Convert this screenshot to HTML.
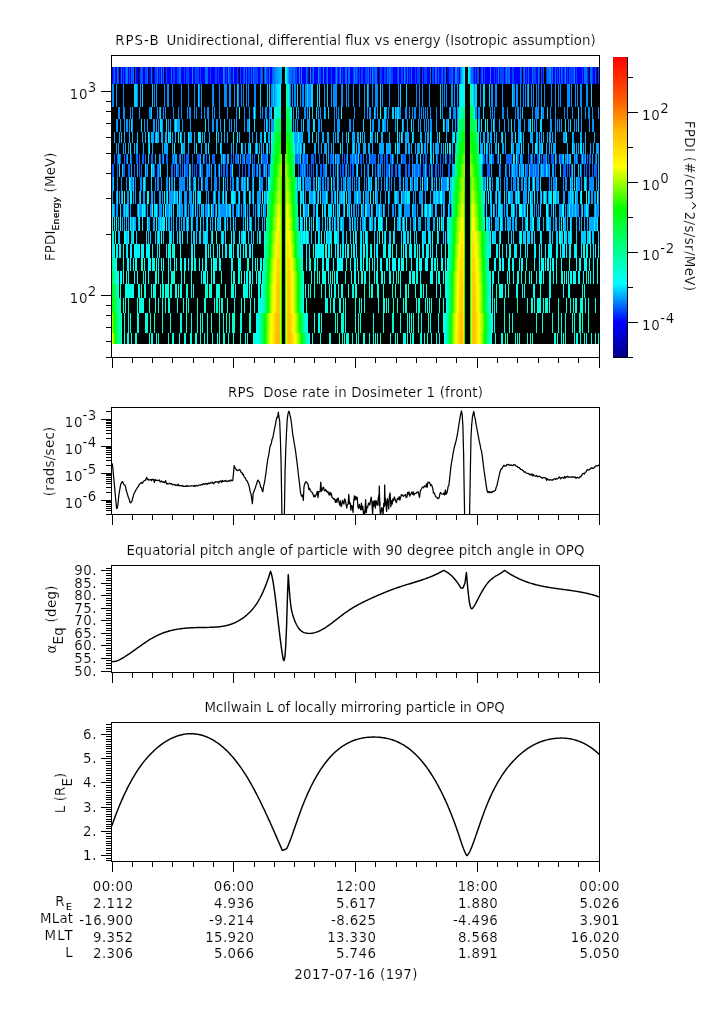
<!DOCTYPE html>
<html lang="en"><head><meta charset="utf-8"><title>RPS-B summary plot 2017-07-16</title>
<style>
html,body{margin:0;padding:0;background:#fff}
svg{display:block;font-family:"DejaVu Sans", "Liberation Sans", sans-serif;font-size:13.33px;fill:#000}
.c path{shape-rendering:crispEdges;fill:none}
.k{stroke:#000;stroke-width:1;shape-rendering:crispEdges;fill:none}
.l path{stroke:#000;stroke-width:1.45;fill:none;stroke-linejoin:round;stroke-linecap:round}
text{white-space:pre;stroke:#fff;stroke-width:0.15px}
</style></head><body>
<svg width="725" height="1019" viewBox="0 0 725 1019">
<rect width="725" height="1019" fill="#fff"/>
<g class="c">
<path stroke="#000" stroke-width="17" d="M112 75.5H599"/>
<path stroke="#0000fe" stroke-width="17" d="M112 75.5h1M115 75.5h2M120 75.5h1M122 75.5h1M124 75.5h1M128 75.5h1M130 75.5h1M136 75.5h2M139 75.5h1M143 75.5h2M149 75.5h2M152 75.5h1M154 75.5h1M158 75.5h1M160 75.5h1M162 75.5h1M165 75.5h1M167 75.5h4M172 75.5h1M175 75.5h2M181 75.5h3M185 75.5h1M189 75.5h3M193 75.5h2M199 75.5h1M201 75.5h4M208 75.5h2M211 75.5h4M217 75.5h1M219 75.5h4M225 75.5h1M227 75.5h1M231 75.5h2M234 75.5h3M238 75.5h1M241 75.5h2M245 75.5h1M247 75.5h1M250 75.5h1M252 75.5h1M258 75.5h2M268 75.5h1M270 75.5h2M297 75.5h2M300 75.5h1M302 75.5h4M308 75.5h1M311 75.5h1M314 75.5h4M321 75.5h2M324 75.5h2M328 75.5h3M332 75.5h3M338 75.5h1M341 75.5h1M343 75.5h2M347 75.5h1M350 75.5h3M358 75.5h1M360 75.5h1M363 75.5h2M369 75.5h1M371 75.5h1M377 75.5h1M379 75.5h1M382 75.5h2M386 75.5h1M393 75.5h4M399 75.5h2M403 75.5h1M406 75.5h1M408 75.5h1M410 75.5h1M412 75.5h3M416 75.5h1M420 75.5h1M423 75.5h1M427 75.5h3M434 75.5h1M437 75.5h1M439 75.5h2M443 75.5h1M447 75.5h2M453 75.5h2M459 75.5h1M474 75.5h1M476 75.5h1M480 75.5h1M483 75.5h1M485 75.5h5M491 75.5h3M495 75.5h1M497 75.5h1M499 75.5h1M504 75.5h1M510 75.5h2M514 75.5h6M525 75.5h1M527 75.5h1M529 75.5h3M536 75.5h2M542 75.5h1M553 75.5h2M556 75.5h1M558 75.5h1M560 75.5h1M563 75.5h1M566 75.5h1M568 75.5h1M575 75.5h1M577 75.5h5M583 75.5h1M588 75.5h1M593 75.5h2M596 75.5h1"/>
<path stroke="#0043ff" stroke-width="17" d="M113 75.5h1M118 75.5h1M123 75.5h1M125 75.5h1M129 75.5h1M132 75.5h1M135 75.5h1M140 75.5h1M142 75.5h1M145 75.5h2M155 75.5h2M159 75.5h1M166 75.5h1M173 75.5h2M177 75.5h2M184 75.5h1M186 75.5h3M195 75.5h4M200 75.5h1M210 75.5h1M215 75.5h2M218 75.5h1M226 75.5h1M229 75.5h2M237 75.5h1M240 75.5h1M243 75.5h1M248 75.5h2M254 75.5h4M260 75.5h1M262 75.5h1M264 75.5h1M266 75.5h2M292 75.5h1M295 75.5h2M307 75.5h1M312 75.5h1M319 75.5h2M326 75.5h1M331 75.5h1M335 75.5h1M337 75.5h1M339 75.5h1M342 75.5h1M353 75.5h1M355 75.5h1M357 75.5h1M359 75.5h1M361 75.5h2M365 75.5h3M373 75.5h2M380 75.5h2M384 75.5h2M388 75.5h1M391 75.5h2M397 75.5h1M401 75.5h2M405 75.5h1M409 75.5h1M415 75.5h1M417 75.5h3M422 75.5h1M424 75.5h3M432 75.5h2M441 75.5h1M444 75.5h1M449 75.5h3M457 75.5h2M473 75.5h1M475 75.5h1M477 75.5h2M481 75.5h1M484 75.5h1M494 75.5h1M496 75.5h1M500 75.5h4M505 75.5h1M507 75.5h1M512 75.5h2M521 75.5h1M523 75.5h1M526 75.5h1M533 75.5h3M539 75.5h1M541 75.5h1M543 75.5h1M546 75.5h1M551 75.5h1M557 75.5h1M562 75.5h1M564 75.5h1M567 75.5h1M569 75.5h5M576 75.5h1M582 75.5h1M587 75.5h1M592 75.5h1M595 75.5h1M598 75.5h1"/>
<path stroke="#006bff" stroke-width="17" d="M114 75.5h1M117 75.5h1M121 75.5h1M127 75.5h1M131 75.5h1M133 75.5h1M141 75.5h1M147 75.5h1M151 75.5h1M157 75.5h1M163 75.5h1M171 75.5h1M179 75.5h2M205 75.5h3M224 75.5h1M233 75.5h1M244 75.5h1M246 75.5h1M251 75.5h1M253 75.5h1M261 75.5h1M269 75.5h1M290 75.5h2M293 75.5h2M306 75.5h1M313 75.5h1M327 75.5h1M345 75.5h2M348 75.5h2M356 75.5h1M368 75.5h1M370 75.5h1M375 75.5h2M387 75.5h1M389 75.5h2M398 75.5h1M407 75.5h1M411 75.5h1M430 75.5h1M435 75.5h2M438 75.5h1M442 75.5h1M445 75.5h1M452 75.5h1M472 75.5h1M482 75.5h1M508 75.5h2M520 75.5h1M524 75.5h1M528 75.5h1M532 75.5h1M538 75.5h1M547 75.5h2M552 75.5h1M555 75.5h1M559 75.5h1M561 75.5h1M584 75.5h3M590 75.5h2"/>
<path stroke="#0088ff" stroke-width="17" d="M126 75.5h1M161 75.5h1M192 75.5h1M223 75.5h1M228 75.5h1M265 75.5h1M299 75.5h1M301 75.5h1M310 75.5h1M318 75.5h1M323 75.5h1M336 75.5h1M340 75.5h1M354 75.5h1M372 75.5h1M404 75.5h1M455 75.5h2M490 75.5h1M498 75.5h1M506 75.5h1M549 75.5h2M565 75.5h1M574 75.5h1"/>
<path stroke="#005cff" stroke-width="17" d="M272 75.5h1"/>
<path stroke="#006aff" stroke-width="17" d="M273 75.5h1"/>
<path stroke="#007aff" stroke-width="17" d="M274 75.5h1"/>
<path stroke="#0089ff" stroke-width="17" d="M275 75.5h1"/>
<path stroke="#0095ff" stroke-width="17" d="M276 75.5h1"/>
<path stroke="#009dff" stroke-width="17" d="M277 75.5h1"/>
<path stroke="#00a6ff" stroke-width="17" d="M278 75.5h1M461 75.5h1"/>
<path stroke="#00afff" stroke-width="17" d="M279 75.5h1"/>
<path stroke="#00b4ff" stroke-width="17" d="M280 75.5h1"/>
<path stroke="#00b5ff" stroke-width="17" d="M281 75.5h1"/>
<path stroke="#00f8ff" stroke-width="17" d="M285 75.5h1M464 75.5h1M468 75.5h1"/>
<path stroke="#00e7ff" stroke-width="17" d="M286 75.5h1"/>
<path stroke="#00caff" stroke-width="17" d="M287 75.5h1"/>
<path stroke="#009fff" stroke-width="17" d="M288 75.5h1"/>
<path stroke="#0067ff" stroke-width="17" d="M289 75.5h1"/>
<path stroke="#0071ff" stroke-width="17" d="M460 75.5h1"/>
<path stroke="#00ccff" stroke-width="17" d="M462 75.5h1"/>
<path stroke="#00e8ff" stroke-width="17" d="M463 75.5h1"/>
<path stroke="#00dbff" stroke-width="17" d="M469 75.5h1"/>
<path stroke="#00b1ff" stroke-width="17" d="M470 75.5h1"/>
<path stroke="#006fff" stroke-width="17" d="M471 75.5h1"/>
<path stroke="#000" stroke-width="23" d="M112 95.5H599"/>
<path stroke="#008cff" stroke-width="23" d="M112 95.5h2M116 95.5h1M123 95.5h1M137 95.5h1M140 95.5h1M154 95.5h1M156 95.5h1M164 95.5h1M167 95.5h2M172 95.5h1M181 95.5h1M188 95.5h1M194 95.5h1M199 95.5h1M201 95.5h1M212 95.5h2M219 95.5h1M224 95.5h3M229 95.5h2M234 95.5h1M238 95.5h1M241 95.5h1M243 95.5h1M246 95.5h1M248 95.5h1M254 95.5h2M271 95.5h2M274 95.5h1M290 95.5h1M292 95.5h1M294 95.5h2M300 95.5h1M302 95.5h2M305 95.5h2M308 95.5h3M324 95.5h1M331 95.5h1M333 95.5h4M341 95.5h2M346 95.5h1M348 95.5h1M353 95.5h1M359 95.5h1M364 95.5h1M368 95.5h1M372 95.5h1M375 95.5h3M382 95.5h1M389 95.5h1M398 95.5h1M416 95.5h1M419 95.5h1M422 95.5h1M429 95.5h1M442 95.5h1M444 95.5h1M446 95.5h1M451 95.5h2M454 95.5h1M457 95.5h1M474 95.5h1M480 95.5h1M491 95.5h2M495 95.5h2M502 95.5h1M513 95.5h2M516 95.5h2M520 95.5h1M523 95.5h1M525 95.5h1M527 95.5h1M531 95.5h1M533 95.5h1M536 95.5h1M538 95.5h1M541 95.5h1M544 95.5h1M551 95.5h1M555 95.5h1M558 95.5h1M560 95.5h1M567 95.5h3M571 95.5h1M575 95.5h1M577 95.5h1M580 95.5h2M586 95.5h2"/>
<path stroke="#00d1ff" stroke-width="23" d="M134 95.5h3M142 95.5h1M152 95.5h1M198 95.5h1M237 95.5h1M260 95.5h1M267 95.5h1M269 95.5h1M273 95.5h1M297 95.5h1M307 95.5h1M311 95.5h2M317 95.5h1M319 95.5h1M327 95.5h1M367 95.5h1M380 95.5h1M400 95.5h1M406 95.5h1M440 95.5h1M475 95.5h2M483 95.5h2M489 95.5h1M512 95.5h1M528 95.5h1M591 95.5h1"/>
<path stroke="#00bdff" stroke-width="23" d="M275 95.5h1"/>
<path stroke="#00d0ff" stroke-width="23" d="M276 95.5h1"/>
<path stroke="#00e0ff" stroke-width="23" d="M277 95.5h1"/>
<path stroke="#00ebff" stroke-width="23" d="M278 95.5h1"/>
<path stroke="#00f6ff" stroke-width="23" d="M279 95.5h1"/>
<path stroke="#00faff" stroke-width="23" d="M280 95.5h1"/>
<path stroke="#00ff92" stroke-width="23" d="M286 95.5h1"/>
<path stroke="#00ffb1" stroke-width="23" d="M287 95.5h1"/>
<path stroke="#00ffe1" stroke-width="23" d="M288 95.5h1"/>
<path stroke="#00ccff" stroke-width="23" d="M289 95.5h1"/>
<path stroke="#00d3ff" stroke-width="23" d="M459 95.5h1"/>
<path stroke="#00f5ff" stroke-width="23" d="M460 95.5h1"/>
<path stroke="#00fff5" stroke-width="23" d="M461 95.5h1"/>
<path stroke="#00ffeb" stroke-width="23" d="M462 95.5h1"/>
<path stroke="#00ffe2" stroke-width="23" d="M463 95.5h1"/>
<path stroke="#00ffde" stroke-width="23" d="M464 95.5h1"/>
<path stroke="#00ff91" stroke-width="23" d="M470 95.5h1"/>
<path stroke="#00ffad" stroke-width="23" d="M471 95.5h1"/>
<path stroke="#00ffd4" stroke-width="23" d="M472 95.5h1"/>
<path stroke="#00d9ff" stroke-width="23" d="M473 95.5h1"/>
<path stroke="#000" stroke-width="12" d="M112 113H599"/>
<path stroke="#008cff" stroke-width="12" d="M118 113h2M123 113h2M130 113h1M132 113h1M139 113h1M149 113h2M157 113h1M159 113h1M163 113h1M165 113h1M173 113h1M178 113h1M181 113h1M187 113h1M189 113h2M194 113h1M196 113h1M201 113h1M204 113h1M207 113h2M212 113h1M214 113h1M219 113h1M227 113h1M236 113h1M244 113h1M249 113h1M253 113h1M255 113h1M260 113h1M262 113h1M265 113h2M269 113h2M293 113h1M298 113h1M304 113h2M307 113h1M318 113h1M320 113h1M325 113h1M334 113h1M336 113h1M338 113h1M354 113h1M364 113h1M367 113h1M369 113h2M375 113h1M377 113h1M386 113h1M388 113h1M396 113h1M399 113h2M405 113h2M409 113h1M412 113h1M414 113h2M419 113h1M421 113h1M423 113h1M425 113h1M427 113h1M430 113h1M436 113h1M442 113h1M449 113h1M453 113h3M457 113h1M475 113h2M478 113h2M490 113h1M492 113h1M494 113h1M502 113h2M507 113h1M515 113h1M517 113h2M520 113h1M532 113h1M535 113h4M542 113h2M550 113h1M555 113h1M564 113h1M567 113h1M572 113h1M581 113h1M585 113h1M588 113h2M592 113h1M598 113h1"/>
<path stroke="#00d1ff" stroke-width="12" d="M151 113h1M160 113h1M271 113h1M296 113h1M309 113h1M312 113h1M316 113h1M324 113h1M328 113h1M374 113h1M384 113h2M392 113h2M395 113h1M397 113h2M440 113h1M450 113h1M458 113h1M483 113h1M522 113h1M541 113h1M547 113h1M578 113h1"/>
<path stroke="#00faff" stroke-width="12" d="M239 113h1M254 113h1M341 113h1M380 113h1"/>
<path stroke="#00ffe8" stroke-width="12" d="M274 113h1"/>
<path stroke="#00ffdf" stroke-width="12" d="M275 113h1"/>
<path stroke="#00ffd7" stroke-width="12" d="M276 113h1"/>
<path stroke="#00ffd0" stroke-width="12" d="M277 113h1"/>
<path stroke="#00ffcc" stroke-width="12" d="M278 113h1"/>
<path stroke="#00ffc7" stroke-width="12" d="M279 113h1"/>
<path stroke="#00ffc6" stroke-width="12" d="M280 113h1M474 113h1"/>
<path stroke="#00ff43" stroke-width="12" d="M286 113h1M470 113h1"/>
<path stroke="#00ff4f" stroke-width="12" d="M287 113h1"/>
<path stroke="#00ff68" stroke-width="12" d="M288 113h1"/>
<path stroke="#00ff86" stroke-width="12" d="M289 113h1"/>
<path stroke="#00ffb1" stroke-width="12" d="M290 113h1"/>
<path stroke="#00ffda" stroke-width="12" d="M291 113h1"/>
<path stroke="#00ffd9" stroke-width="12" d="M459 113h1"/>
<path stroke="#00ffc0" stroke-width="12" d="M460 113h1"/>
<path stroke="#00ffab" stroke-width="12" d="M461 113h1"/>
<path stroke="#00ff9d" stroke-width="12" d="M462 113h1"/>
<path stroke="#00ff8f" stroke-width="12" d="M463 113h1"/>
<path stroke="#00ff8a" stroke-width="12" d="M464 113h1"/>
<path stroke="#00ff52" stroke-width="12" d="M471 113h1"/>
<path stroke="#00ff6e" stroke-width="12" d="M472 113h1"/>
<path stroke="#00ff93" stroke-width="12" d="M473 113h1"/>
<path stroke="#000" stroke-width="13" d="M112 125.5H599"/>
<path stroke="#0098ff" stroke-width="13" d="M116 125.5h2M120 125.5h1M124 125.5h1M126 125.5h2M129 125.5h1M132 125.5h1M144 125.5h1M147 125.5h1M153 125.5h2M156 125.5h1M158 125.5h1M162 125.5h1M168 125.5h1M170 125.5h1M174 125.5h1M177 125.5h3M182 125.5h1M190 125.5h1M208 125.5h1M212 125.5h2M216 125.5h2M220 125.5h1M229 125.5h1M231 125.5h1M234 125.5h1M236 125.5h1M244 125.5h1M247 125.5h2M264 125.5h1M267 125.5h1M269 125.5h1M271 125.5h3M293 125.5h1M295 125.5h1M297 125.5h1M301 125.5h1M307 125.5h3M318 125.5h2M321 125.5h1M334 125.5h1M337 125.5h3M349 125.5h2M353 125.5h1M372 125.5h2M378 125.5h2M382 125.5h1M384 125.5h2M387 125.5h1M395 125.5h1M403 125.5h1M407 125.5h1M413 125.5h1M418 125.5h1M420 125.5h1M424 125.5h1M426 125.5h1M428 125.5h1M430 125.5h2M436 125.5h1M444 125.5h1M446 125.5h2M452 125.5h1M455 125.5h1M457 125.5h1M479 125.5h1M491 125.5h1M494 125.5h1M499 125.5h1M504 125.5h1M508 125.5h1M514 125.5h1M518 125.5h3M524 125.5h1M528 125.5h2M534 125.5h1M536 125.5h1M550 125.5h2M555 125.5h1M557 125.5h1M559 125.5h1M561 125.5h1M568 125.5h1M574 125.5h1M576 125.5h1M581 125.5h1M589 125.5h1M592 125.5h2"/>
<path stroke="#00ddff" stroke-width="13" d="M131 125.5h1M141 125.5h1M160 125.5h2M166 125.5h1M176 125.5h1M205 125.5h1M224 125.5h1M249 125.5h1M254 125.5h1M266 125.5h1M303 125.5h1M313 125.5h2M363 125.5h1M370 125.5h1M383 125.5h1M397 125.5h1M402 125.5h1M411 125.5h1M448 125.5h1M478 125.5h1M481 125.5h1M487 125.5h1M511 125.5h1M532 125.5h1M540 125.5h2M565 125.5h1M570 125.5h1M578 125.5h1"/>
<path stroke="#00fffc" stroke-width="13" d="M175 125.5h1M443 125.5h1M485 125.5h1M493 125.5h1"/>
<path stroke="#00ff92" stroke-width="13" d="M274 125.5h1"/>
<path stroke="#00ff80" stroke-width="13" d="M275 125.5h1"/>
<path stroke="#00ff70" stroke-width="13" d="M276 125.5h1"/>
<path stroke="#00ff63" stroke-width="13" d="M277 125.5h1"/>
<path stroke="#00ff5a" stroke-width="13" d="M278 125.5h1"/>
<path stroke="#00ff50" stroke-width="13" d="M279 125.5h1"/>
<path stroke="#00ff4e" stroke-width="13" d="M280 125.5h1M288 125.5h1M464 125.5h1"/>
<path stroke="#00ff3c" stroke-width="13" d="M286 125.5h1M470 125.5h1"/>
<path stroke="#00ff40" stroke-width="13" d="M287 125.5h1"/>
<path stroke="#00ff5b" stroke-width="13" d="M289 125.5h1M462 125.5h1"/>
<path stroke="#00ff6f" stroke-width="13" d="M290 125.5h1"/>
<path stroke="#00ff87" stroke-width="13" d="M291 125.5h1"/>
<path stroke="#00ff94" stroke-width="13" d="M458 125.5h1M476 125.5h1"/>
<path stroke="#00ff85" stroke-width="13" d="M459 125.5h1"/>
<path stroke="#00ff73" stroke-width="13" d="M460 125.5h1"/>
<path stroke="#00ff64" stroke-width="13" d="M461 125.5h1"/>
<path stroke="#00ff51" stroke-width="13" d="M463 125.5h1"/>
<path stroke="#00ff3f" stroke-width="13" d="M471 125.5h1"/>
<path stroke="#00ff4c" stroke-width="13" d="M472 125.5h1"/>
<path stroke="#00ff58" stroke-width="13" d="M473 125.5h1"/>
<path stroke="#00ff6a" stroke-width="13" d="M474 125.5h1"/>
<path stroke="#00ff81" stroke-width="13" d="M475 125.5h1"/>
<path stroke="#00ffed" stroke-width="13" d="M530 125.5h1"/>
<path stroke="#000" stroke-width="11" d="M112 137.5H599"/>
<path stroke="#00aaff" stroke-width="11" d="M114 137.5h1M119 137.5h1M121 137.5h1M124 137.5h1M129 137.5h1M132 137.5h1M137 137.5h1M142 137.5h1M145 137.5h1M149 137.5h1M151 137.5h3M155 137.5h1M157 137.5h2M161 137.5h2M165 137.5h2M169 137.5h1M172 137.5h1M175 137.5h1M181 137.5h1M184 137.5h1M189 137.5h3M194 137.5h1M202 137.5h1M204 137.5h1M209 137.5h1M218 137.5h1M221 137.5h1M224 137.5h1M227 137.5h1M239 137.5h1M249 137.5h1M252 137.5h1M256 137.5h1M260 137.5h2M268 137.5h2M294 137.5h4M299 137.5h4M308 137.5h2M316 137.5h1M318 137.5h1M322 137.5h2M327 137.5h2M333 137.5h1M335 137.5h1M337 137.5h2M342 137.5h1M346 137.5h1M352 137.5h3M357 137.5h2M362 137.5h1M364 137.5h1M371 137.5h2M375 137.5h1M381 137.5h2M389 137.5h1M399 137.5h1M402 137.5h1M405 137.5h4M413 137.5h1M420 137.5h2M425 137.5h1M427 137.5h2M431 137.5h1M437 137.5h1M446 137.5h1M452 137.5h1M456 137.5h1M480 137.5h1M483 137.5h2M487 137.5h2M490 137.5h2M494 137.5h1M496 137.5h1M501 137.5h1M505 137.5h1M511 137.5h2M518 137.5h2M521 137.5h1M523 137.5h1M530 137.5h3M536 137.5h2M539 137.5h1M541 137.5h1M543 137.5h1M547 137.5h1M549 137.5h2M552 137.5h1M555 137.5h1M563 137.5h3M572 137.5h2M580 137.5h2M585 137.5h1M594 137.5h1"/>
<path stroke="#00fff2" stroke-width="11" d="M148 137.5h1M271 137.5h1"/>
<path stroke="#00efff" stroke-width="11" d="M156 137.5h1M168 137.5h1M170 137.5h1M178 137.5h1M180 137.5h1M188 137.5h1M198 137.5h3M216 137.5h1M233 137.5h1M237 137.5h1M264 137.5h2M272 137.5h1M312 137.5h1M348 137.5h1M360 137.5h1M370 137.5h1M377 137.5h1M397 137.5h1M401 137.5h1M412 137.5h1M430 137.5h1M439 137.5h1M453 137.5h2M478 137.5h1M502 137.5h1M515 137.5h1M520 137.5h1M566 137.5h1"/>
<path stroke="#00ff88" stroke-width="11" d="M273 137.5h1"/>
<path stroke="#00ff6a" stroke-width="11" d="M274 137.5h1"/>
<path stroke="#00ff4f" stroke-width="11" d="M275 137.5h1"/>
<path stroke="#00ff3a" stroke-width="11" d="M276 137.5h1"/>
<path stroke="#00ff2b" stroke-width="11" d="M277 137.5h1"/>
<path stroke="#00ff1c" stroke-width="11" d="M278 137.5h1"/>
<path stroke="#00ff0e" stroke-width="11" d="M279 137.5h1M463 137.5h1"/>
<path stroke="#00ff0c" stroke-width="11" d="M280 137.5h1M464 137.5h1"/>
<path stroke="#00ff06" stroke-width="11" d="M286 137.5h1M470 137.5h1"/>
<path stroke="#00ff0a" stroke-width="11" d="M287 137.5h1"/>
<path stroke="#00ff1d" stroke-width="11" d="M288 137.5h1"/>
<path stroke="#00ff2f" stroke-width="11" d="M289 137.5h1"/>
<path stroke="#00ff46" stroke-width="11" d="M290 137.5h1"/>
<path stroke="#00ff66" stroke-width="11" d="M291 137.5h1"/>
<path stroke="#00ff8a" stroke-width="11" d="M292 137.5h1"/>
<path stroke="#00ffe3" stroke-width="11" d="M293 137.5h1M298 137.5h1"/>
<path stroke="#00ff95" stroke-width="11" d="M457 137.5h1"/>
<path stroke="#00ff81" stroke-width="11" d="M458 137.5h1"/>
<path stroke="#00ff61" stroke-width="11" d="M459 137.5h1"/>
<path stroke="#00ff45" stroke-width="11" d="M460 137.5h1"/>
<path stroke="#00ff31" stroke-width="11" d="M461 137.5h1"/>
<path stroke="#00ff20" stroke-width="11" d="M462 137.5h1"/>
<path stroke="#00ff08" stroke-width="11" d="M471 137.5h1"/>
<path stroke="#00ff17" stroke-width="11" d="M472 137.5h1"/>
<path stroke="#00ff28" stroke-width="11" d="M473 137.5h1"/>
<path stroke="#00ff38" stroke-width="11" d="M474 137.5h1"/>
<path stroke="#00ff50" stroke-width="11" d="M475 137.5h1"/>
<path stroke="#00ff6d" stroke-width="11" d="M476 137.5h1"/>
<path stroke="#00ff8d" stroke-width="11" d="M477 137.5h1"/>
<path stroke="#000" stroke-width="11" d="M112 148.5H599"/>
<path stroke="#00aaff" stroke-width="11" d="M116 148.5h1M118 148.5h1M123 148.5h1M125 148.5h1M128 148.5h1M134 148.5h1M136 148.5h2M143 148.5h1M148 148.5h1M152 148.5h1M162 148.5h1M164 148.5h4M172 148.5h1M182 148.5h3M188 148.5h1M194 148.5h1M201 148.5h1M205 148.5h2M216 148.5h1M221 148.5h1M231 148.5h1M233 148.5h1M236 148.5h1M242 148.5h1M245 148.5h1M248 148.5h2M255 148.5h1M257 148.5h1M259 148.5h1M261 148.5h1M263 148.5h1M266 148.5h1M269 148.5h1M295 148.5h2M298 148.5h2M301 148.5h1M303 148.5h1M314 148.5h2M318 148.5h1M321 148.5h1M324 148.5h3M328 148.5h1M331 148.5h1M333 148.5h1M342 148.5h1M347 148.5h1M352 148.5h1M354 148.5h1M356 148.5h1M358 148.5h2M363 148.5h3M368 148.5h2M372 148.5h1M379 148.5h5M386 148.5h5M398 148.5h2M405 148.5h2M408 148.5h2M411 148.5h1M415 148.5h1M417 148.5h3M422 148.5h1M424 148.5h2M427 148.5h1M431 148.5h1M433 148.5h1M435 148.5h4M441 148.5h1M443 148.5h1M452 148.5h1M455 148.5h1M480 148.5h3M487 148.5h1M489 148.5h1M491 148.5h1M495 148.5h2M502 148.5h2M505 148.5h1M512 148.5h2M516 148.5h4M523 148.5h1M528 148.5h1M532 148.5h1M537 148.5h1M539 148.5h3M546 148.5h1M549 148.5h1M551 148.5h1M553 148.5h3M567 148.5h1M573 148.5h2M576 148.5h1M578 148.5h1M583 148.5h1M585 148.5h1M590 148.5h1M593 148.5h1M596 148.5h3"/>
<path stroke="#00efff" stroke-width="11" d="M130 148.5h1M149 148.5h1M181 148.5h1M196 148.5h1M208 148.5h1M220 148.5h1M241 148.5h1M250 148.5h1M256 148.5h1M267 148.5h1M271 148.5h1M294 148.5h1M297 148.5h1M300 148.5h1M304 148.5h1M340 148.5h1M353 148.5h1M395 148.5h1M397 148.5h1M421 148.5h1M445 148.5h1M447 148.5h1M449 148.5h2M484 148.5h1M486 148.5h1M511 148.5h1M521 148.5h1M535 148.5h2M542 148.5h1M572 148.5h1M580 148.5h2"/>
<path stroke="#00fff2" stroke-width="11" d="M174 148.5h1M430 148.5h1M498 148.5h1"/>
<path stroke="#00ff95" stroke-width="11" d="M272 148.5h1"/>
<path stroke="#00ff81" stroke-width="11" d="M273 148.5h1"/>
<path stroke="#00ff5e" stroke-width="11" d="M274 148.5h1"/>
<path stroke="#00ff3e" stroke-width="11" d="M275 148.5h1"/>
<path stroke="#00ff25" stroke-width="11" d="M276 148.5h1"/>
<path stroke="#00ff13" stroke-width="11" d="M277 148.5h1"/>
<path stroke="#00ff01" stroke-width="11" d="M278 148.5h1"/>
<path stroke="#1bff00" stroke-width="11" d="M279 148.5h1M463 148.5h1"/>
<path stroke="#1fff00" stroke-width="11" d="M280 148.5h1M287 148.5h1M464 148.5h1M471 148.5h1"/>
<path stroke="#23ff00" stroke-width="11" d="M286 148.5h1"/>
<path stroke="#00ff02" stroke-width="11" d="M288 148.5h1"/>
<path stroke="#00ff16" stroke-width="11" d="M289 148.5h1"/>
<path stroke="#00ff2c" stroke-width="11" d="M290 148.5h1"/>
<path stroke="#00ff4a" stroke-width="11" d="M291 148.5h1"/>
<path stroke="#00ff6f" stroke-width="11" d="M292 148.5h1"/>
<path stroke="#00ff90" stroke-width="11" d="M293 148.5h1M478 148.5h1"/>
<path stroke="#00ff8f" stroke-width="11" d="M456 148.5h1"/>
<path stroke="#00ff73" stroke-width="11" d="M457 148.5h1"/>
<path stroke="#00ff53" stroke-width="11" d="M458 148.5h1"/>
<path stroke="#00ff36" stroke-width="11" d="M459 148.5h1"/>
<path stroke="#00ff20" stroke-width="11" d="M460 148.5h1"/>
<path stroke="#00ff10" stroke-width="11" d="M461 148.5h1"/>
<path stroke="#04ff00" stroke-width="11" d="M462 148.5h1"/>
<path stroke="#24ff00" stroke-width="11" d="M470 148.5h1"/>
<path stroke="#07ff00" stroke-width="11" d="M472 148.5h1"/>
<path stroke="#00ff0f" stroke-width="11" d="M473 148.5h1"/>
<path stroke="#00ff1f" stroke-width="11" d="M474 148.5h1"/>
<path stroke="#00ff37" stroke-width="11" d="M475 148.5h1"/>
<path stroke="#00ff54" stroke-width="11" d="M476 148.5h1"/>
<path stroke="#00ff75" stroke-width="11" d="M477 148.5h1"/>
<path stroke="#000" stroke-width="10" d="M112 159H599"/>
<path stroke="#0065ff" stroke-width="10" d="M114 159h1M117 159h1M120 159h1M124 159h1M126 159h1M131 159h1M136 159h2M139 159h1M142 159h2M145 159h1M151 159h2M160 159h1M162 159h1M166 159h2M172 159h1M174 159h1M179 159h1M182 159h1M184 159h1M186 159h3M192 159h1M197 159h3M204 159h1M206 159h1M212 159h3M222 159h1M225 159h1M231 159h1M233 159h1M235 159h3M242 159h2M246 159h4M252 159h1M254 159h1M262 159h5M270 159h1M295 159h3M299 159h1M302 159h1M304 159h3M311 159h3M315 159h1M319 159h1M323 159h1M330 159h3M336 159h1M339 159h1M342 159h1M344 159h1M346 159h1M350 159h2M353 159h2M356 159h2M360 159h2M363 159h1M366 159h1M370 159h6M380 159h3M384 159h1M386 159h2M390 159h2M393 159h1M402 159h4M409 159h1M412 159h1M423 159h1M425 159h2M437 159h1M440 159h1M443 159h1M446 159h1M449 159h2M452 159h1M483 159h2M487 159h1M492 159h2M497 159h1M506 159h6M517 159h2M522 159h1M528 159h1M530 159h1M532 159h1M534 159h1M537 159h2M541 159h1M543 159h3M548 159h1M551 159h3M556 159h1M560 159h2M566 159h1M568 159h1M575 159h1M577 159h1M581 159h1M583 159h2M587 159h1M589 159h2M595 159h1"/>
<path stroke="#00aaff" stroke-width="10" d="M118 159h2M127 159h1M130 159h1M155 159h1M159 159h1M163 159h1M173 159h1M175 159h2M180 159h1M200 159h1M203 159h1M209 159h1M224 159h1M227 159h2M238 159h1M240 159h1M244 159h1M250 159h1M267 159h1M298 159h1M303 159h1M307 159h1M326 159h1M328 159h1M333 159h1M337 159h2M347 159h1M352 159h1M369 159h1M378 159h1M397 159h1M401 159h1M416 159h2M436 159h1M445 159h1M486 159h1M489 159h2M498 159h1M520 159h2M531 159h1M546 159h1M559 159h1M562 159h1M565 159h1M569 159h1M574 159h1M576 159h1M585 159h1M592 159h1M596 159h1M598 159h1"/>
<path stroke="#00d3ff" stroke-width="10" d="M148 159h1M221 159h1M223 159h1M258 159h1M261 159h1M300 159h1M335 159h1M355 159h1M392 159h1M420 159h1M430 159h2M433 159h1M482 159h1M491 159h1M500 159h1M514 159h1M539 159h1M555 159h1M563 159h1M567 159h1M570 159h1M582 159h1"/>
<path stroke="#00ff90" stroke-width="10" d="M271 159h1"/>
<path stroke="#00ff77" stroke-width="10" d="M272 159h1"/>
<path stroke="#00ff57" stroke-width="10" d="M273 159h1M457 159h1"/>
<path stroke="#00ff39" stroke-width="10" d="M274 159h1M476 159h1"/>
<path stroke="#00ff20" stroke-width="10" d="M275 159h1"/>
<path stroke="#00ff0b" stroke-width="10" d="M276 159h1"/>
<path stroke="#08ff00" stroke-width="10" d="M277 159h1"/>
<path stroke="#25ff00" stroke-width="10" d="M278 159h1"/>
<path stroke="#44ff00" stroke-width="10" d="M279 159h1"/>
<path stroke="#50ff00" stroke-width="10" d="M280 159h1"/>
<path stroke="#54ff00" stroke-width="10" d="M281 159h1M464 159h1"/>
<path stroke="#4eff00" stroke-width="10" d="M285 159h1M470 159h1"/>
<path stroke="#4aff00" stroke-width="10" d="M286 159h1"/>
<path stroke="#3aff00" stroke-width="10" d="M287 159h1M462 159h1"/>
<path stroke="#1aff00" stroke-width="10" d="M288 159h1"/>
<path stroke="#00ff02" stroke-width="10" d="M289 159h1"/>
<path stroke="#00ff13" stroke-width="10" d="M290 159h1"/>
<path stroke="#00ff2b" stroke-width="10" d="M291 159h1"/>
<path stroke="#00ff48" stroke-width="10" d="M292 159h1"/>
<path stroke="#00ff67" stroke-width="10" d="M293 159h1"/>
<path stroke="#00ff89" stroke-width="10" d="M294 159h1"/>
<path stroke="#00efff" stroke-width="10" d="M358 159h1M480 159h1M513 159h1"/>
<path stroke="#00ff93" stroke-width="10" d="M455 159h1"/>
<path stroke="#00ff7c" stroke-width="10" d="M456 159h1"/>
<path stroke="#00ff35" stroke-width="10" d="M458 159h1"/>
<path stroke="#00ff1a" stroke-width="10" d="M459 159h1"/>
<path stroke="#00ff05" stroke-width="10" d="M460 159h1"/>
<path stroke="#17ff00" stroke-width="10" d="M461 159h1"/>
<path stroke="#4fff00" stroke-width="10" d="M463 159h1"/>
<path stroke="#49ff00" stroke-width="10" d="M471 159h1"/>
<path stroke="#33ff00" stroke-width="10" d="M472 159h1"/>
<path stroke="#11ff00" stroke-width="10" d="M473 159h1"/>
<path stroke="#00ff08" stroke-width="10" d="M474 159h1"/>
<path stroke="#00ff1e" stroke-width="10" d="M475 159h1"/>
<path stroke="#00ff5b" stroke-width="10" d="M477 159h1"/>
<path stroke="#00ff7f" stroke-width="10" d="M478 159h1"/>
<path stroke="#00ff94" stroke-width="10" d="M479 159h1"/>
<path stroke="#00fffc" stroke-width="10" d="M481 159h1M516 159h1"/>
<path stroke="#000" stroke-width="13" d="M112 170.5H599"/>
<path stroke="#0065ff" stroke-width="13" d="M112 170.5h2M117 170.5h1M123 170.5h2M128 170.5h2M134 170.5h1M139 170.5h1M141 170.5h1M146 170.5h1M154 170.5h1M157 170.5h1M159 170.5h1M171 170.5h2M174 170.5h1M177 170.5h2M180 170.5h1M182 170.5h1M185 170.5h3M192 170.5h1M194 170.5h1M196 170.5h1M199 170.5h1M201 170.5h2M206 170.5h1M208 170.5h1M214 170.5h1M218 170.5h1M221 170.5h1M223 170.5h2M226 170.5h2M230 170.5h2M239 170.5h1M242 170.5h1M245 170.5h1M248 170.5h2M253 170.5h2M256 170.5h1M260 170.5h1M263 170.5h1M265 170.5h1M268 170.5h2M298 170.5h1M300 170.5h2M303 170.5h1M305 170.5h1M307 170.5h1M309 170.5h1M311 170.5h1M313 170.5h1M317 170.5h1M320 170.5h2M323 170.5h2M330 170.5h1M335 170.5h1M338 170.5h1M340 170.5h1M342 170.5h2M345 170.5h1M348 170.5h1M350 170.5h1M352 170.5h2M361 170.5h1M367 170.5h1M375 170.5h1M377 170.5h1M379 170.5h1M382 170.5h1M384 170.5h1M386 170.5h3M391 170.5h2M395 170.5h2M398 170.5h1M400 170.5h1M405 170.5h2M408 170.5h2M413 170.5h1M415 170.5h3M419 170.5h2M423 170.5h2M426 170.5h1M429 170.5h1M432 170.5h1M435 170.5h2M438 170.5h1M440 170.5h1M442 170.5h1M448 170.5h2M482 170.5h1M487 170.5h3M500 170.5h1M506 170.5h1M511 170.5h1M515 170.5h1M517 170.5h1M520 170.5h1M526 170.5h2M530 170.5h3M534 170.5h1M536 170.5h2M540 170.5h1M544 170.5h2M548 170.5h1M555 170.5h1M563 170.5h3M567 170.5h1M569 170.5h1M571 170.5h1M581 170.5h1M584 170.5h1M586 170.5h1M589 170.5h1M592 170.5h1M594 170.5h3"/>
<path stroke="#00d3ff" stroke-width="13" d="M119 170.5h1M122 170.5h1M145 170.5h1M153 170.5h1M189 170.5h1M219 170.5h1M264 170.5h1M372 170.5h1M389 170.5h1M425 170.5h1M453 170.5h2M481 170.5h1M512 170.5h1M519 170.5h1M523 170.5h1M529 170.5h1M541 170.5h1M572 170.5h1M578 170.5h1M580 170.5h1M598 170.5h1"/>
<path stroke="#00aaff" stroke-width="13" d="M131 170.5h1M137 170.5h1M147 170.5h1M152 170.5h1M158 170.5h1M167 170.5h1M176 170.5h1M184 170.5h1M190 170.5h1M207 170.5h1M209 170.5h1M211 170.5h1M215 170.5h1M252 170.5h1M257 170.5h1M259 170.5h1M266 170.5h1M302 170.5h1M304 170.5h1M316 170.5h1M325 170.5h2M333 170.5h1M346 170.5h1M356 170.5h1M364 170.5h1M368 170.5h1M378 170.5h1M380 170.5h1M399 170.5h1M412 170.5h1M414 170.5h1M418 170.5h1M431 170.5h1M452 170.5h1M491 170.5h1M499 170.5h1M505 170.5h1M509 170.5h1M513 170.5h2M516 170.5h1M521 170.5h2M525 170.5h1M533 170.5h1M535 170.5h1M538 170.5h1M542 170.5h2M547 170.5h1M549 170.5h1M552 170.5h2M574 170.5h1"/>
<path stroke="#00fffc" stroke-width="13" d="M151 170.5h1"/>
<path stroke="#00efff" stroke-width="13" d="M160 170.5h1M200 170.5h1M232 170.5h1M337 170.5h1M357 170.5h1M546 170.5h1M560 170.5h1"/>
<path stroke="#00ff93" stroke-width="13" d="M270 170.5h1"/>
<path stroke="#00ff81" stroke-width="13" d="M271 170.5h1"/>
<path stroke="#00ff5d" stroke-width="13" d="M272 170.5h1"/>
<path stroke="#00ff3c" stroke-width="13" d="M273 170.5h1"/>
<path stroke="#00ff1d" stroke-width="13" d="M274 170.5h1"/>
<path stroke="#00ff04" stroke-width="13" d="M275 170.5h1"/>
<path stroke="#1cff00" stroke-width="13" d="M276 170.5h1"/>
<path stroke="#39ff00" stroke-width="13" d="M277 170.5h1"/>
<path stroke="#5aff00" stroke-width="13" d="M278 170.5h1"/>
<path stroke="#7bff00" stroke-width="13" d="M279 170.5h1"/>
<path stroke="#84ff00" stroke-width="13" d="M280 170.5h1"/>
<path stroke="#89ff00" stroke-width="13" d="M281 170.5h1"/>
<path stroke="#7eff00" stroke-width="13" d="M285 170.5h1M470 170.5h1"/>
<path stroke="#79ff00" stroke-width="13" d="M286 170.5h1"/>
<path stroke="#67ff00" stroke-width="13" d="M287 170.5h1"/>
<path stroke="#43ff00" stroke-width="13" d="M288 170.5h1"/>
<path stroke="#20ff00" stroke-width="13" d="M289 170.5h1"/>
<path stroke="#00ff00" stroke-width="13" d="M290 170.5h1"/>
<path stroke="#00ff1c" stroke-width="13" d="M291 170.5h1"/>
<path stroke="#00ff3d" stroke-width="13" d="M292 170.5h1"/>
<path stroke="#00ff61" stroke-width="13" d="M293 170.5h1"/>
<path stroke="#00ff87" stroke-width="13" d="M294 170.5h1M455 170.5h1"/>
<path stroke="#00ff60" stroke-width="13" d="M456 170.5h1"/>
<path stroke="#00ff3a" stroke-width="13" d="M457 170.5h1"/>
<path stroke="#00ff19" stroke-width="13" d="M458 170.5h1"/>
<path stroke="#06ff00" stroke-width="13" d="M459 170.5h1"/>
<path stroke="#28ff00" stroke-width="13" d="M460 170.5h1"/>
<path stroke="#4cff00" stroke-width="13" d="M461 170.5h1"/>
<path stroke="#71ff00" stroke-width="13" d="M462 170.5h1"/>
<path stroke="#83ff00" stroke-width="13" d="M463 170.5h1"/>
<path stroke="#88ff00" stroke-width="13" d="M464 170.5h1"/>
<path stroke="#7aff00" stroke-width="13" d="M471 170.5h1"/>
<path stroke="#6dff00" stroke-width="13" d="M472 170.5h1"/>
<path stroke="#4bff00" stroke-width="13" d="M473 170.5h1"/>
<path stroke="#29ff00" stroke-width="13" d="M474 170.5h1"/>
<path stroke="#0cff00" stroke-width="13" d="M475 170.5h1"/>
<path stroke="#00ff11" stroke-width="13" d="M476 170.5h1"/>
<path stroke="#00ff2c" stroke-width="13" d="M477 170.5h1"/>
<path stroke="#00ff4d" stroke-width="13" d="M478 170.5h1"/>
<path stroke="#00ff70" stroke-width="13" d="M479 170.5h1"/>
<path stroke="#00ff8e" stroke-width="13" d="M480 170.5h1"/>
<path stroke="#000" stroke-width="14" d="M112 184H599"/>
<path stroke="#008cff" stroke-width="14" d="M112 184h1M117 184h1M121 184h1M126 184h1M131 184h2M135 184h1M140 184h2M145 184h1M155 184h1M157 184h2M161 184h1M166 184h2M171 184h2M179 184h6M187 184h1M190 184h1M193 184h1M198 184h1M202 184h1M205 184h3M211 184h1M214 184h3M219 184h1M225 184h1M227 184h1M230 184h1M232 184h2M236 184h1M238 184h1M241 184h1M243 184h1M245 184h1M248 184h1M252 184h1M260 184h3M266 184h1M297 184h1M302 184h1M305 184h6M313 184h2M319 184h2M322 184h2M325 184h1M327 184h2M333 184h2M338 184h1M341 184h1M343 184h2M347 184h4M352 184h1M354 184h1M356 184h1M358 184h1M364 184h1M366 184h1M370 184h1M378 184h1M381 184h1M384 184h1M387 184h1M389 184h1M391 184h1M394 184h1M399 184h2M405 184h3M411 184h2M415 184h2M420 184h1M424 184h3M431 184h1M434 184h1M439 184h1M442 184h5M483 184h2M492 184h1M500 184h1M504 184h1M506 184h2M511 184h1M513 184h3M517 184h1M521 184h2M525 184h2M528 184h1M532 184h1M536 184h3M549 184h1M551 184h1M553 184h3M563 184h1M565 184h2M571 184h1M577 184h3M581 184h1M586 184h1M589 184h5M596 184h1"/>
<path stroke="#00d1ff" stroke-width="14" d="M113 184h1M130 184h1M133 184h1M143 184h1M151 184h1M174 184h1M194 184h2M201 184h1M237 184h1M242 184h1M244 184h1M253 184h1M259 184h1M299 184h1M303 184h1M337 184h1M345 184h1M359 184h1M368 184h2M371 184h1M375 184h2M386 184h1M403 184h1M410 184h1M414 184h1M417 184h1M432 184h1M436 184h1M441 184h1M448 184h1M450 184h2M485 184h1M489 184h2M496 184h3M518 184h1M524 184h1M529 184h1M534 184h1M540 184h1M556 184h1M570 184h1M572 184h1M574 184h1M576 184h1M584 184h1M598 184h1"/>
<path stroke="#00faff" stroke-width="14" d="M129 184h1M169 184h1M189 184h1M223 184h1M247 184h1M269 184h1M300 184h1M316 184h1M318 184h1M422 184h1M427 184h1M447 184h1M452 184h1M533 184h1M585 184h1"/>
<path stroke="#00ffe7" stroke-width="14" d="M144 184h1"/>
<path stroke="#00fff3" stroke-width="14" d="M268 184h1M298 184h1M331 184h1M487 184h1"/>
<path stroke="#00ff8a" stroke-width="14" d="M270 184h1"/>
<path stroke="#00ff67" stroke-width="14" d="M271 184h1"/>
<path stroke="#00ff44" stroke-width="14" d="M272 184h1"/>
<path stroke="#00ff22" stroke-width="14" d="M273 184h1"/>
<path stroke="#00ff05" stroke-width="14" d="M274 184h1M477 184h1"/>
<path stroke="#25ff00" stroke-width="14" d="M275 184h1"/>
<path stroke="#44ff00" stroke-width="14" d="M276 184h1"/>
<path stroke="#64ff00" stroke-width="14" d="M277 184h1"/>
<path stroke="#86ff00" stroke-width="14" d="M278 184h1"/>
<path stroke="#a6ff00" stroke-width="14" d="M279 184h1"/>
<path stroke="#9fff00" stroke-width="14" d="M280 184h1M463 184h1"/>
<path stroke="#23ff00" stroke-width="14" d="M281 184h1M464 184h1"/>
<path stroke="#19ff00" stroke-width="14" d="M285 184h1M458 184h1M470 184h1"/>
<path stroke="#95ff00" stroke-width="14" d="M286 184h1M471 184h1"/>
<path stroke="#98ff00" stroke-width="14" d="M287 184h1"/>
<path stroke="#78ff00" stroke-width="14" d="M288 184h1"/>
<path stroke="#55ff00" stroke-width="14" d="M289 184h1"/>
<path stroke="#35ff00" stroke-width="14" d="M290 184h1"/>
<path stroke="#12ff00" stroke-width="14" d="M291 184h1"/>
<path stroke="#00ff10" stroke-width="14" d="M292 184h1"/>
<path stroke="#00ff30" stroke-width="14" d="M293 184h1"/>
<path stroke="#00ff53" stroke-width="14" d="M294 184h1"/>
<path stroke="#00ff78" stroke-width="14" d="M295 184h1"/>
<path stroke="#00ff90" stroke-width="14" d="M296 184h1M453 184h1"/>
<path stroke="#00ff77" stroke-width="14" d="M454 184h1"/>
<path stroke="#00ff51" stroke-width="14" d="M455 184h1"/>
<path stroke="#00ff2e" stroke-width="14" d="M456 184h1"/>
<path stroke="#00ff0d" stroke-width="14" d="M457 184h1"/>
<path stroke="#3dff00" stroke-width="14" d="M459 184h1"/>
<path stroke="#5dff00" stroke-width="14" d="M460 184h1M474 184h1"/>
<path stroke="#81ff00" stroke-width="14" d="M461 184h1"/>
<path stroke="#a2ff00" stroke-width="14" d="M462 184h1"/>
<path stroke="#9cff00" stroke-width="14" d="M472 184h1"/>
<path stroke="#7fff00" stroke-width="14" d="M473 184h1"/>
<path stroke="#3fff00" stroke-width="14" d="M475 184h1"/>
<path stroke="#22ff00" stroke-width="14" d="M476 184h1"/>
<path stroke="#00ff20" stroke-width="14" d="M478 184h1"/>
<path stroke="#00ff41" stroke-width="14" d="M479 184h1"/>
<path stroke="#00ff62" stroke-width="14" d="M480 184h1"/>
<path stroke="#00ff86" stroke-width="14" d="M481 184h1"/>
<path stroke="#00ff94" stroke-width="14" d="M482 184h1"/>
<path stroke="#000" stroke-width="13" d="M112 197.5H599"/>
<path stroke="#009eff" stroke-width="13" d="M112 197.5h1M116 197.5h1M119 197.5h1M121 197.5h1M127 197.5h2M133 197.5h1M135 197.5h1M139 197.5h1M143 197.5h2M151 197.5h2M154 197.5h1M159 197.5h2M162 197.5h1M166 197.5h1M169 197.5h5M175 197.5h2M180 197.5h2M184 197.5h3M189 197.5h3M197 197.5h1M206 197.5h1M208 197.5h1M213 197.5h1M215 197.5h1M218 197.5h2M222 197.5h1M225 197.5h1M235 197.5h1M238 197.5h1M243 197.5h1M245 197.5h1M250 197.5h1M252 197.5h1M257 197.5h4M265 197.5h2M297 197.5h1M302 197.5h1M305 197.5h1M310 197.5h3M315 197.5h1M317 197.5h1M322 197.5h4M327 197.5h1M331 197.5h2M334 197.5h1M339 197.5h2M342 197.5h1M348 197.5h3M354 197.5h3M358 197.5h3M365 197.5h4M376 197.5h2M380 197.5h1M385 197.5h1M389 197.5h1M394 197.5h1M397 197.5h2M402 197.5h3M406 197.5h1M413 197.5h1M415 197.5h1M419 197.5h4M425 197.5h1M430 197.5h1M433 197.5h1M435 197.5h1M438 197.5h2M442 197.5h3M450 197.5h1M486 197.5h1M491 197.5h1M495 197.5h1M498 197.5h1M500 197.5h1M506 197.5h1M510 197.5h3M515 197.5h1M517 197.5h1M519 197.5h1M523 197.5h4M531 197.5h2M537 197.5h1M540 197.5h1M543 197.5h1M546 197.5h1M548 197.5h1M556 197.5h2M563 197.5h2M568 197.5h2M571 197.5h1M573 197.5h1M576 197.5h2M589 197.5h1M591 197.5h2M594 197.5h2M598 197.5h1"/>
<path stroke="#00e4ff" stroke-width="13" d="M117 197.5h1M122 197.5h1M131 197.5h1M140 197.5h1M177 197.5h1M179 197.5h1M193 197.5h1M195 197.5h1M198 197.5h3M214 197.5h1M226 197.5h1M231 197.5h1M233 197.5h2M239 197.5h1M253 197.5h1M264 197.5h1M300 197.5h2M309 197.5h1M313 197.5h2M318 197.5h1M320 197.5h1M335 197.5h1M337 197.5h1M341 197.5h1M343 197.5h2M346 197.5h1M363 197.5h1M373 197.5h1M375 197.5h1M388 197.5h1M395 197.5h2M401 197.5h1M405 197.5h1M408 197.5h2M434 197.5h1M436 197.5h2M449 197.5h1M451 197.5h1M483 197.5h1M490 197.5h1M496 197.5h1M499 197.5h1M504 197.5h1M508 197.5h2M528 197.5h1M541 197.5h1M545 197.5h1M549 197.5h3M554 197.5h1M558 197.5h1M570 197.5h1M575 197.5h1M580 197.5h1M588 197.5h1"/>
<path stroke="#00fff8" stroke-width="13" d="M124 197.5h1M147 197.5h2M164 197.5h1M174 197.5h1M223 197.5h1M232 197.5h1M249 197.5h1M262 197.5h1M303 197.5h1M326 197.5h1M357 197.5h1M370 197.5h1M440 197.5h2M488 197.5h1M518 197.5h1M530 197.5h1M534 197.5h1M553 197.5h1M555 197.5h1M572 197.5h1M581 197.5h1M597 197.5h1"/>
<path stroke="#00ffe9" stroke-width="13" d="M130 197.5h1M167 197.5h1M244 197.5h1M267 197.5h1M516 197.5h1M544 197.5h1M586 197.5h1"/>
<path stroke="#00ff8f" stroke-width="13" d="M268 197.5h1"/>
<path stroke="#00ff7b" stroke-width="13" d="M269 197.5h1"/>
<path stroke="#00ff59" stroke-width="13" d="M270 197.5h1"/>
<path stroke="#00ff38" stroke-width="13" d="M271 197.5h1"/>
<path stroke="#00ff18" stroke-width="13" d="M272 197.5h1"/>
<path stroke="#04ff00" stroke-width="13" d="M273 197.5h1"/>
<path stroke="#2fff00" stroke-width="13" d="M274 197.5h1"/>
<path stroke="#4fff00" stroke-width="13" d="M275 197.5h1"/>
<path stroke="#6bff00" stroke-width="13" d="M276 197.5h1"/>
<path stroke="#8bff00" stroke-width="13" d="M277 197.5h1"/>
<path stroke="#acff00" stroke-width="13" d="M278 197.5h1"/>
<path stroke="#bdff00" stroke-width="13" d="M279 197.5h1"/>
<path stroke="#aaff00" stroke-width="13" d="M280 197.5h1M463 197.5h1"/>
<path stroke="#17ff00" stroke-width="13" d="M281 197.5h1M464 197.5h1"/>
<path stroke="#1dff00" stroke-width="13" d="M285 197.5h1M470 197.5h1"/>
<path stroke="#afff00" stroke-width="13" d="M286 197.5h1"/>
<path stroke="#beff00" stroke-width="13" d="M287 197.5h1"/>
<path stroke="#9dff00" stroke-width="13" d="M288 197.5h1"/>
<path stroke="#76ff00" stroke-width="13" d="M289 197.5h1"/>
<path stroke="#54ff00" stroke-width="13" d="M290 197.5h1"/>
<path stroke="#2dff00" stroke-width="13" d="M291 197.5h1"/>
<path stroke="#00ff03" stroke-width="13" d="M292 197.5h1"/>
<path stroke="#00ff26" stroke-width="13" d="M293 197.5h1M479 197.5h1"/>
<path stroke="#00ff4c" stroke-width="13" d="M294 197.5h1"/>
<path stroke="#00ff75" stroke-width="13" d="M295 197.5h1"/>
<path stroke="#00ff90" stroke-width="13" d="M296 197.5h1"/>
<path stroke="#00ffd4" stroke-width="13" d="M407 197.5h1"/>
<path stroke="#00ff94" stroke-width="13" d="M452 197.5h1"/>
<path stroke="#00ff84" stroke-width="13" d="M453 197.5h1"/>
<path stroke="#00ff5e" stroke-width="13" d="M454 197.5h1"/>
<path stroke="#00ff39" stroke-width="13" d="M455 197.5h1"/>
<path stroke="#00ff16" stroke-width="13" d="M456 197.5h1"/>
<path stroke="#0cff00" stroke-width="13" d="M457 197.5h1"/>
<path stroke="#3aff00" stroke-width="13" d="M458 197.5h1"/>
<path stroke="#5aff00" stroke-width="13" d="M459 197.5h1"/>
<path stroke="#7bff00" stroke-width="13" d="M460 197.5h1"/>
<path stroke="#9fff00" stroke-width="13" d="M461 197.5h1"/>
<path stroke="#bcff00" stroke-width="13" d="M462 197.5h1"/>
<path stroke="#b0ff00" stroke-width="13" d="M471 197.5h1"/>
<path stroke="#c3ff00" stroke-width="13" d="M472 197.5h1"/>
<path stroke="#abff00" stroke-width="13" d="M473 197.5h1"/>
<path stroke="#89ff00" stroke-width="13" d="M474 197.5h1"/>
<path stroke="#67ff00" stroke-width="13" d="M475 197.5h1"/>
<path stroke="#49ff00" stroke-width="13" d="M476 197.5h1"/>
<path stroke="#22ff00" stroke-width="13" d="M477 197.5h1"/>
<path stroke="#00ff06" stroke-width="13" d="M478 197.5h1"/>
<path stroke="#00ff48" stroke-width="13" d="M480 197.5h1"/>
<path stroke="#00ff6d" stroke-width="13" d="M481 197.5h1"/>
<path stroke="#00ff8b" stroke-width="13" d="M482 197.5h1"/>
<path stroke="#00ffde" stroke-width="13" d="M484 197.5h1"/>
<path stroke="#000" stroke-width="13" d="M112 210.5H599"/>
<path stroke="#00d8ff" stroke-width="13" d="M112 210.5h2M120 210.5h1M124 210.5h1M126 210.5h2M143 210.5h1M154 210.5h2M163 210.5h1M169 210.5h1M171 210.5h1M173 210.5h1M177 210.5h1M179 210.5h1M185 210.5h1M192 210.5h1M195 210.5h1M201 210.5h1M203 210.5h1M216 210.5h1M219 210.5h1M226 210.5h1M229 210.5h2M238 210.5h1M258 210.5h2M263 210.5h1M304 210.5h1M316 210.5h1M324 210.5h2M328 210.5h4M337 210.5h1M347 210.5h1M349 210.5h1M351 210.5h1M366 210.5h1M371 210.5h1M376 210.5h1M383 210.5h1M399 210.5h2M412 210.5h1M422 210.5h1M435 210.5h1M443 210.5h1M448 210.5h1M486 210.5h1M491 210.5h1M493 210.5h1M498 210.5h4M507 210.5h1M511 210.5h2M530 210.5h3M540 210.5h1M572 210.5h1M575 210.5h1M582 210.5h1M587 210.5h1M595 210.5h1"/>
<path stroke="#0093ff" stroke-width="13" d="M114 210.5h1M116 210.5h2M123 210.5h1M125 210.5h1M128 210.5h1M130 210.5h1M137 210.5h1M139 210.5h3M145 210.5h1M147 210.5h1M150 210.5h2M157 210.5h1M159 210.5h3M166 210.5h3M170 210.5h1M178 210.5h1M180 210.5h3M184 210.5h1M186 210.5h1M188 210.5h1M190 210.5h2M193 210.5h1M197 210.5h1M199 210.5h1M202 210.5h1M205 210.5h3M209 210.5h1M212 210.5h2M215 210.5h1M218 210.5h1M220 210.5h6M227 210.5h2M232 210.5h2M236 210.5h2M239 210.5h1M241 210.5h1M243 210.5h2M247 210.5h1M249 210.5h1M253 210.5h1M255 210.5h1M257 210.5h1M261 210.5h1M264 210.5h2M305 210.5h3M313 210.5h2M335 210.5h1M338 210.5h1M343 210.5h1M348 210.5h1M353 210.5h2M356 210.5h1M358 210.5h1M362 210.5h2M367 210.5h3M372 210.5h1M377 210.5h2M380 210.5h2M384 210.5h1M388 210.5h1M392 210.5h2M395 210.5h1M398 210.5h1M401 210.5h1M404 210.5h6M413 210.5h3M417 210.5h1M421 210.5h1M424 210.5h1M427 210.5h2M431 210.5h2M436 210.5h1M441 210.5h1M444 210.5h1M449 210.5h1M451 210.5h1M484 210.5h1M490 210.5h1M494 210.5h1M496 210.5h1M502 210.5h1M504 210.5h1M506 210.5h1M514 210.5h1M516 210.5h1M522 210.5h2M525 210.5h1M534 210.5h1M536 210.5h1M538 210.5h1M548 210.5h1M551 210.5h1M555 210.5h1M559 210.5h3M565 210.5h1M567 210.5h2M570 210.5h2M573 210.5h2M576 210.5h3M581 210.5h1M584 210.5h2M588 210.5h1M594 210.5h1M596 210.5h3"/>
<path stroke="#00fffe" stroke-width="13" d="M138 210.5h1M152 210.5h1M156 210.5h1M165 210.5h1M208 210.5h1M211 210.5h1M245 210.5h1M300 210.5h1M303 210.5h1M308 210.5h1M317 210.5h1M322 210.5h1M339 210.5h1M365 210.5h1M379 210.5h1M425 210.5h1M429 210.5h2M519 210.5h3M524 210.5h1M527 210.5h1M546 210.5h1M553 210.5h1M562 210.5h2M569 210.5h1M586 210.5h1"/>
<path stroke="#00ffef" stroke-width="13" d="M142 210.5h1M333 210.5h1M344 210.5h1M361 210.5h1M426 210.5h1M513 210.5h1"/>
<path stroke="#00ffda" stroke-width="13" d="M144 210.5h1"/>
<path stroke="#00ff97" stroke-width="13" d="M267 210.5h1"/>
<path stroke="#00ff7d" stroke-width="13" d="M268 210.5h1"/>
<path stroke="#00ff59" stroke-width="13" d="M269 210.5h1"/>
<path stroke="#00ff37" stroke-width="13" d="M270 210.5h1"/>
<path stroke="#00ff15" stroke-width="13" d="M271 210.5h1"/>
<path stroke="#0dff00" stroke-width="13" d="M272 210.5h1"/>
<path stroke="#3aff00" stroke-width="13" d="M273 210.5h1"/>
<path stroke="#60ff00" stroke-width="13" d="M274 210.5h1"/>
<path stroke="#7eff00" stroke-width="13" d="M275 210.5h1"/>
<path stroke="#9eff00" stroke-width="13" d="M276 210.5h1"/>
<path stroke="#c0ff00" stroke-width="13" d="M277 210.5h1"/>
<path stroke="#e2ff00" stroke-width="13" d="M278 210.5h1"/>
<path stroke="#eaff00" stroke-width="13" d="M279 210.5h1"/>
<path stroke="#ccff00" stroke-width="13" d="M280 210.5h1"/>
<path stroke="#21ff00" stroke-width="13" d="M281 210.5h1M464 210.5h1"/>
<path stroke="#2bff00" stroke-width="13" d="M285 210.5h1"/>
<path stroke="#d5ff00" stroke-width="13" d="M286 210.5h1M471 210.5h1"/>
<path stroke="#f2ff00" stroke-width="13" d="M287 210.5h1"/>
<path stroke="#d2ff00" stroke-width="13" d="M288 210.5h1"/>
<path stroke="#a8ff00" stroke-width="13" d="M289 210.5h1"/>
<path stroke="#81ff00" stroke-width="13" d="M290 210.5h1"/>
<path stroke="#5cff00" stroke-width="13" d="M291 210.5h1"/>
<path stroke="#25ff00" stroke-width="13" d="M292 210.5h1"/>
<path stroke="#00ff0d" stroke-width="13" d="M293 210.5h1"/>
<path stroke="#00ff36" stroke-width="13" d="M294 210.5h1"/>
<path stroke="#00ff61" stroke-width="13" d="M295 210.5h1"/>
<path stroke="#00ff8e" stroke-width="13" d="M296 210.5h1"/>
<path stroke="#00ffa0" stroke-width="13" d="M297 210.5h1"/>
<path stroke="#00ff96" stroke-width="13" d="M452 210.5h1"/>
<path stroke="#00ff73" stroke-width="13" d="M453 210.5h1"/>
<path stroke="#00ff4a" stroke-width="13" d="M454 210.5h1"/>
<path stroke="#00ff24" stroke-width="13" d="M455 210.5h1"/>
<path stroke="#01ff00" stroke-width="13" d="M456 210.5h1"/>
<path stroke="#35ff00" stroke-width="13" d="M457 210.5h1"/>
<path stroke="#61ff00" stroke-width="13" d="M458 210.5h1"/>
<path stroke="#83ff00" stroke-width="13" d="M459 210.5h1"/>
<path stroke="#a9ff00" stroke-width="13" d="M460 210.5h1"/>
<path stroke="#d0ff00" stroke-width="13" d="M461 210.5h1"/>
<path stroke="#e8ff00" stroke-width="13" d="M462 210.5h1"/>
<path stroke="#cbff00" stroke-width="13" d="M463 210.5h1"/>
<path stroke="#2cff00" stroke-width="13" d="M470 210.5h1"/>
<path stroke="#f3ff00" stroke-width="13" d="M472 210.5h1"/>
<path stroke="#e1ff00" stroke-width="13" d="M473 210.5h1"/>
<path stroke="#bbff00" stroke-width="13" d="M474 210.5h1"/>
<path stroke="#95ff00" stroke-width="13" d="M475 210.5h1"/>
<path stroke="#74ff00" stroke-width="13" d="M476 210.5h1"/>
<path stroke="#4fff00" stroke-width="13" d="M477 210.5h1"/>
<path stroke="#1dff00" stroke-width="13" d="M478 210.5h1"/>
<path stroke="#00ff0f" stroke-width="13" d="M479 210.5h1"/>
<path stroke="#00ff34" stroke-width="13" d="M480 210.5h1"/>
<path stroke="#00ff5a" stroke-width="13" d="M481 210.5h1"/>
<path stroke="#00ff82" stroke-width="13" d="M482 210.5h1"/>
<path stroke="#00ff9a" stroke-width="13" d="M483 210.5h1"/>
<path stroke="#00ffe4" stroke-width="13" d="M547 210.5h1"/>
<path stroke="#000" stroke-width="14" d="M112 224H599"/>
<path stroke="#00fff2" stroke-width="14" d="M112 224h1M120 224h1M147 224h1M215 224h1M304 224h1M306 224h1M378 224h1M381 224h1M403 224h1M441 224h1M489 224h1M527 224h1M533 224h1"/>
<path stroke="#00efff" stroke-width="14" d="M114 224h1M116 224h1M130 224h1M139 224h1M142 224h1M156 224h1M160 224h1M162 224h3M166 224h1M187 224h1M191 224h1M200 224h1M207 224h1M220 224h1M225 224h1M233 224h1M245 224h1M247 224h1M250 224h1M300 224h2M309 224h1M313 224h1M316 224h2M325 224h1M329 224h1M334 224h1M338 224h1M341 224h1M352 224h1M364 224h1M370 224h1M375 224h1M379 224h2M386 224h1M394 224h1M399 224h1M406 224h1M415 224h1M439 224h1M443 224h1M447 224h2M486 224h2M500 224h2M526 224h1M532 224h1M539 224h1M547 224h2M561 224h1M563 224h1M570 224h1M594 224h1M597 224h1"/>
<path stroke="#00aaff" stroke-width="14" d="M118 224h1M122 224h1M124 224h1M126 224h1M128 224h1M131 224h2M134 224h2M138 224h1M148 224h2M153 224h2M158 224h2M161 224h1M168 224h2M171 224h1M173 224h1M176 224h1M179 224h1M181 224h1M183 224h2M186 224h1M188 224h1M192 224h1M196 224h2M203 224h1M206 224h1M210 224h1M212 224h1M217 224h3M224 224h1M227 224h1M230 224h1M235 224h1M243 224h1M249 224h1M251 224h1M255 224h1M258 224h1M262 224h1M264 224h1M298 224h1M302 224h1M311 224h1M318 224h2M322 224h1M327 224h1M330 224h1M332 224h1M335 224h1M337 224h1M340 224h1M342 224h2M349 224h2M354 224h2M357 224h1M360 224h1M362 224h2M365 224h1M369 224h1M371 224h2M374 224h1M382 224h1M397 224h2M400 224h1M402 224h1M404 224h1M410 224h1M413 224h2M418 224h3M425 224h1M427 224h3M433 224h2M442 224h1M488 224h1M491 224h1M495 224h4M502 224h1M505 224h1M507 224h4M512 224h2M515 224h2M522 224h1M525 224h1M530 224h2M537 224h2M543 224h1M546 224h1M549 224h2M553 224h1M555 224h2M559 224h1M564 224h2M567 224h1M571 224h1M576 224h1M579 224h1M581 224h1M584 224h1M587 224h1M589 224h5M595 224h2"/>
<path stroke="#00ffe3" stroke-width="14" d="M133 224h1M437 224h1"/>
<path stroke="#00ffa7" stroke-width="14" d="M266 224h1"/>
<path stroke="#00ff94" stroke-width="14" d="M267 224h1"/>
<path stroke="#00ff6e" stroke-width="14" d="M268 224h1M482 224h1"/>
<path stroke="#00ff48" stroke-width="14" d="M269 224h1"/>
<path stroke="#00ff25" stroke-width="14" d="M270 224h1"/>
<path stroke="#00ff02" stroke-width="14" d="M271 224h1"/>
<path stroke="#2cff00" stroke-width="14" d="M272 224h1"/>
<path stroke="#5cff00" stroke-width="14" d="M273 224h1"/>
<path stroke="#7eff00" stroke-width="14" d="M274 224h1"/>
<path stroke="#9dff00" stroke-width="14" d="M275 224h1"/>
<path stroke="#c0ff00" stroke-width="14" d="M276 224h1"/>
<path stroke="#e4ff00" stroke-width="14" d="M277 224h1"/>
<path stroke="#fffc00" stroke-width="14" d="M278 224h1"/>
<path stroke="#fffb00" stroke-width="14" d="M279 224h1M462 224h1"/>
<path stroke="#e0ff00" stroke-width="14" d="M280 224h1M463 224h1"/>
<path stroke="#1fff00" stroke-width="14" d="M281 224h1M464 224h1"/>
<path stroke="#25ff00" stroke-width="14" d="M285 224h1M470 224h1"/>
<path stroke="#e5ff00" stroke-width="14" d="M286 224h1"/>
<path stroke="#fffa00" stroke-width="14" d="M287 224h1M472 224h1"/>
<path stroke="#f5ff00" stroke-width="14" d="M288 224h1"/>
<path stroke="#c9ff00" stroke-width="14" d="M289 224h1"/>
<path stroke="#9fff00" stroke-width="14" d="M290 224h1"/>
<path stroke="#78ff00" stroke-width="14" d="M291 224h1"/>
<path stroke="#47ff00" stroke-width="14" d="M292 224h1"/>
<path stroke="#0dff00" stroke-width="14" d="M293 224h1"/>
<path stroke="#00ff21" stroke-width="14" d="M294 224h1"/>
<path stroke="#00ff4c" stroke-width="14" d="M295 224h1"/>
<path stroke="#00ff7a" stroke-width="14" d="M296 224h1"/>
<path stroke="#00ffa0" stroke-width="14" d="M297 224h1M450 224h1"/>
<path stroke="#00ffad" stroke-width="14" d="M449 224h1"/>
<path stroke="#00ff7e" stroke-width="14" d="M451 224h1"/>
<path stroke="#00ff57" stroke-width="14" d="M452 224h1"/>
<path stroke="#00ff32" stroke-width="14" d="M453 224h1"/>
<path stroke="#00ff0e" stroke-width="14" d="M454 224h1"/>
<path stroke="#1eff00" stroke-width="14" d="M455 224h1"/>
<path stroke="#4fff00" stroke-width="14" d="M456 224h1"/>
<path stroke="#76ff00" stroke-width="14" d="M457 224h1"/>
<path stroke="#97ff00" stroke-width="14" d="M458 224h1"/>
<path stroke="#baff00" stroke-width="14" d="M459 224h1"/>
<path stroke="#dfff00" stroke-width="14" d="M460 224h1"/>
<path stroke="#fffd00" stroke-width="14" d="M461 224h1M473 224h1"/>
<path stroke="#e6ff00" stroke-width="14" d="M471 224h1"/>
<path stroke="#ddff00" stroke-width="14" d="M474 224h1"/>
<path stroke="#b5ff00" stroke-width="14" d="M475 224h1"/>
<path stroke="#92ff00" stroke-width="14" d="M476 224h1"/>
<path stroke="#6fff00" stroke-width="14" d="M477 224h1"/>
<path stroke="#3fff00" stroke-width="14" d="M478 224h1"/>
<path stroke="#0bff00" stroke-width="14" d="M479 224h1"/>
<path stroke="#00ff1e" stroke-width="14" d="M480 224h1"/>
<path stroke="#00ff45" stroke-width="14" d="M481 224h1"/>
<path stroke="#00ff97" stroke-width="14" d="M483 224h1"/>
<path stroke="#00ffa9" stroke-width="14" d="M484 224h1"/>
<path stroke="#000" stroke-width="13" d="M112 237.5H599"/>
<path stroke="#00ffc5" stroke-width="13" d="M112 237.5h1"/>
<path stroke="#00fff5" stroke-width="13" d="M113 237.5h1M115 237.5h1M124 237.5h2M128 237.5h1M158 237.5h1M161 237.5h1M182 237.5h1M205 237.5h1M212 237.5h1M222 237.5h1M239 237.5h1M243 237.5h2M303 237.5h2M307 237.5h1M318 237.5h1M321 237.5h1M326 237.5h1M334 237.5h3M353 237.5h1M355 237.5h1M365 237.5h2M379 237.5h1M382 237.5h1M385 237.5h1M393 237.5h1M404 237.5h1M410 237.5h1M422 237.5h1M429 237.5h1M432 237.5h1M437 237.5h1M448 237.5h1M490 237.5h1M492 237.5h1M500 237.5h1M520 237.5h2M540 237.5h1M559 237.5h1M564 237.5h1M570 237.5h1M589 237.5h1"/>
<path stroke="#00ccff" stroke-width="13" d="M118 237.5h2M126 237.5h2M131 237.5h2M136 237.5h1M146 237.5h1M148 237.5h1M150 237.5h1M155 237.5h1M157 237.5h1M159 237.5h1M163 237.5h1M169 237.5h1M171 237.5h1M173 237.5h1M177 237.5h1M179 237.5h2M187 237.5h1M191 237.5h1M193 237.5h2M196 237.5h1M199 237.5h2M203 237.5h2M206 237.5h2M211 237.5h1M221 237.5h1M223 237.5h1M225 237.5h1M233 237.5h2M241 237.5h2M245 237.5h1M248 237.5h1M251 237.5h1M253 237.5h1M257 237.5h1M260 237.5h1M300 237.5h1M302 237.5h1M305 237.5h1M308 237.5h1M311 237.5h1M315 237.5h1M319 237.5h1M324 237.5h1M327 237.5h3M331 237.5h1M337 237.5h2M342 237.5h2M346 237.5h1M350 237.5h1M356 237.5h1M360 237.5h1M363 237.5h1M367 237.5h1M374 237.5h1M377 237.5h1M384 237.5h1M389 237.5h2M394 237.5h1M401 237.5h1M403 237.5h1M405 237.5h1M407 237.5h2M414 237.5h1M416 237.5h1M423 237.5h3M428 237.5h1M430 237.5h1M438 237.5h1M443 237.5h1M445 237.5h1M447 237.5h1M489 237.5h1M493 237.5h3M499 237.5h1M508 237.5h1M511 237.5h1M513 237.5h1M519 237.5h1M523 237.5h3M527 237.5h3M531 237.5h2M534 237.5h1M541 237.5h1M549 237.5h2M552 237.5h1M556 237.5h2M561 237.5h2M565 237.5h2M568 237.5h2M571 237.5h1M576 237.5h1M581 237.5h5M587 237.5h2M590 237.5h1M592 237.5h2M598 237.5h1"/>
<path stroke="#00ffe0" stroke-width="13" d="M133 237.5h1M170 237.5h1M216 237.5h1M231 237.5h1M259 237.5h1M264 237.5h1M330 237.5h1M361 237.5h1M560 237.5h1"/>
<path stroke="#00ffb5" stroke-width="13" d="M265 237.5h1"/>
<path stroke="#00ffa7" stroke-width="13" d="M266 237.5h1"/>
<path stroke="#00ff80" stroke-width="13" d="M267 237.5h1"/>
<path stroke="#00ff57" stroke-width="13" d="M268 237.5h1"/>
<path stroke="#00ff31" stroke-width="13" d="M269 237.5h1"/>
<path stroke="#00ff0c" stroke-width="13" d="M270 237.5h1"/>
<path stroke="#25ff00" stroke-width="13" d="M271 237.5h1"/>
<path stroke="#58ff00" stroke-width="13" d="M272 237.5h1"/>
<path stroke="#86ff00" stroke-width="13" d="M273 237.5h1M479 237.5h1"/>
<path stroke="#a8ff00" stroke-width="13" d="M274 237.5h1"/>
<path stroke="#c9ff00" stroke-width="13" d="M275 237.5h1"/>
<path stroke="#f0ff00" stroke-width="13" d="M276 237.5h1"/>
<path stroke="#fff700" stroke-width="13" d="M277 237.5h1"/>
<path stroke="#ffeb00" stroke-width="13" d="M278 237.5h1M287 237.5h1"/>
<path stroke="#ffed00" stroke-width="13" d="M279 237.5h1M462 237.5h1"/>
<path stroke="#fffe00" stroke-width="13" d="M280 237.5h1M463 237.5h1"/>
<path stroke="#2aff00" stroke-width="13" d="M281 237.5h1"/>
<path stroke="#2fff00" stroke-width="13" d="M285 237.5h1"/>
<path stroke="#fffc00" stroke-width="13" d="M286 237.5h1M460 237.5h1M471 237.5h1M475 237.5h1"/>
<path stroke="#ffef00" stroke-width="13" d="M288 237.5h1"/>
<path stroke="#fffd00" stroke-width="13" d="M289 237.5h1"/>
<path stroke="#d8ff00" stroke-width="13" d="M290 237.5h1"/>
<path stroke="#b1ff00" stroke-width="13" d="M291 237.5h1"/>
<path stroke="#8aff00" stroke-width="13" d="M292 237.5h1"/>
<path stroke="#54ff00" stroke-width="13" d="M293 237.5h1"/>
<path stroke="#1aff00" stroke-width="13" d="M294 237.5h1"/>
<path stroke="#00ff1a" stroke-width="13" d="M295 237.5h1"/>
<path stroke="#00ff44" stroke-width="13" d="M296 237.5h1"/>
<path stroke="#00ff72" stroke-width="13" d="M297 237.5h1"/>
<path stroke="#00ffa1" stroke-width="13" d="M298 237.5h1"/>
<path stroke="#00ffb4" stroke-width="13" d="M299 237.5h1"/>
<path stroke="#00ffd1" stroke-width="13" d="M301 237.5h1M306 237.5h1"/>
<path stroke="#00ffb9" stroke-width="13" d="M449 237.5h1M488 237.5h1"/>
<path stroke="#00ffaa" stroke-width="13" d="M450 237.5h1"/>
<path stroke="#00ff85" stroke-width="13" d="M451 237.5h1"/>
<path stroke="#00ff59" stroke-width="13" d="M452 237.5h1"/>
<path stroke="#00ff30" stroke-width="13" d="M453 237.5h1"/>
<path stroke="#00ff07" stroke-width="13" d="M454 237.5h1"/>
<path stroke="#30ff00" stroke-width="13" d="M455 237.5h1M470 237.5h1"/>
<path stroke="#66ff00" stroke-width="13" d="M456 237.5h1"/>
<path stroke="#93ff00" stroke-width="13" d="M457 237.5h1"/>
<path stroke="#b7ff00" stroke-width="13" d="M458 237.5h1"/>
<path stroke="#deff00" stroke-width="13" d="M459 237.5h1"/>
<path stroke="#ffee00" stroke-width="13" d="M461 237.5h1"/>
<path stroke="#29ff00" stroke-width="13" d="M464 237.5h1"/>
<path stroke="#ffea00" stroke-width="13" d="M472 237.5h1"/>
<path stroke="#ffe700" stroke-width="13" d="M473 237.5h1"/>
<path stroke="#fff000" stroke-width="13" d="M474 237.5h1"/>
<path stroke="#e6ff00" stroke-width="13" d="M476 237.5h1"/>
<path stroke="#c4ff00" stroke-width="13" d="M477 237.5h1"/>
<path stroke="#a5ff00" stroke-width="13" d="M478 237.5h1"/>
<path stroke="#5aff00" stroke-width="13" d="M480 237.5h1"/>
<path stroke="#2cff00" stroke-width="13" d="M481 237.5h1"/>
<path stroke="#00ff04" stroke-width="13" d="M482 237.5h1"/>
<path stroke="#00ff27" stroke-width="13" d="M483 237.5h1"/>
<path stroke="#00ff49" stroke-width="13" d="M484 237.5h1"/>
<path stroke="#00ff6e" stroke-width="13" d="M485 237.5h1"/>
<path stroke="#00ff93" stroke-width="13" d="M486 237.5h1"/>
<path stroke="#00ffac" stroke-width="13" d="M487 237.5h1"/>
<path stroke="#000" stroke-width="14" d="M112 251H599"/>
<path stroke="#00ffe3" stroke-width="14" d="M112 251h1M114 251h1M134 251h1M143 251h1M168 251h1M170 251h1M173 251h2M208 251h1M213 251h1M229 251h1M231 251h1M243 251h1M318 251h1M323 251h1M325 251h1M348 251h1M364 251h1M371 251h1M384 251h2M390 251h1M392 251h1M403 251h1M411 251h1M414 251h1M417 251h1M426 251h1M445 251h1M497 251h1M509 251h1M535 251h1M550 251h1M575 251h1M584 251h1M586 251h1"/>
<path stroke="#00efff" stroke-width="14" d="M113 251h1M117 251h1M119 251h2M123 251h1M126 251h2M130 251h2M135 251h5M141 251h2M146 251h2M149 251h1M152 251h1M157 251h1M159 251h1M166 251h1M169 251h1M180 251h1M191 251h2M194 251h1M205 251h2M210 251h1M217 251h1M219 251h1M222 251h1M225 251h2M230 251h1M233 251h1M237 251h2M240 251h1M245 251h2M249 251h2M252 251h1M301 251h2M306 251h1M309 251h1M315 251h3M319 251h4M328 251h2M331 251h1M335 251h1M337 251h2M340 251h1M342 251h2M345 251h1M347 251h1M351 251h1M353 251h2M356 251h1M360 251h2M363 251h1M367 251h1M370 251h1M374 251h1M376 251h2M383 251h1M388 251h2M396 251h1M401 251h1M405 251h2M409 251h2M415 251h1M419 251h1M422 251h2M427 251h2M430 251h1M432 251h1M436 251h1M441 251h1M489 251h2M496 251h1M499 251h1M502 251h1M506 251h1M510 251h1M514 251h3M520 251h1M525 251h1M527 251h1M534 251h1M539 251h1M541 251h1M545 251h1M548 251h2M551 251h1M556 251h2M560 251h1M562 251h3M566 251h1M569 251h2M574 251h1M576 251h1M581 251h1M583 251h1M587 251h1M590 251h1M593 251h1M595 251h1M598 251h1"/>
<path stroke="#00ffce" stroke-width="14" d="M116 251h1M148 251h1M172 251h1M313 251h1M326 251h1M366 251h1M448 251h1"/>
<path stroke="#00ffc5" stroke-width="14" d="M264 251h1M300 251h1M488 251h1"/>
<path stroke="#00ffb7" stroke-width="14" d="M265 251h1M487 251h1"/>
<path stroke="#00ff97" stroke-width="14" d="M266 251h1"/>
<path stroke="#00ff6d" stroke-width="14" d="M267 251h1M451 251h1"/>
<path stroke="#00ff44" stroke-width="14" d="M268 251h1"/>
<path stroke="#00ff1d" stroke-width="14" d="M269 251h1"/>
<path stroke="#11ff00" stroke-width="14" d="M270 251h1"/>
<path stroke="#46ff00" stroke-width="14" d="M271 251h1"/>
<path stroke="#7bff00" stroke-width="14" d="M272 251h1"/>
<path stroke="#a5ff00" stroke-width="14" d="M273 251h1"/>
<path stroke="#c8ff00" stroke-width="14" d="M274 251h1"/>
<path stroke="#ecff00" stroke-width="14" d="M275 251h1"/>
<path stroke="#fff800" stroke-width="14" d="M276 251h1M286 251h1M463 251h1"/>
<path stroke="#ffeb00" stroke-width="14" d="M277 251h1"/>
<path stroke="#ffde00" stroke-width="14" d="M278 251h1"/>
<path stroke="#ffe200" stroke-width="14" d="M279 251h1M462 251h1M472 251h1"/>
<path stroke="#fff700" stroke-width="14" d="M280 251h1M471 251h1"/>
<path stroke="#27ff00" stroke-width="14" d="M281 251h1M285 251h1M464 251h1M470 251h1"/>
<path stroke="#ffe300" stroke-width="14" d="M287 251h1"/>
<path stroke="#ffe400" stroke-width="14" d="M288 251h1"/>
<path stroke="#fff200" stroke-width="14" d="M289 251h1"/>
<path stroke="#f8ff00" stroke-width="14" d="M290 251h1"/>
<path stroke="#cdff00" stroke-width="14" d="M291 251h1"/>
<path stroke="#a6ff00" stroke-width="14" d="M292 251h1"/>
<path stroke="#76ff00" stroke-width="14" d="M293 251h1"/>
<path stroke="#3bff00" stroke-width="14" d="M294 251h1"/>
<path stroke="#00ff04" stroke-width="14" d="M295 251h1"/>
<path stroke="#00ff30" stroke-width="14" d="M296 251h1"/>
<path stroke="#00ff5d" stroke-width="14" d="M297 251h1"/>
<path stroke="#00ff8c" stroke-width="14" d="M298 251h1"/>
<path stroke="#00ffb5" stroke-width="14" d="M299 251h1"/>
<path stroke="#00ffb9" stroke-width="14" d="M449 251h1"/>
<path stroke="#00ff9a" stroke-width="14" d="M450 251h1"/>
<path stroke="#00ff41" stroke-width="14" d="M452 251h1"/>
<path stroke="#00ff17" stroke-width="14" d="M453 251h1"/>
<path stroke="#1eff00" stroke-width="14" d="M454 251h1"/>
<path stroke="#56ff00" stroke-width="14" d="M455 251h1"/>
<path stroke="#8fff00" stroke-width="14" d="M456 251h1"/>
<path stroke="#b5ff00" stroke-width="14" d="M457 251h1M478 251h1"/>
<path stroke="#daff00" stroke-width="14" d="M458 251h1"/>
<path stroke="#fffd00" stroke-width="14" d="M459 251h1"/>
<path stroke="#ffef00" stroke-width="14" d="M460 251h1"/>
<path stroke="#ffe100" stroke-width="14" d="M461 251h1"/>
<path stroke="#ffdd00" stroke-width="14" d="M473 251h1"/>
<path stroke="#ffe800" stroke-width="14" d="M474 251h1"/>
<path stroke="#fff400" stroke-width="14" d="M475 251h1"/>
<path stroke="#faff00" stroke-width="14" d="M476 251h1"/>
<path stroke="#d6ff00" stroke-width="14" d="M477 251h1"/>
<path stroke="#94ff00" stroke-width="14" d="M479 251h1"/>
<path stroke="#64ff00" stroke-width="14" d="M480 251h1"/>
<path stroke="#33ff00" stroke-width="14" d="M481 251h1"/>
<path stroke="#00ff03" stroke-width="14" d="M482 251h1"/>
<path stroke="#00ff27" stroke-width="14" d="M483 251h1"/>
<path stroke="#00ff4c" stroke-width="14" d="M484 251h1"/>
<path stroke="#00ff74" stroke-width="14" d="M485 251h1"/>
<path stroke="#00ff9c" stroke-width="14" d="M486 251h1"/>
<path stroke="#000" stroke-width="13" d="M112 264.5H599"/>
<path stroke="#00ff92" stroke-width="13" d="M112 264.5h1"/>
<path stroke="#00ffb7" stroke-width="13" d="M113 264.5h1"/>
<path stroke="#00ffc6" stroke-width="13" d="M114 264.5h1M154 264.5h1M232 264.5h1M346 264.5h1M437 264.5h1"/>
<path stroke="#00ffff" stroke-width="13" d="M115 264.5h2M127 264.5h2M130 264.5h1M133 264.5h1M135 264.5h1M144 264.5h1M148 264.5h3M152 264.5h1M156 264.5h1M158 264.5h1M163 264.5h1M168 264.5h1M170 264.5h1M174 264.5h1M176 264.5h1M180 264.5h1M184 264.5h2M188 264.5h1M191 264.5h2M199 264.5h1M202 264.5h1M205 264.5h2M211 264.5h1M213 264.5h2M219 264.5h2M231 264.5h1M238 264.5h1M240 264.5h1M252 264.5h1M255 264.5h1M260 264.5h2M306 264.5h1M314 264.5h1M323 264.5h1M326 264.5h3M333 264.5h1M337 264.5h6M350 264.5h1M354 264.5h2M357 264.5h1M361 264.5h1M363 264.5h1M366 264.5h1M372 264.5h1M374 264.5h1M377 264.5h1M380 264.5h2M387 264.5h1M389 264.5h1M392 264.5h4M398 264.5h2M401 264.5h1M403 264.5h1M411 264.5h1M416 264.5h2M420 264.5h2M425 264.5h3M431 264.5h2M434 264.5h2M441 264.5h2M445 264.5h1M447 264.5h1M494 264.5h2M499 264.5h2M502 264.5h2M508 264.5h1M512 264.5h2M519 264.5h1M521 264.5h2M534 264.5h1M539 264.5h1M541 264.5h3M545 264.5h1M547 264.5h2M550 264.5h1M552 264.5h2M561 264.5h1M576 264.5h1M579 264.5h2M584 264.5h3M589 264.5h1M593 264.5h1M597 264.5h1"/>
<path stroke="#00ffdb" stroke-width="13" d="M123 264.5h1M136 264.5h1M141 264.5h2M153 264.5h1M161 264.5h1M181 264.5h1M194 264.5h2M215 264.5h2M239 264.5h1M247 264.5h2M257 264.5h1M309 264.5h2M315 264.5h1M317 264.5h1M322 264.5h1M360 264.5h1M367 264.5h1M369 264.5h1M386 264.5h1M402 264.5h1M406 264.5h1M419 264.5h1M509 264.5h1M526 264.5h1M556 264.5h1M569 264.5h1"/>
<path stroke="#00ffca" stroke-width="13" d="M263 264.5h1"/>
<path stroke="#00ffbc" stroke-width="13" d="M264 264.5h1"/>
<path stroke="#00ff93" stroke-width="13" d="M265 264.5h1"/>
<path stroke="#00ff69" stroke-width="13" d="M266 264.5h1"/>
<path stroke="#00ff41" stroke-width="13" d="M267 264.5h1M298 264.5h1"/>
<path stroke="#00ff1b" stroke-width="13" d="M268 264.5h1"/>
<path stroke="#14ff00" stroke-width="13" d="M269 264.5h1"/>
<path stroke="#48ff00" stroke-width="13" d="M270 264.5h1"/>
<path stroke="#7cff00" stroke-width="13" d="M271 264.5h1"/>
<path stroke="#a9ff00" stroke-width="13" d="M272 264.5h1M456 264.5h1"/>
<path stroke="#cbff00" stroke-width="13" d="M273 264.5h1"/>
<path stroke="#edff00" stroke-width="13" d="M274 264.5h1"/>
<path stroke="#fff800" stroke-width="13" d="M275 264.5h1"/>
<path stroke="#ffeb00" stroke-width="13" d="M276 264.5h1"/>
<path stroke="#ffde00" stroke-width="13" d="M277 264.5h1"/>
<path stroke="#ffd400" stroke-width="13" d="M278 264.5h1M473 264.5h1"/>
<path stroke="#ffda00" stroke-width="13" d="M279 264.5h1M287 264.5h1M472 264.5h1"/>
<path stroke="#fff300" stroke-width="13" d="M280 264.5h1M286 264.5h1M459 264.5h1M463 264.5h1M471 264.5h1"/>
<path stroke="#1dff00" stroke-width="13" d="M281 264.5h1M285 264.5h1M464 264.5h1M470 264.5h1"/>
<path stroke="#ffd500" stroke-width="13" d="M288 264.5h1"/>
<path stroke="#ffe200" stroke-width="13" d="M289 264.5h1"/>
<path stroke="#fff000" stroke-width="13" d="M290 264.5h1"/>
<path stroke="#fffe00" stroke-width="13" d="M291 264.5h1"/>
<path stroke="#dbff00" stroke-width="13" d="M292 264.5h1"/>
<path stroke="#b6ff00" stroke-width="13" d="M293 264.5h1"/>
<path stroke="#8cff00" stroke-width="13" d="M294 264.5h1"/>
<path stroke="#54ff00" stroke-width="13" d="M295 264.5h1"/>
<path stroke="#1cff00" stroke-width="13" d="M296 264.5h1"/>
<path stroke="#00ff18" stroke-width="13" d="M297 264.5h1"/>
<path stroke="#00ff6c" stroke-width="13" d="M299 264.5h1"/>
<path stroke="#00ff98" stroke-width="13" d="M300 264.5h1"/>
<path stroke="#00ffbf" stroke-width="13" d="M301 264.5h1"/>
<path stroke="#00ffce" stroke-width="13" d="M302 264.5h1"/>
<path stroke="#00ffc9" stroke-width="13" d="M448 264.5h1"/>
<path stroke="#00ffb5" stroke-width="13" d="M449 264.5h1M487 264.5h1"/>
<path stroke="#00ff86" stroke-width="13" d="M450 264.5h1"/>
<path stroke="#00ff58" stroke-width="13" d="M451 264.5h1"/>
<path stroke="#00ff2d" stroke-width="13" d="M452 264.5h1"/>
<path stroke="#00ff02" stroke-width="13" d="M453 264.5h1"/>
<path stroke="#3cff00" stroke-width="13" d="M454 264.5h1"/>
<path stroke="#76ff00" stroke-width="13" d="M455 264.5h1"/>
<path stroke="#cfff00" stroke-width="13" d="M457 264.5h1"/>
<path stroke="#f6ff00" stroke-width="13" d="M458 264.5h1"/>
<path stroke="#ffe500" stroke-width="13" d="M460 264.5h1"/>
<path stroke="#ffd600" stroke-width="13" d="M461 264.5h1"/>
<path stroke="#ffdb00" stroke-width="13" d="M462 264.5h1"/>
<path stroke="#ffdd00" stroke-width="13" d="M474 264.5h1"/>
<path stroke="#ffea00" stroke-width="13" d="M475 264.5h1"/>
<path stroke="#fff700" stroke-width="13" d="M476 264.5h1"/>
<path stroke="#f0ff00" stroke-width="13" d="M477 264.5h1"/>
<path stroke="#ceff00" stroke-width="13" d="M478 264.5h1"/>
<path stroke="#acff00" stroke-width="13" d="M479 264.5h1"/>
<path stroke="#82ff00" stroke-width="13" d="M480 264.5h1"/>
<path stroke="#4eff00" stroke-width="13" d="M481 264.5h1"/>
<path stroke="#1bff00" stroke-width="13" d="M482 264.5h1"/>
<path stroke="#00ff16" stroke-width="13" d="M483 264.5h1"/>
<path stroke="#00ff3b" stroke-width="13" d="M484 264.5h1"/>
<path stroke="#00ff62" stroke-width="13" d="M485 264.5h1"/>
<path stroke="#00ff8c" stroke-width="13" d="M486 264.5h1"/>
<path stroke="#00ffc7" stroke-width="13" d="M488 264.5h1"/>
<path stroke="#000" stroke-width="13" d="M112 277.5H599"/>
<path stroke="#00ff54" stroke-width="13" d="M112 277.5h1M266 277.5h1"/>
<path stroke="#00ff79" stroke-width="13" d="M113 277.5h1"/>
<path stroke="#00ff9c" stroke-width="13" d="M114 277.5h1"/>
<path stroke="#00ffd1" stroke-width="13" d="M115 277.5h1M117 277.5h1M126 277.5h1M172 277.5h1M211 277.5h1M221 277.5h1M234 277.5h1M259 277.5h1M317 277.5h1M319 277.5h1M322 277.5h1M325 277.5h1M332 277.5h1M355 277.5h1M361 277.5h1M369 277.5h1M374 277.5h1M396 277.5h1M398 277.5h1M412 277.5h1M416 277.5h1M438 277.5h1M445 277.5h1M521 277.5h1M525 277.5h1M561 277.5h1"/>
<path stroke="#00fff5" stroke-width="13" d="M116 277.5h1M118 277.5h1M120 277.5h2M123 277.5h1M128 277.5h1M134 277.5h1M137 277.5h1M145 277.5h1M148 277.5h1M155 277.5h1M158 277.5h1M162 277.5h1M168 277.5h1M171 277.5h1M173 277.5h1M181 277.5h1M184 277.5h1M191 277.5h1M201 277.5h1M203 277.5h3M207 277.5h1M213 277.5h2M231 277.5h1M233 277.5h1M238 277.5h1M241 277.5h1M244 277.5h1M246 277.5h2M249 277.5h2M252 277.5h1M256 277.5h1M258 277.5h1M260 277.5h1M311 277.5h1M314 277.5h1M323 277.5h2M328 277.5h1M330 277.5h1M334 277.5h1M336 277.5h2M345 277.5h1M351 277.5h1M354 277.5h1M358 277.5h1M362 277.5h1M364 277.5h2M376 277.5h2M381 277.5h2M384 277.5h1M389 277.5h2M393 277.5h1M400 277.5h1M409 277.5h2M413 277.5h2M417 277.5h1M420 277.5h1M430 277.5h3M436 277.5h1M439 277.5h1M443 277.5h1M492 277.5h2M498 277.5h1M507 277.5h1M509 277.5h1M513 277.5h1M517 277.5h2M529 277.5h1M531 277.5h1M536 277.5h1M539 277.5h3M543 277.5h1M549 277.5h2M553 277.5h1M556 277.5h1M562 277.5h1M564 277.5h1M566 277.5h1M568 277.5h1M570 277.5h2M573 277.5h3M578 277.5h2M583 277.5h1M588 277.5h1M590 277.5h1M593 277.5h1M597 277.5h1"/>
<path stroke="#00ffbc" stroke-width="13" d="M143 277.5h1M156 277.5h1M174 277.5h1M239 277.5h1M490 277.5h1M586 277.5h1"/>
<path stroke="#00ffd9" stroke-width="13" d="M262 277.5h1"/>
<path stroke="#00ffca" stroke-width="13" d="M263 277.5h1"/>
<path stroke="#00ffa8" stroke-width="13" d="M264 277.5h1"/>
<path stroke="#00ff7e" stroke-width="13" d="M265 277.5h1"/>
<path stroke="#00ff2e" stroke-width="13" d="M267 277.5h1"/>
<path stroke="#00ff07" stroke-width="13" d="M268 277.5h1"/>
<path stroke="#30ff00" stroke-width="13" d="M269 277.5h1"/>
<path stroke="#64ff00" stroke-width="13" d="M270 277.5h1"/>
<path stroke="#99ff00" stroke-width="13" d="M271 277.5h1"/>
<path stroke="#bfff00" stroke-width="13" d="M272 277.5h1"/>
<path stroke="#e2ff00" stroke-width="13" d="M273 277.5h1"/>
<path stroke="#fffd00" stroke-width="13" d="M274 277.5h1"/>
<path stroke="#fff000" stroke-width="13" d="M275 277.5h1"/>
<path stroke="#ffe300" stroke-width="13" d="M276 277.5h1"/>
<path stroke="#ffd500" stroke-width="13" d="M277 277.5h1M462 277.5h1M474 277.5h1"/>
<path stroke="#ffce00" stroke-width="13" d="M278 277.5h1M288 277.5h1M461 277.5h1M473 277.5h1"/>
<path stroke="#ffd400" stroke-width="13" d="M279 277.5h1M287 277.5h1M472 277.5h1"/>
<path stroke="#fff100" stroke-width="13" d="M280 277.5h1M286 277.5h1M463 277.5h1M471 277.5h1"/>
<path stroke="#0cff00" stroke-width="13" d="M281 277.5h1M285 277.5h1M464 277.5h1M470 277.5h1"/>
<path stroke="#ffd700" stroke-width="13" d="M289 277.5h1"/>
<path stroke="#ffe500" stroke-width="13" d="M290 277.5h1"/>
<path stroke="#fff200" stroke-width="13" d="M291 277.5h1"/>
<path stroke="#fcff00" stroke-width="13" d="M292 277.5h1"/>
<path stroke="#d9ff00" stroke-width="13" d="M293 277.5h1"/>
<path stroke="#b5ff00" stroke-width="13" d="M294 277.5h1"/>
<path stroke="#88ff00" stroke-width="13" d="M295 277.5h1"/>
<path stroke="#52ff00" stroke-width="13" d="M296 277.5h1"/>
<path stroke="#1cff00" stroke-width="13" d="M297 277.5h1"/>
<path stroke="#00ff17" stroke-width="13" d="M298 277.5h1"/>
<path stroke="#00ff3f" stroke-width="13" d="M299 277.5h1"/>
<path stroke="#00ff68" stroke-width="13" d="M300 277.5h1"/>
<path stroke="#00ff94" stroke-width="13" d="M301 277.5h1"/>
<path stroke="#00ffbf" stroke-width="13" d="M302 277.5h1"/>
<path stroke="#00ffd3" stroke-width="13" d="M303 277.5h1"/>
<path stroke="#00ffdd" stroke-width="13" d="M446 277.5h1"/>
<path stroke="#00ffce" stroke-width="13" d="M447 277.5h1"/>
<path stroke="#00ffaf" stroke-width="13" d="M448 277.5h1"/>
<path stroke="#00ff82" stroke-width="13" d="M449 277.5h1"/>
<path stroke="#00ff55" stroke-width="13" d="M450 277.5h1"/>
<path stroke="#00ff2c" stroke-width="13" d="M451 277.5h1"/>
<path stroke="#00ff02" stroke-width="13" d="M452 277.5h1M483 277.5h1"/>
<path stroke="#3aff00" stroke-width="13" d="M453 277.5h1"/>
<path stroke="#72ff00" stroke-width="13" d="M454 277.5h1"/>
<path stroke="#a8ff00" stroke-width="13" d="M455 277.5h1"/>
<path stroke="#cdff00" stroke-width="13" d="M456 277.5h1"/>
<path stroke="#f2ff00" stroke-width="13" d="M457 277.5h1"/>
<path stroke="#fff600" stroke-width="13" d="M458 277.5h1"/>
<path stroke="#ffe800" stroke-width="13" d="M459 277.5h1"/>
<path stroke="#ffda00" stroke-width="13" d="M460 277.5h1"/>
<path stroke="#ffe200" stroke-width="13" d="M475 277.5h1"/>
<path stroke="#ffef00" stroke-width="13" d="M476 277.5h1"/>
<path stroke="#fffc00" stroke-width="13" d="M477 277.5h1"/>
<path stroke="#e5ff00" stroke-width="13" d="M478 277.5h1"/>
<path stroke="#c2ff00" stroke-width="13" d="M479 277.5h1"/>
<path stroke="#9eff00" stroke-width="13" d="M480 277.5h1"/>
<path stroke="#6bff00" stroke-width="13" d="M481 277.5h1"/>
<path stroke="#37ff00" stroke-width="13" d="M482 277.5h1"/>
<path stroke="#00ff28" stroke-width="13" d="M484 277.5h1"/>
<path stroke="#00ff4e" stroke-width="13" d="M485 277.5h1"/>
<path stroke="#00ff77" stroke-width="13" d="M486 277.5h1"/>
<path stroke="#00ffa1" stroke-width="13" d="M487 277.5h1"/>
<path stroke="#00ffc8" stroke-width="13" d="M488 277.5h1"/>
<path stroke="#00ffd6" stroke-width="13" d="M489 277.5h1"/>
<path stroke="#000" stroke-width="14" d="M112 291H599"/>
<path stroke="#00ff17" stroke-width="14" d="M112 291h1"/>
<path stroke="#00ff3b" stroke-width="14" d="M113 291h1"/>
<path stroke="#00ff5d" stroke-width="14" d="M114 291h1"/>
<path stroke="#00ff7d" stroke-width="14" d="M115 291h1"/>
<path stroke="#00ff9b" stroke-width="14" d="M116 291h1"/>
<path stroke="#00ffb0" stroke-width="14" d="M117 291h1M141 291h1"/>
<path stroke="#00ffe9" stroke-width="14" d="M118 291h1M126 291h4M131 291h3M138 291h2M144 291h2M151 291h1M153 291h1M155 291h1M160 291h1M163 291h1M165 291h2M168 291h1M170 291h1M175 291h2M178 291h1M180 291h2M187 291h1M191 291h1M193 291h1M206 291h1M210 291h1M217 291h2M225 291h1M231 291h3M235 291h1M243 291h3M247 291h1M249 291h1M251 291h1M258 291h2M261 291h1M305 291h1M308 291h1M314 291h1M325 291h1M329 291h1M331 291h1M334 291h2M338 291h1M341 291h2M348 291h1M353 291h1M355 291h2M369 291h1M377 291h2M383 291h1M392 291h1M400 291h1M405 291h1M408 291h1M415 291h1M421 291h1M423 291h1M426 291h1M436 291h1M440 291h1M446 291h1M492 291h1M499 291h4M505 291h1M516 291h2M522 291h1M524 291h1M533 291h2M540 291h1M549 291h2M563 291h1M568 291h2M582 291h1M584 291h1"/>
<path stroke="#00ffc5" stroke-width="14" d="M120 291h1M125 291h1M130 291h1M154 291h1M162 291h1M167 291h1M171 291h1M186 291h1M207 291h1M209 291h1M211 291h1M216 291h1M219 291h1M246 291h1M310 291h1M321 291h1M352 291h1M364 291h1M371 291h2M395 291h1M406 291h1M420 291h1M445 291h1M496 291h1M508 291h1"/>
<path stroke="#00ffa1" stroke-width="14" d="M205 291h1"/>
<path stroke="#00ffdb" stroke-width="14" d="M262 291h1"/>
<path stroke="#00ffc2" stroke-width="14" d="M263 291h1"/>
<path stroke="#00ff97" stroke-width="14" d="M264 291h1"/>
<path stroke="#00ff6c" stroke-width="14" d="M265 291h1"/>
<path stroke="#00ff44" stroke-width="14" d="M266 291h1M299 291h1"/>
<path stroke="#00ff1c" stroke-width="14" d="M267 291h1"/>
<path stroke="#13ff00" stroke-width="14" d="M268 291h1"/>
<path stroke="#49ff00" stroke-width="14" d="M269 291h1"/>
<path stroke="#7eff00" stroke-width="14" d="M270 291h1"/>
<path stroke="#b1ff00" stroke-width="14" d="M271 291h1"/>
<path stroke="#d4ff00" stroke-width="14" d="M272 291h1"/>
<path stroke="#f7ff00" stroke-width="14" d="M273 291h1"/>
<path stroke="#fff500" stroke-width="14" d="M274 291h1"/>
<path stroke="#ffe800" stroke-width="14" d="M275 291h1"/>
<path stroke="#ffda00" stroke-width="14" d="M276 291h1"/>
<path stroke="#ffcd00" stroke-width="14" d="M277 291h1"/>
<path stroke="#ffc700" stroke-width="14" d="M278 291h1M461 291h1"/>
<path stroke="#ffce00" stroke-width="14" d="M279 291h1"/>
<path stroke="#ffef00" stroke-width="14" d="M280 291h1M291 291h1M463 291h1"/>
<path stroke="#00ff03" stroke-width="14" d="M281 291h1M452 291h1M464 291h1"/>
<path stroke="#00ff06" stroke-width="14" d="M285 291h1M470 291h1"/>
<path stroke="#fff100" stroke-width="14" d="M286 291h1M458 291h1M471 291h1"/>
<path stroke="#ffd100" stroke-width="14" d="M287 291h1"/>
<path stroke="#ffc900" stroke-width="14" d="M288 291h1M473 291h1"/>
<path stroke="#ffd300" stroke-width="14" d="M289 291h1"/>
<path stroke="#ffe100" stroke-width="14" d="M290 291h1"/>
<path stroke="#fffe00" stroke-width="14" d="M292 291h1"/>
<path stroke="#deff00" stroke-width="14" d="M293 291h1"/>
<path stroke="#b9ff00" stroke-width="14" d="M294 291h1"/>
<path stroke="#8aff00" stroke-width="14" d="M295 291h1"/>
<path stroke="#51ff00" stroke-width="14" d="M296 291h1"/>
<path stroke="#19ff00" stroke-width="14" d="M297 291h1"/>
<path stroke="#00ff1b" stroke-width="14" d="M298 291h1"/>
<path stroke="#00ff6f" stroke-width="14" d="M300 291h1"/>
<path stroke="#00ff9c" stroke-width="14" d="M301 291h1"/>
<path stroke="#00ffca" stroke-width="14" d="M302 291h1"/>
<path stroke="#00ffde" stroke-width="14" d="M303 291h1"/>
<path stroke="#00ffd9" stroke-width="14" d="M447 291h1"/>
<path stroke="#00ffb8" stroke-width="14" d="M448 291h1"/>
<path stroke="#00ff89" stroke-width="14" d="M449 291h1"/>
<path stroke="#00ff5a" stroke-width="14" d="M450 291h1"/>
<path stroke="#00ff2e" stroke-width="14" d="M451 291h1"/>
<path stroke="#3cff00" stroke-width="14" d="M453 291h1"/>
<path stroke="#77ff00" stroke-width="14" d="M454 291h1"/>
<path stroke="#b0ff00" stroke-width="14" d="M455 291h1M480 291h1"/>
<path stroke="#d7ff00" stroke-width="14" d="M456 291h1"/>
<path stroke="#feff00" stroke-width="14" d="M457 291h1"/>
<path stroke="#ffe200" stroke-width="14" d="M459 291h1"/>
<path stroke="#ffd400" stroke-width="14" d="M460 291h1"/>
<path stroke="#ffcf00" stroke-width="14" d="M462 291h1M474 291h1"/>
<path stroke="#ffd000" stroke-width="14" d="M472 291h1"/>
<path stroke="#ffdc00" stroke-width="14" d="M475 291h1"/>
<path stroke="#ffe900" stroke-width="14" d="M476 291h1"/>
<path stroke="#fff600" stroke-width="14" d="M477 291h1"/>
<path stroke="#f5ff00" stroke-width="14" d="M478 291h1"/>
<path stroke="#d3ff00" stroke-width="14" d="M479 291h1"/>
<path stroke="#80ff00" stroke-width="14" d="M481 291h1"/>
<path stroke="#4cff00" stroke-width="14" d="M482 291h1"/>
<path stroke="#18ff00" stroke-width="14" d="M483 291h1"/>
<path stroke="#00ff18" stroke-width="14" d="M484 291h1"/>
<path stroke="#00ff3f" stroke-width="14" d="M485 291h1"/>
<path stroke="#00ff66" stroke-width="14" d="M486 291h1"/>
<path stroke="#00ff90" stroke-width="14" d="M487 291h1"/>
<path stroke="#00ffba" stroke-width="14" d="M488 291h1"/>
<path stroke="#00ffd8" stroke-width="14" d="M489 291h1"/>
<path stroke="#00ffe6" stroke-width="14" d="M490 291h1"/>
<path stroke="#000" stroke-width="15" d="M112 305.5H599"/>
<path stroke="#16ff00" stroke-width="15" d="M112 305.5h1"/>
<path stroke="#00ff17" stroke-width="15" d="M113 305.5h1"/>
<path stroke="#00ff3a" stroke-width="15" d="M114 305.5h1"/>
<path stroke="#00ff5b" stroke-width="15" d="M115 305.5h1"/>
<path stroke="#00ff7a" stroke-width="15" d="M116 305.5h1"/>
<path stroke="#00ff98" stroke-width="15" d="M117 305.5h1"/>
<path stroke="#00ffaa" stroke-width="15" d="M118 305.5h3M221 305.5h1"/>
<path stroke="#00ffe3" stroke-width="15" d="M123 305.5h1M125 305.5h1M137 305.5h1M139 305.5h2M142 305.5h2M149 305.5h1M155 305.5h1M158 305.5h1M162 305.5h1M168 305.5h2M177 305.5h1M183 305.5h1M186 305.5h1M188 305.5h1M197 305.5h1M204 305.5h2M214 305.5h1M217 305.5h1M219 305.5h1M222 305.5h1M227 305.5h1M234 305.5h1M241 305.5h1M244 305.5h1M250 305.5h1M254 305.5h1M258 305.5h3M325 305.5h3M330 305.5h1M333 305.5h2M339 305.5h2M343 305.5h1M345 305.5h1M359 305.5h1M361 305.5h1M364 305.5h1M378 305.5h1M383 305.5h2M386 305.5h1M388 305.5h1M397 305.5h1M403 305.5h1M405 305.5h1M416 305.5h1M418 305.5h1M425 305.5h1M427 305.5h1M429 305.5h1M431 305.5h1M439 305.5h1M443 305.5h1M489 305.5h1M492 305.5h1M494 305.5h1M496 305.5h1M504 305.5h1M527 305.5h1M531 305.5h2M534 305.5h1M537 305.5h4M543 305.5h1M546 305.5h2M549 305.5h1M566 305.5h1M573 305.5h1M575 305.5h2M580 305.5h3M585 305.5h1M588 305.5h1M595 305.5h1"/>
<path stroke="#00ffbf" stroke-width="15" d="M128 305.5h1M141 305.5h1M165 305.5h1M216 305.5h1M306 305.5h1M355 305.5h1M393 305.5h1M406 305.5h1M419 305.5h1M517 305.5h1M545 305.5h1M558 305.5h1M570 305.5h1"/>
<path stroke="#00fff5" stroke-width="15" d="M261 305.5h1"/>
<path stroke="#00ffe6" stroke-width="15" d="M262 305.5h1"/>
<path stroke="#00ffcc" stroke-width="15" d="M263 305.5h1"/>
<path stroke="#00ffa0" stroke-width="15" d="M264 305.5h1"/>
<path stroke="#00ff74" stroke-width="15" d="M265 305.5h1"/>
<path stroke="#00ff4a" stroke-width="15" d="M266 305.5h1M299 305.5h1"/>
<path stroke="#00ff21" stroke-width="15" d="M267 305.5h1"/>
<path stroke="#0eff00" stroke-width="15" d="M268 305.5h1"/>
<path stroke="#46ff00" stroke-width="15" d="M269 305.5h1"/>
<path stroke="#7dff00" stroke-width="15" d="M270 305.5h1"/>
<path stroke="#b1ff00" stroke-width="15" d="M271 305.5h1"/>
<path stroke="#d6ff00" stroke-width="15" d="M272 305.5h1M479 305.5h1"/>
<path stroke="#faff00" stroke-width="15" d="M273 305.5h1M478 305.5h1"/>
<path stroke="#fff400" stroke-width="15" d="M274 305.5h1M477 305.5h1"/>
<path stroke="#ffe600" stroke-width="15" d="M275 305.5h1M476 305.5h1"/>
<path stroke="#ffd800" stroke-width="15" d="M276 305.5h1M475 305.5h1"/>
<path stroke="#ffca00" stroke-width="15" d="M277 305.5h1"/>
<path stroke="#ffc400" stroke-width="15" d="M278 305.5h1M461 305.5h1"/>
<path stroke="#ffcc00" stroke-width="15" d="M279 305.5h1"/>
<path stroke="#fff100" stroke-width="15" d="M280 305.5h1M463 305.5h1"/>
<path stroke="#00ff12" stroke-width="15" d="M281 305.5h1"/>
<path stroke="#00ff15" stroke-width="15" d="M285 305.5h1M470 305.5h1"/>
<path stroke="#fff200" stroke-width="15" d="M286 305.5h1M471 305.5h1"/>
<path stroke="#ffce00" stroke-width="15" d="M287 305.5h1"/>
<path stroke="#ffc500" stroke-width="15" d="M288 305.5h1M473 305.5h1"/>
<path stroke="#ffd000" stroke-width="15" d="M289 305.5h1M460 305.5h1"/>
<path stroke="#ffde00" stroke-width="15" d="M290 305.5h1"/>
<path stroke="#ffed00" stroke-width="15" d="M291 305.5h1"/>
<path stroke="#fffc00" stroke-width="15" d="M292 305.5h1"/>
<path stroke="#e2ff00" stroke-width="15" d="M293 305.5h1"/>
<path stroke="#bbff00" stroke-width="15" d="M294 305.5h1"/>
<path stroke="#8aff00" stroke-width="15" d="M295 305.5h1"/>
<path stroke="#50ff00" stroke-width="15" d="M296 305.5h1"/>
<path stroke="#15ff00" stroke-width="15" d="M297 305.5h1"/>
<path stroke="#00ff1e" stroke-width="15" d="M298 305.5h1"/>
<path stroke="#00ff76" stroke-width="15" d="M300 305.5h1"/>
<path stroke="#00ffa5" stroke-width="15" d="M301 305.5h1"/>
<path stroke="#00ffd5" stroke-width="15" d="M302 305.5h1"/>
<path stroke="#00ffea" stroke-width="15" d="M303 305.5h1"/>
<path stroke="#00fff0" stroke-width="15" d="M446 305.5h1"/>
<path stroke="#00ffe0" stroke-width="15" d="M447 305.5h1"/>
<path stroke="#00ffb6" stroke-width="15" d="M448 305.5h1"/>
<path stroke="#00ff85" stroke-width="15" d="M449 305.5h1"/>
<path stroke="#00ff56" stroke-width="15" d="M450 305.5h1"/>
<path stroke="#00ff2a" stroke-width="15" d="M451 305.5h1"/>
<path stroke="#05ff00" stroke-width="15" d="M452 305.5h1"/>
<path stroke="#44ff00" stroke-width="15" d="M453 305.5h1"/>
<path stroke="#80ff00" stroke-width="15" d="M454 305.5h1"/>
<path stroke="#b7ff00" stroke-width="15" d="M455 305.5h1"/>
<path stroke="#deff00" stroke-width="15" d="M456 305.5h1"/>
<path stroke="#fffd00" stroke-width="15" d="M457 305.5h1"/>
<path stroke="#ffee00" stroke-width="15" d="M458 305.5h1"/>
<path stroke="#ffdf00" stroke-width="15" d="M459 305.5h1"/>
<path stroke="#ffcd00" stroke-width="15" d="M462 305.5h1M472 305.5h1"/>
<path stroke="#00ff13" stroke-width="15" d="M464 305.5h1"/>
<path stroke="#ffcb00" stroke-width="15" d="M474 305.5h1"/>
<path stroke="#b2ff00" stroke-width="15" d="M480 305.5h1"/>
<path stroke="#81ff00" stroke-width="15" d="M481 305.5h1"/>
<path stroke="#4aff00" stroke-width="15" d="M482 305.5h1"/>
<path stroke="#14ff00" stroke-width="15" d="M483 305.5h1"/>
<path stroke="#00ff1c" stroke-width="15" d="M484 305.5h1"/>
<path stroke="#00ff44" stroke-width="15" d="M485 305.5h1"/>
<path stroke="#00ff6d" stroke-width="15" d="M486 305.5h1"/>
<path stroke="#00ff99" stroke-width="15" d="M487 305.5h1"/>
<path stroke="#00ffc5" stroke-width="15" d="M488 305.5h1"/>
<path stroke="#00fff2" stroke-width="15" d="M490 305.5h1"/>
<path stroke="#000" stroke-width="20" d="M112 323H599"/>
<path stroke="#7bff00" stroke-width="20" d="M112 323h1"/>
<path stroke="#32ff00" stroke-width="20" d="M113 323h1"/>
<path stroke="#00ff0b" stroke-width="20" d="M114 323h1"/>
<path stroke="#00ff31" stroke-width="20" d="M115 323h1"/>
<path stroke="#00ff56" stroke-width="20" d="M116 323h1"/>
<path stroke="#00ff78" stroke-width="20" d="M117 323h1"/>
<path stroke="#00ff89" stroke-width="20" d="M118 323h1"/>
<path stroke="#00ffb9" stroke-width="20" d="M119 323h1M150 323h1M219 323h1M229 323h1M234 323h1M249 323h1M337 323h1M358 323h1M536 323h1M580 323h1M588 323h1"/>
<path stroke="#00ffa4" stroke-width="20" d="M120 323h1"/>
<path stroke="#00ffdd" stroke-width="20" d="M121 323h1M124 323h1M128 323h1M130 323h1M137 323h2M145 323h3M154 323h1M162 323h1M170 323h1M180 323h2M186 323h1M191 323h1M197 323h1M200 323h1M202 323h1M207 323h1M211 323h1M223 323h1M226 323h1M232 323h2M240 323h2M250 323h1M256 323h1M307 323h1M314 323h1M318 323h2M321 323h1M335 323h1M341 323h3M345 323h1M355 323h1M360 323h1M373 323h1M383 323h1M392 323h2M400 323h1M407 323h1M409 323h1M411 323h1M413 323h1M418 323h1M421 323h1M428 323h1M430 323h1M438 323h1M443 323h1M494 323h1M504 323h1M509 323h1M512 323h1M542 323h1M552 323h1M558 323h1M561 323h1M565 323h1M572 323h1M574 323h1M579 323h1M582 323h1"/>
<path stroke="#00fffb" stroke-width="20" d="M257 323h1"/>
<path stroke="#00ffee" stroke-width="20" d="M258 323h1M445 323h1M491 323h1"/>
<path stroke="#00ffd4" stroke-width="20" d="M259 323h1"/>
<path stroke="#00ffae" stroke-width="20" d="M260 323h1"/>
<path stroke="#00ff88" stroke-width="20" d="M261 323h1"/>
<path stroke="#00ff62" stroke-width="20" d="M262 323h1"/>
<path stroke="#00ff3f" stroke-width="20" d="M263 323h1"/>
<path stroke="#00ff1c" stroke-width="20" d="M264 323h1"/>
<path stroke="#0cff00" stroke-width="20" d="M265 323h1"/>
<path stroke="#3dff00" stroke-width="20" d="M266 323h1"/>
<path stroke="#6cff00" stroke-width="20" d="M267 323h1"/>
<path stroke="#9bff00" stroke-width="20" d="M268 323h1"/>
<path stroke="#c3ff00" stroke-width="20" d="M269 323h1"/>
<path stroke="#e2ff00" stroke-width="20" d="M270 323h1"/>
<path stroke="#fffe00" stroke-width="20" d="M271 323h1"/>
<path stroke="#fff300" stroke-width="20" d="M272 323h1"/>
<path stroke="#ffe800" stroke-width="20" d="M273 323h1"/>
<path stroke="#ffdc00" stroke-width="20" d="M274 323h1M476 323h1"/>
<path stroke="#ffd000" stroke-width="20" d="M275 323h1"/>
<path stroke="#ffc400" stroke-width="20" d="M276 323h1M289 323h1"/>
<path stroke="#ffbd00" stroke-width="20" d="M277 323h1M461 323h1"/>
<path stroke="#ffbc00" stroke-width="20" d="M278 323h1"/>
<path stroke="#ffc500" stroke-width="20" d="M279 323h1M462 323h1"/>
<path stroke="#ffe900" stroke-width="20" d="M280 323h1M477 323h1"/>
<path stroke="#00ff06" stroke-width="20" d="M281 323h1"/>
<path stroke="#00ff10" stroke-width="20" d="M285 323h1M470 323h1"/>
<path stroke="#ffef00" stroke-width="20" d="M286 323h1M471 323h1"/>
<path stroke="#ffcb00" stroke-width="20" d="M287 323h1"/>
<path stroke="#ffc200" stroke-width="20" d="M288 323h1M473 323h1"/>
<path stroke="#ffd100" stroke-width="20" d="M290 323h1"/>
<path stroke="#ffde00" stroke-width="20" d="M291 323h1"/>
<path stroke="#ffec00" stroke-width="20" d="M292 323h1"/>
<path stroke="#fff900" stroke-width="20" d="M293 323h1"/>
<path stroke="#eeff00" stroke-width="20" d="M294 323h1"/>
<path stroke="#ccff00" stroke-width="20" d="M295 323h1"/>
<path stroke="#a9ff00" stroke-width="20" d="M296 323h1"/>
<path stroke="#76ff00" stroke-width="20" d="M297 323h1"/>
<path stroke="#41ff00" stroke-width="20" d="M298 323h1"/>
<path stroke="#0dff00" stroke-width="20" d="M299 323h1"/>
<path stroke="#00ff1f" stroke-width="20" d="M300 323h1"/>
<path stroke="#00ff46" stroke-width="20" d="M301 323h1"/>
<path stroke="#00ff6c" stroke-width="20" d="M302 323h1"/>
<path stroke="#00ff96" stroke-width="20" d="M303 323h1"/>
<path stroke="#00ffc1" stroke-width="20" d="M304 323h1"/>
<path stroke="#00ffe9" stroke-width="20" d="M305 323h1"/>
<path stroke="#00fff7" stroke-width="20" d="M306 323h1"/>
<path stroke="#00fffe" stroke-width="20" d="M444 323h1"/>
<path stroke="#00ffce" stroke-width="20" d="M446 323h1"/>
<path stroke="#00ffa0" stroke-width="20" d="M447 323h1"/>
<path stroke="#00ff72" stroke-width="20" d="M448 323h1"/>
<path stroke="#00ff47" stroke-width="20" d="M449 323h1"/>
<path stroke="#00ff1d" stroke-width="20" d="M450 323h1"/>
<path stroke="#17ff00" stroke-width="20" d="M451 323h1"/>
<path stroke="#50ff00" stroke-width="20" d="M452 323h1"/>
<path stroke="#89ff00" stroke-width="20" d="M453 323h1"/>
<path stroke="#bdff00" stroke-width="20" d="M454 323h1"/>
<path stroke="#e3ff00" stroke-width="20" d="M455 323h1"/>
<path stroke="#fffc00" stroke-width="20" d="M456 323h1"/>
<path stroke="#ffee00" stroke-width="20" d="M457 323h1"/>
<path stroke="#ffe000" stroke-width="20" d="M458 323h1"/>
<path stroke="#ffd200" stroke-width="20" d="M459 323h1"/>
<path stroke="#ffc300" stroke-width="20" d="M460 323h1M474 323h1"/>
<path stroke="#ffea00" stroke-width="20" d="M463 323h1"/>
<path stroke="#00ff07" stroke-width="20" d="M464 323h1"/>
<path stroke="#ffca00" stroke-width="20" d="M472 323h1"/>
<path stroke="#ffcf00" stroke-width="20" d="M475 323h1"/>
<path stroke="#fff500" stroke-width="20" d="M478 323h1"/>
<path stroke="#f9ff00" stroke-width="20" d="M479 323h1"/>
<path stroke="#d7ff00" stroke-width="20" d="M480 323h1"/>
<path stroke="#b5ff00" stroke-width="20" d="M481 323h1"/>
<path stroke="#8aff00" stroke-width="20" d="M482 323h1"/>
<path stroke="#57ff00" stroke-width="20" d="M483 323h1"/>
<path stroke="#24ff00" stroke-width="20" d="M484 323h1"/>
<path stroke="#00ff0d" stroke-width="20" d="M485 323h1"/>
<path stroke="#00ff32" stroke-width="20" d="M486 323h1"/>
<path stroke="#00ff58" stroke-width="20" d="M487 323h1"/>
<path stroke="#00ff7f" stroke-width="20" d="M488 323h1"/>
<path stroke="#00ffa7" stroke-width="20" d="M489 323h1"/>
<path stroke="#00ffd0" stroke-width="20" d="M490 323h1"/>
<path stroke="#00fffc" stroke-width="20" d="M492 323h1"/>
<path stroke="#000" stroke-width="11" d="M112 338.5H599"/>
<path stroke="#deff00" stroke-width="11" d="M112 338.5h1"/>
<path stroke="#8bff00" stroke-width="11" d="M113 338.5h1"/>
<path stroke="#3aff00" stroke-width="11" d="M114 338.5h1"/>
<path stroke="#00ff0b" stroke-width="11" d="M115 338.5h1"/>
<path stroke="#00ff35" stroke-width="11" d="M116 338.5h1"/>
<path stroke="#00ff5d" stroke-width="11" d="M117 338.5h1"/>
<path stroke="#00ff83" stroke-width="11" d="M118 338.5h1"/>
<path stroke="#00ff9b" stroke-width="11" d="M119 338.5h2"/>
<path stroke="#00ffe3" stroke-width="11" d="M121 338.5h1M124 338.5h1M127 338.5h2M131 338.5h1M135 338.5h2M149 338.5h1M151 338.5h2M156 338.5h1M168 338.5h1M172 338.5h2M179 338.5h1M184 338.5h2M190 338.5h2M195 338.5h2M200 338.5h1M204 338.5h1M207 338.5h1M212 338.5h1M217 338.5h1M219 338.5h1M223 338.5h2M228 338.5h1M233 338.5h1M240 338.5h1M245 338.5h1M247 338.5h1M254 338.5h3M312 338.5h1M320 338.5h1M329 338.5h2M342 338.5h1M346 338.5h2M352 338.5h1M358 338.5h1M363 338.5h2M369 338.5h1M373 338.5h1M375 338.5h1M377 338.5h1M390 338.5h1M397 338.5h1M403 338.5h3M407 338.5h1M410 338.5h1M413 338.5h1M421 338.5h1M424 338.5h1M431 338.5h1M436 338.5h1M439 338.5h1M495 338.5h1M501 338.5h2M515 338.5h1M519 338.5h1M554 338.5h2M557 338.5h1M561 338.5h1M563 338.5h1M565 338.5h1M574 338.5h1M576 338.5h2M580 338.5h1M584 338.5h1M586 338.5h1M591 338.5h1M595 338.5h1M598 338.5h1"/>
<path stroke="#00ffbf" stroke-width="11" d="M158 338.5h1M253 338.5h1M339 338.5h1M344 338.5h1M348 338.5h1M356 338.5h1M380 338.5h1M395 338.5h1M412 338.5h1M420 338.5h1M427 338.5h1M505 338.5h1M517 338.5h1M527 338.5h1M530 338.5h1M532 338.5h1"/>
<path stroke="#00fffb" stroke-width="11" d="M257 338.5h1M309 338.5h1"/>
<path stroke="#00ffed" stroke-width="11" d="M258 338.5h1"/>
<path stroke="#00ffd3" stroke-width="11" d="M259 338.5h1"/>
<path stroke="#00ffac" stroke-width="11" d="M260 338.5h1"/>
<path stroke="#00ff86" stroke-width="11" d="M261 338.5h1"/>
<path stroke="#00ff60" stroke-width="11" d="M262 338.5h1"/>
<path stroke="#00ff3c" stroke-width="11" d="M263 338.5h1"/>
<path stroke="#00ff18" stroke-width="11" d="M264 338.5h1"/>
<path stroke="#14ff00" stroke-width="11" d="M265 338.5h1"/>
<path stroke="#46ff00" stroke-width="11" d="M266 338.5h1"/>
<path stroke="#76ff00" stroke-width="11" d="M267 338.5h1"/>
<path stroke="#a6ff00" stroke-width="11" d="M268 338.5h1"/>
<path stroke="#cfff00" stroke-width="11" d="M269 338.5h1"/>
<path stroke="#eeff00" stroke-width="11" d="M270 338.5h1"/>
<path stroke="#fffa00" stroke-width="11" d="M271 338.5h1"/>
<path stroke="#ffef00" stroke-width="11" d="M272 338.5h1"/>
<path stroke="#ffe300" stroke-width="11" d="M273 338.5h1"/>
<path stroke="#ffd700" stroke-width="11" d="M274 338.5h1"/>
<path stroke="#ffcb00" stroke-width="11" d="M275 338.5h1"/>
<path stroke="#ffbf00" stroke-width="11" d="M276 338.5h1M279 338.5h1M288 338.5h1"/>
<path stroke="#ffb700" stroke-width="11" d="M277 338.5h1M461 338.5h1"/>
<path stroke="#ffb500" stroke-width="11" d="M278 338.5h1"/>
<path stroke="#ffe400" stroke-width="11" d="M280 338.5h1M463 338.5h1"/>
<path stroke="#06ff00" stroke-width="11" d="M281 338.5h1"/>
<path stroke="#00ff0c" stroke-width="11" d="M285 338.5h1M470 338.5h1"/>
<path stroke="#ffed00" stroke-width="11" d="M286 338.5h1M471 338.5h1"/>
<path stroke="#ffc800" stroke-width="11" d="M287 338.5h1"/>
<path stroke="#ffc100" stroke-width="11" d="M289 338.5h1"/>
<path stroke="#ffc700" stroke-width="11" d="M290 338.5h1"/>
<path stroke="#ffd300" stroke-width="11" d="M291 338.5h1"/>
<path stroke="#ffdf00" stroke-width="11" d="M292 338.5h1"/>
<path stroke="#ffeb00" stroke-width="11" d="M293 338.5h1"/>
<path stroke="#fff600" stroke-width="11" d="M294 338.5h1"/>
<path stroke="#f9ff00" stroke-width="11" d="M295 338.5h1"/>
<path stroke="#daff00" stroke-width="11" d="M296 338.5h1"/>
<path stroke="#bbff00" stroke-width="11" d="M297 338.5h1"/>
<path stroke="#95ff00" stroke-width="11" d="M298 338.5h1"/>
<path stroke="#66ff00" stroke-width="11" d="M299 338.5h1"/>
<path stroke="#37ff00" stroke-width="11" d="M300 338.5h1"/>
<path stroke="#07ff00" stroke-width="11" d="M301 338.5h1"/>
<path stroke="#00ff1f" stroke-width="11" d="M302 338.5h1"/>
<path stroke="#00ff42" stroke-width="11" d="M303 338.5h1"/>
<path stroke="#00ff64" stroke-width="11" d="M304 338.5h1"/>
<path stroke="#00ff89" stroke-width="11" d="M305 338.5h1"/>
<path stroke="#00ffaf" stroke-width="11" d="M306 338.5h1"/>
<path stroke="#00ffd4" stroke-width="11" d="M307 338.5h1"/>
<path stroke="#00ffee" stroke-width="11" d="M308 338.5h1M445 338.5h1"/>
<path stroke="#00fffe" stroke-width="11" d="M444 338.5h1"/>
<path stroke="#00ffcd" stroke-width="11" d="M446 338.5h1"/>
<path stroke="#00ff9e" stroke-width="11" d="M447 338.5h1"/>
<path stroke="#00ff6f" stroke-width="11" d="M448 338.5h1"/>
<path stroke="#00ff44" stroke-width="11" d="M449 338.5h1M486 338.5h1"/>
<path stroke="#00ff19" stroke-width="11" d="M450 338.5h1"/>
<path stroke="#1fff00" stroke-width="11" d="M451 338.5h1"/>
<path stroke="#59ff00" stroke-width="11" d="M452 338.5h1"/>
<path stroke="#94ff00" stroke-width="11" d="M453 338.5h1"/>
<path stroke="#c9ff00" stroke-width="11" d="M454 338.5h1"/>
<path stroke="#efff00" stroke-width="11" d="M455 338.5h1"/>
<path stroke="#fff700" stroke-width="11" d="M456 338.5h1M478 338.5h1"/>
<path stroke="#ffea00" stroke-width="11" d="M457 338.5h1M477 338.5h1"/>
<path stroke="#ffdb00" stroke-width="11" d="M458 338.5h1"/>
<path stroke="#ffcc00" stroke-width="11" d="M459 338.5h1"/>
<path stroke="#ffbe00" stroke-width="11" d="M460 338.5h1"/>
<path stroke="#ffc000" stroke-width="11" d="M462 338.5h1M473 338.5h1"/>
<path stroke="#05ff00" stroke-width="11" d="M464 338.5h1"/>
<path stroke="#ffc900" stroke-width="11" d="M472 338.5h1"/>
<path stroke="#ffc200" stroke-width="11" d="M474 338.5h1"/>
<path stroke="#ffcf00" stroke-width="11" d="M475 338.5h1"/>
<path stroke="#ffdd00" stroke-width="11" d="M476 338.5h1"/>
<path stroke="#f3ff00" stroke-width="11" d="M479 338.5h1"/>
<path stroke="#d0ff00" stroke-width="11" d="M480 338.5h1"/>
<path stroke="#adff00" stroke-width="11" d="M481 338.5h1"/>
<path stroke="#7aff00" stroke-width="11" d="M482 338.5h1"/>
<path stroke="#45ff00" stroke-width="11" d="M483 338.5h1"/>
<path stroke="#10ff00" stroke-width="11" d="M484 338.5h1"/>
<path stroke="#00ff1d" stroke-width="11" d="M485 338.5h1"/>
<path stroke="#00ff6b" stroke-width="11" d="M487 338.5h1"/>
<path stroke="#00ff96" stroke-width="11" d="M488 338.5h1"/>
<path stroke="#00ffc0" stroke-width="11" d="M489 338.5h1"/>
<path stroke="#00ffe8" stroke-width="11" d="M490 338.5h1"/>
<path stroke="#00fff7" stroke-width="11" d="M491 338.5h1"/>
<path stroke="#00ffaa" stroke-width="11" d="M507 338.5h1"/>
</g>
<g class="c" stroke-width="1">
<path stroke="#ff0100" d="M613 57.5H627"/>
<path stroke="#ff0300" d="M613 58.5H627"/>
<path stroke="#ff0500" d="M613 59.5H627"/>
<path stroke="#ff0700" d="M613 60.5H627"/>
<path stroke="#ff0900" d="M613 61.5H627"/>
<path stroke="#ff0c00" d="M613 62.5H627"/>
<path stroke="#ff0e00" d="M613 63.5H627"/>
<path stroke="#ff1000" d="M613 64.5H627"/>
<path stroke="#ff1200" d="M613 65.5H627"/>
<path stroke="#ff1400" d="M613 66.5H627"/>
<path stroke="#ff1600" d="M613 67.5H627"/>
<path stroke="#ff1800" d="M613 68.5H627"/>
<path stroke="#ff1a00" d="M613 69.5H627"/>
<path stroke="#ff1c00" d="M613 70.5H627"/>
<path stroke="#ff1e00" d="M613 71.5H627"/>
<path stroke="#ff2100" d="M613 72.5H627"/>
<path stroke="#ff2300" d="M613 73.5H627"/>
<path stroke="#ff2500" d="M613 74.5H627"/>
<path stroke="#ff2700" d="M613 75.5H627"/>
<path stroke="#ff2900" d="M613 76.5H627"/>
<path stroke="#ff2b00" d="M613 77.5H627"/>
<path stroke="#ff2d00" d="M613 78.5H627"/>
<path stroke="#ff2f00" d="M613 79.5H627"/>
<path stroke="#ff3100" d="M613 80.5H627"/>
<path stroke="#ff3300" d="M613 81.5H627"/>
<path stroke="#ff3500" d="M613 82.5H627"/>
<path stroke="#ff3800" d="M613 83.5H627"/>
<path stroke="#ff3a00" d="M613 84.5H627"/>
<path stroke="#ff3c00" d="M613 85.5H627"/>
<path stroke="#ff3e00" d="M613 86.5H627"/>
<path stroke="#ff4000" d="M613 87.5H627"/>
<path stroke="#ff4200" d="M613 88.5H627"/>
<path stroke="#ff4400" d="M613 89.5H627"/>
<path stroke="#ff4600" d="M613 90.5H627"/>
<path stroke="#ff4800" d="M613 91.5H627"/>
<path stroke="#ff4a00" d="M613 92.5H627"/>
<path stroke="#ff4d00" d="M613 93.5H627"/>
<path stroke="#ff4f00" d="M613 94.5H627"/>
<path stroke="#ff5100" d="M613 95.5H627"/>
<path stroke="#ff5300" d="M613 96.5H627"/>
<path stroke="#ff5500" d="M613 97.5H627"/>
<path stroke="#ff5800" d="M613 98.5H627"/>
<path stroke="#ff5b00" d="M613 99.5H627"/>
<path stroke="#ff5e00" d="M613 100.5H627"/>
<path stroke="#ff6100" d="M613 101.5H627"/>
<path stroke="#ff6400" d="M613 102.5H627"/>
<path stroke="#ff6700" d="M613 103.5H627"/>
<path stroke="#ff6a00" d="M613 104.5H627"/>
<path stroke="#ff6d00" d="M613 105.5H627"/>
<path stroke="#ff7000" d="M613 106.5H627"/>
<path stroke="#ff7300" d="M613 107.5H627"/>
<path stroke="#ff7600" d="M613 108.5H627"/>
<path stroke="#ff7900" d="M613 109.5H627"/>
<path stroke="#ff7c00" d="M613 110.5H627"/>
<path stroke="#ff7f00" d="M613 111.5H627"/>
<path stroke="#ff8200" d="M613 112.5H627"/>
<path stroke="#ff8500" d="M613 113.5H627"/>
<path stroke="#ff8800" d="M613 114.5H627"/>
<path stroke="#ff8b00" d="M613 115.5H627"/>
<path stroke="#ff8d00" d="M613 116.5H627"/>
<path stroke="#ff9000" d="M613 117.5H627"/>
<path stroke="#ff9300" d="M613 118.5H627"/>
<path stroke="#ff9600" d="M613 119.5H627"/>
<path stroke="#ff9900" d="M613 120.5H627"/>
<path stroke="#ff9c00" d="M613 121.5H627"/>
<path stroke="#ff9f00" d="M613 122.5H627"/>
<path stroke="#ffa200" d="M613 123.5H627"/>
<path stroke="#ffa500" d="M613 124.5H627"/>
<path stroke="#ffa800" d="M613 125.5H627"/>
<path stroke="#ffab00" d="M613 126.5H627"/>
<path stroke="#ffae00" d="M613 127.5H627"/>
<path stroke="#ffb100" d="M613 128.5H627"/>
<path stroke="#ffb400" d="M613 129.5H627"/>
<path stroke="#ffb700" d="M613 130.5H627"/>
<path stroke="#ffba00" d="M613 131.5H627"/>
<path stroke="#ffbc00" d="M613 132.5H627"/>
<path stroke="#ffbe00" d="M613 133.5H627"/>
<path stroke="#ffc000" d="M613 134.5H627"/>
<path stroke="#ffc100" d="M613 135.5H627"/>
<path stroke="#ffc300" d="M613 136.5H627"/>
<path stroke="#ffc500" d="M613 137.5H627"/>
<path stroke="#ffc700" d="M613 138.5H627"/>
<path stroke="#ffc900" d="M613 139.5H627"/>
<path stroke="#ffcb00" d="M613 140.5H627"/>
<path stroke="#ffcd00" d="M613 141.5H627"/>
<path stroke="#ffcf00" d="M613 142.5H627"/>
<path stroke="#ffd100" d="M613 143.5H627"/>
<path stroke="#ffd300" d="M613 144.5H627"/>
<path stroke="#ffd500" d="M613 145.5H627"/>
<path stroke="#ffd700" d="M613 146.5H627"/>
<path stroke="#ffd900" d="M613 147.5H627"/>
<path stroke="#ffdb00" d="M613 148.5H627"/>
<path stroke="#ffdd00" d="M613 149.5H627"/>
<path stroke="#ffdf00" d="M613 150.5H627"/>
<path stroke="#ffe100" d="M613 151.5H627"/>
<path stroke="#ffe300" d="M613 152.5H627"/>
<path stroke="#ffe500" d="M613 153.5H627"/>
<path stroke="#ffe700" d="M613 154.5H627"/>
<path stroke="#ffe900" d="M613 155.5H627"/>
<path stroke="#ffeb00" d="M613 156.5H627"/>
<path stroke="#ffed00" d="M613 157.5H627"/>
<path stroke="#ffef00" d="M613 158.5H627"/>
<path stroke="#fff100" d="M613 159.5H627"/>
<path stroke="#fff300" d="M613 160.5H627"/>
<path stroke="#fff500" d="M613 161.5H627"/>
<path stroke="#fff700" d="M613 162.5H627"/>
<path stroke="#fff900" d="M613 163.5H627"/>
<path stroke="#fffb00" d="M613 164.5H627"/>
<path stroke="#fffd00" d="M613 165.5H627"/>
<path stroke="#ffff00" d="M613 166.5H627"/>
<path stroke="#f9ff00" d="M613 167.5H627"/>
<path stroke="#f3ff00" d="M613 168.5H627"/>
<path stroke="#edff00" d="M613 169.5H627"/>
<path stroke="#e7ff00" d="M613 170.5H627"/>
<path stroke="#e1ff00" d="M613 171.5H627"/>
<path stroke="#dbff00" d="M613 172.5H627"/>
<path stroke="#d5ff00" d="M613 173.5H627"/>
<path stroke="#cfff00" d="M613 174.5H627"/>
<path stroke="#c9ff00" d="M613 175.5H627"/>
<path stroke="#c3ff00" d="M613 176.5H627"/>
<path stroke="#bdff00" d="M613 177.5H627"/>
<path stroke="#b7ff00" d="M613 178.5H627"/>
<path stroke="#b1ff00" d="M613 179.5H627"/>
<path stroke="#abff00" d="M613 180.5H627"/>
<path stroke="#a5ff00" d="M613 181.5H627"/>
<path stroke="#9fff00" d="M613 182.5H627"/>
<path stroke="#99ff00" d="M613 183.5H627"/>
<path stroke="#93ff00" d="M613 184.5H627"/>
<path stroke="#8dff00" d="M613 185.5H627"/>
<path stroke="#87ff00" d="M613 186.5H627"/>
<path stroke="#81ff00" d="M613 187.5H627"/>
<path stroke="#7bff00" d="M613 188.5H627"/>
<path stroke="#75ff00" d="M613 189.5H627"/>
<path stroke="#6fff00" d="M613 190.5H627"/>
<path stroke="#69ff00" d="M613 191.5H627"/>
<path stroke="#63ff00" d="M613 192.5H627"/>
<path stroke="#5dff00" d="M613 193.5H627"/>
<path stroke="#57ff00" d="M613 194.5H627"/>
<path stroke="#51ff00" d="M613 195.5H627"/>
<path stroke="#4bff00" d="M613 196.5H627"/>
<path stroke="#45ff00" d="M613 197.5H627"/>
<path stroke="#3fff00" d="M613 198.5H627"/>
<path stroke="#39ff00" d="M613 199.5H627"/>
<path stroke="#33ff00" d="M613 200.5H627"/>
<path stroke="#2dff00" d="M613 201.5H627"/>
<path stroke="#27ff00" d="M613 202.5H627"/>
<path stroke="#21ff00" d="M613 203.5H627"/>
<path stroke="#1bff00" d="M613 204.5H627"/>
<path stroke="#15ff00" d="M613 205.5H627"/>
<path stroke="#0fff00" d="M613 206.5H627"/>
<path stroke="#09ff00" d="M613 207.5H627"/>
<path stroke="#03ff00" d="M613 208.5H627"/>
<path stroke="#00ff02" d="M613 209.5H627"/>
<path stroke="#00ff05" d="M613 210.5H627"/>
<path stroke="#00ff09" d="M613 211.5H627"/>
<path stroke="#00ff0c" d="M613 212.5H627"/>
<path stroke="#00ff10" d="M613 213.5H627"/>
<path stroke="#00ff13" d="M613 214.5H627"/>
<path stroke="#00ff16" d="M613 215.5H627"/>
<path stroke="#00ff1a" d="M613 216.5H627"/>
<path stroke="#00ff1d" d="M613 217.5H627"/>
<path stroke="#00ff21" d="M613 218.5H627"/>
<path stroke="#00ff24" d="M613 219.5H627"/>
<path stroke="#00ff28" d="M613 220.5H627"/>
<path stroke="#00ff2b" d="M613 221.5H627"/>
<path stroke="#00ff2e" d="M613 222.5H627"/>
<path stroke="#00ff32" d="M613 223.5H627"/>
<path stroke="#00ff35" d="M613 224.5H627"/>
<path stroke="#00ff39" d="M613 225.5H627"/>
<path stroke="#00ff3c" d="M613 226.5H627"/>
<path stroke="#00ff40" d="M613 227.5H627"/>
<path stroke="#00ff43" d="M613 228.5H627"/>
<path stroke="#00ff47" d="M613 229.5H627"/>
<path stroke="#00ff4a" d="M613 230.5H627"/>
<path stroke="#00ff4d" d="M613 231.5H627"/>
<path stroke="#00ff51" d="M613 232.5H627"/>
<path stroke="#00ff54" d="M613 233.5H627"/>
<path stroke="#00ff58" d="M613 234.5H627"/>
<path stroke="#00ff5b" d="M613 235.5H627"/>
<path stroke="#00ff5f" d="M613 236.5H627"/>
<path stroke="#00ff62" d="M613 237.5H627"/>
<path stroke="#00ff65" d="M613 238.5H627"/>
<path stroke="#00ff69" d="M613 239.5H627"/>
<path stroke="#00ff6c" d="M613 240.5H627"/>
<path stroke="#00ff70" d="M613 241.5H627"/>
<path stroke="#00ff73" d="M613 242.5H627"/>
<path stroke="#00ff77" d="M613 243.5H627"/>
<path stroke="#00ff7a" d="M613 244.5H627"/>
<path stroke="#00ff7e" d="M613 245.5H627"/>
<path stroke="#00ff81" d="M613 246.5H627"/>
<path stroke="#00ff84" d="M613 247.5H627"/>
<path stroke="#00ff88" d="M613 248.5H627"/>
<path stroke="#00ff8b" d="M613 249.5H627"/>
<path stroke="#00ff8f" d="M613 250.5H627"/>
<path stroke="#00ff92" d="M613 251.5H627"/>
<path stroke="#00ff96" d="M613 252.5H627"/>
<path stroke="#00ff99" d="M613 253.5H627"/>
<path stroke="#00ff9c" d="M613 254.5H627"/>
<path stroke="#00ffa0" d="M613 255.5H627"/>
<path stroke="#00ffa3" d="M613 256.5H627"/>
<path stroke="#00ffa7" d="M613 257.5H627"/>
<path stroke="#00ffaa" d="M613 258.5H627"/>
<path stroke="#00ffae" d="M613 259.5H627"/>
<path stroke="#00ffb1" d="M613 260.5H627"/>
<path stroke="#00ffb4" d="M613 261.5H627"/>
<path stroke="#00ffb8" d="M613 262.5H627"/>
<path stroke="#00ffbb" d="M613 263.5H627"/>
<path stroke="#00ffbf" d="M613 264.5H627"/>
<path stroke="#00ffc2" d="M613 265.5H627"/>
<path stroke="#00ffc6" d="M613 266.5H627"/>
<path stroke="#00ffc9" d="M613 267.5H627"/>
<path stroke="#00ffcd" d="M613 268.5H627"/>
<path stroke="#00ffd0" d="M613 269.5H627"/>
<path stroke="#00ffd3" d="M613 270.5H627"/>
<path stroke="#00ffd7" d="M613 271.5H627"/>
<path stroke="#00ffda" d="M613 272.5H627"/>
<path stroke="#00ffde" d="M613 273.5H627"/>
<path stroke="#00ffe1" d="M613 274.5H627"/>
<path stroke="#00ffe5" d="M613 275.5H627"/>
<path stroke="#00ffe8" d="M613 276.5H627"/>
<path stroke="#00ffeb" d="M613 277.5H627"/>
<path stroke="#00ffef" d="M613 278.5H627"/>
<path stroke="#00fff2" d="M613 279.5H627"/>
<path stroke="#00fff6" d="M613 280.5H627"/>
<path stroke="#00fff9" d="M613 281.5H627"/>
<path stroke="#00fffd" d="M613 282.5H627"/>
<path stroke="#00fdff" d="M613 283.5H627"/>
<path stroke="#00f6ff" d="M613 284.5H627"/>
<path stroke="#00f0ff" d="M613 285.5H627"/>
<path stroke="#00e9ff" d="M613 286.5H627"/>
<path stroke="#00e3ff" d="M613 287.5H627"/>
<path stroke="#00dcff" d="M613 288.5H627"/>
<path stroke="#00d6ff" d="M613 289.5H627"/>
<path stroke="#00cfff" d="M613 290.5H627"/>
<path stroke="#00c8ff" d="M613 291.5H627"/>
<path stroke="#00c2ff" d="M613 292.5H627"/>
<path stroke="#00bbff" d="M613 293.5H627"/>
<path stroke="#00b5ff" d="M613 294.5H627"/>
<path stroke="#00aeff" d="M613 295.5H627"/>
<path stroke="#00a8ff" d="M613 296.5H627"/>
<path stroke="#00a1ff" d="M613 297.5H627"/>
<path stroke="#009bff" d="M613 298.5H627"/>
<path stroke="#0094ff" d="M613 299.5H627"/>
<path stroke="#008dff" d="M613 300.5H627"/>
<path stroke="#0087ff" d="M613 301.5H627"/>
<path stroke="#0080ff" d="M613 302.5H627"/>
<path stroke="#007aff" d="M613 303.5H627"/>
<path stroke="#0073ff" d="M613 304.5H627"/>
<path stroke="#006dff" d="M613 305.5H627"/>
<path stroke="#0066ff" d="M613 306.5H627"/>
<path stroke="#005fff" d="M613 307.5H627"/>
<path stroke="#0059ff" d="M613 308.5H627"/>
<path stroke="#0052ff" d="M613 309.5H627"/>
<path stroke="#004cff" d="M613 310.5H627"/>
<path stroke="#0045ff" d="M613 311.5H627"/>
<path stroke="#003fff" d="M613 312.5H627"/>
<path stroke="#0038ff" d="M613 313.5H627"/>
<path stroke="#0032ff" d="M613 314.5H627"/>
<path stroke="#002bff" d="M613 315.5H627"/>
<path stroke="#0024ff" d="M613 316.5H627"/>
<path stroke="#001eff" d="M613 317.5H627"/>
<path stroke="#0017ff" d="M613 318.5H627"/>
<path stroke="#0011ff" d="M613 319.5H627"/>
<path stroke="#000aff" d="M613 320.5H627"/>
<path stroke="#0004ff" d="M613 321.5H627"/>
<path stroke="#0000fe" d="M613 322.5H627"/>
<path stroke="#0000fa" d="M613 323.5H627"/>
<path stroke="#0000f7" d="M613 324.5H627"/>
<path stroke="#0000f4" d="M613 325.5H627"/>
<path stroke="#0000f0" d="M613 326.5H627"/>
<path stroke="#0000ed" d="M613 327.5H627"/>
<path stroke="#0000e9" d="M613 328.5H627"/>
<path stroke="#0000e6" d="M613 329.5H627"/>
<path stroke="#0000e3" d="M613 330.5H627"/>
<path stroke="#0000df" d="M613 331.5H627"/>
<path stroke="#0000dc" d="M613 332.5H627"/>
<path stroke="#0000d9" d="M613 333.5H627"/>
<path stroke="#0000d5" d="M613 334.5H627"/>
<path stroke="#0000d2" d="M613 335.5H627"/>
<path stroke="#0000cf" d="M613 336.5H627"/>
<path stroke="#0000cb" d="M613 337.5H627"/>
<path stroke="#0000c8" d="M613 338.5H627"/>
<path stroke="#0000c5" d="M613 339.5H627"/>
<path stroke="#0000c1" d="M613 340.5H627"/>
<path stroke="#0000be" d="M613 341.5H627"/>
<path stroke="#0000bb" d="M613 342.5H627"/>
<path stroke="#0000b7" d="M613 343.5H627"/>
<path stroke="#0000b4" d="M613 344.5H627"/>
<path stroke="#0000b1" d="M613 345.5H627"/>
<path stroke="#0000ad" d="M613 346.5H627"/>
<path stroke="#0000aa" d="M613 347.5H627"/>
<path stroke="#0000a7" d="M613 348.5H627"/>
<path stroke="#0000a3" d="M613 349.5H627"/>
<path stroke="#0000a0" d="M613 350.5H627"/>
<path stroke="#00009d" d="M613 351.5H627"/>
<path stroke="#000099" d="M613 352.5H627"/>
<path stroke="#000096" d="M613 353.5H627"/>
<path stroke="#000093" d="M613 354.5H627"/>
<path stroke="#00008f" d="M613 355.5H627"/>
<path stroke="#00008c" d="M613 356.5H627"/>
</g>
<defs><clipPath id="p2"><rect x="112" y="408" width="487" height="106.5"/></clipPath></defs>
<g class="l">
<path clip-path="url(#p2)" style="stroke-width:1.25" d="M112.4 463.98L113.1 470.97L113.8 478.48L114.5 486.15L115.2 493.97L115.9 501.02L116.6 508.33L117.3 508.06L118 504.04L118.7 496.45L119.4 491.65L120.1 487.52L120.8 483.99L121.5 482.88L122.2 481.53L122.9 481.95L123.6 484.15L124.3 484.75L125 485.27L125.7 487.66L126.4 491.01L127.1 493.1L127.8 495.36L128.5 497.73L129.2 499.28L129.9 502.06L130.6 502.82L131.3 502.04L132 500.96L132.7 498.25L133.4 495.69L134.1 493.31L134.8 492.46L135.5 490.64L136.2 489.56L136.9 488.54L137.6 486.87L138.3 486.85L139 484.82L139.7 484.32L140.4 483.19L141.1 483.01L141.8 482.33L142.5 483.35L143.2 481.53L143.9 481.02L144.6 480.44L145.3 480.43L146 478.89L146.7 477.32L147.4 479.66L148.1 479.22L148.8 480.05L149.5 479.97L150.2 479.94L150.9 479.42L151.6 480.59L152.3 479.24L153 479.58L153.7 479.65L154.4 482.48L155.1 479.3L155.8 480.3L156.5 480.28L157.2 480.1L157.9 480.71L158.6 480.5L159.3 479.95L160 481.64L160.7 481.91L161.4 480.98L162.1 481.79L162.8 482.2L163.5 481.67L164.2 482.47L164.9 482.54L165.6 480.6L166.3 483.39L167 484.1L167.7 483.47L168.4 483.98L169.1 483.74L169.8 483.15L170.5 483.94L171.2 483.66L171.9 483.93L172.6 484.82L173.3 484.74L174 484.55L174.7 484.43L175.4 485.42L176.1 485.1L176.8 485.15L177.5 485.63L178.2 484.19L178.9 485.54L179.6 485.57L180.3 485.38L181 485.9L181.7 485.83L182.4 485.46L183.1 486.38L183.8 486.2L184.5 486.34L185.2 486.47L185.9 485.93L186.6 486.43L187.3 485.5L188 486.19L188.7 486.27L189.4 485.99L190.1 486.14L190.8 485.77L191.5 485.85L192.2 485.99L192.9 485.85L193.6 486.32L194.3 485.42L195 486.24L195.7 485.85L196.4 485.33L197.1 486.01L197.8 485.64L198.5 485.57L199.2 484.99L199.9 484.79L200.6 485.21L201.3 484.96L202 484.37L202.7 484.52L203.4 483.68L204.1 484.38L204.8 484.25L205.5 483.35L206.2 484.02L206.9 483.6L207.6 484.22L208.3 482.95L209 483.47L209.7 483.69L210.4 482.76L211.1 483.01L211.8 482.29L212.5 482.1L213.2 483.64L213.9 483.6L214.6 482.29L215.3 481.74L216 482.16L216.7 481.9L217.4 481.56L218.1 481.79L218.8 483.09L219.5 481.22L220.2 481.37L220.9 480.9L221.6 482.43L222.3 480.42L223 481.3L223.7 481.48L224.4 480.82L225.1 481.16L225.8 480.33L226.5 481.32L227.2 481.31L227.9 481.51L228.6 480.49L229.3 480.85L230 481.18L230.7 479.8L231.4 480.36L232.1 480.89L232.8 480.26L233.5 472.94L234.2 465.54L234.9 467.8L235.6 468.55L236.3 470.1L237 469.84L237.7 470.59L238.4 470.2L239.1 469.84L239.8 469.44L240.5 471.11L241.2 472.51L241.9 472.33L242.6 474.57L243.3 474.17L244 476.51L244.7 477.73L245.4 477.84L246.1 480.11L246.8 480.4L247.5 481.83L248.2 483.54L248.9 485.54L249.6 488.16L250.3 492.11L251 493.88L251.7 498.77L252.4 503.64L253.1 493.61L253.8 491.74L254.5 489.78L255.2 488.26L255.9 485.88L256.6 484.06L257.3 481.51L258 480.1L258.7 481.39L259.4 481.9L260.1 484.67L260.8 487.17L261.5 487.8L262.2 490.63L262.9 491.76L263.6 486.23L264.3 483.28L265 479.46L265.7 474.59L266.4 469.46L267.1 464.19L267.8 458.94L268.5 456.23L269.2 451.93L269.9 447.23L270.6 445.04L271.3 443.58L272 439.53L272.7 438.1L273.4 434.98L274.1 430.99L274.8 427.62L275.5 424.01L276.2 420.21L276.9 417.14L277.6 417.52L278.3 412.21L279 417.15L279.7 421.46L280.4 439.01L281.1 463.31L281.8 506.4L281.9 514.2"/>
<path clip-path="url(#p2)" style="stroke-width:1.25" d="M284.4 514L285.1 471.02L285.8 448.16L286.5 432.62L287.2 419.62L287.9 414.59L288.6 411.34L289.3 411.75L290 415.19L290.7 418.13L291.4 422.52L292.1 428.45L292.8 435.01L293.5 438.35L294.2 443.2L294.9 446.96L295.6 451.31L296.3 456.8L297 462.15L297.7 468.17L298.4 474.46L299.1 480.16L299.8 486.08L300.5 492.33L301.2 495.29L301.9 496.43L302.6 494.91L303.3 500.38L304 486.57L304.7 484.03L305.4 482.28L306.1 481.67L306.8 482.75L307.5 483.37L308.2 484.91L308.9 489.6L309.6 488.2L310.3 490.3L311 491.48L311.7 491.96L312.4 492.85L313.1 494.52L313.8 496.9L314.5 495.23L315.2 496.7L315.9 495.19L316.6 493.5L317.3 491.34L318 497.53L318.7 491.62L319.4 491.57L320.1 491.76L320.8 482.04L321.5 491.2L322.2 490.02L322.9 487.85L323.6 487.27L324.3 490.65L325 490.97L325.7 489.47L326.4 490.71L327.1 492.15L327.8 491.33L328.5 493.49L329.2 495.07L329.9 492.02L330.6 494.91L331.3 493.24L332 497.32L332.7 497.5L333.4 499.11L334.1 498.73L334.8 499.36L335.5 502.49L336.2 499.36L336.9 502.37L337.6 498.44L338.3 498.23L339 502.21L339.7 505.11L340.4 500.99L341.1 506.52L341.8 504.89L342.5 500.46L343.2 502.26L343.9 504.13L344.6 498.95L345.3 500.14L346 503.91L346.7 508.03L347.4 504.51L348.1 504.2L348.8 494.47L349.5 503.67L350.2 502.93L350.9 510.18L351.6 505.45L352.3 506.29L353 512.47L353.7 501.5L354.4 495.94L355.1 499.78L355.8 496.39L356.5 499.33L357.2 497.31L357.9 507.08L358.6 508.43L359.3 504.49L360 507.25L360.7 509.96L361.4 503.13L362.1 509.64L362.8 506.19L363.5 514L364.2 511.25L364.9 514L365.6 499.61L366.3 512.32L367 506.89L367.7 507.46L368.4 503.57L369.1 503.03L369.8 505.1L370.5 500.73L371.2 497.21L371.9 502.42L372.6 514L373.3 501.25L374 506.1L374.7 500.54L375.4 508.06L376.1 500.52L376.8 503.77L377.5 505.26L378.2 498.7L378.9 495.18L379.6 501.86L380.3 513.66L381 513.06L381.7 507.59L382.4 509.06L383.1 514L383.8 503.38L384.5 506.26L385.2 498.84L385.9 501.98L386.6 511.47L387.3 498.61L388 501.2L388.7 508.92L389.4 496L390.1 493.01L390.8 506.65L391.5 500.73L392.2 504.1L392.9 498.95L393.6 500.67L394.3 496.98L395 499L395.7 501.11L396.4 502.72L397.1 499.26L397.8 498.27L398.5 499.33L399.2 496.61L399.9 500.09L400.6 497.52L401.3 494.55L402 495.36L402.7 495.09L403.4 496.34L404.1 495.82L404.8 495.3L405.5 494.49L406.2 497.6L406.9 497.11L407.6 492.49L408.3 494.17L409 491.88L409.7 496.06L410.4 494.76L411.1 493.64L411.8 491.91L412.5 494.33L413.2 491.94L413.9 495.23L414.6 493.32L415.3 493.44L416 493.52L416.7 492.25L417.4 492.25L418.1 491.74L418.8 494.18L419.5 497.44L420.2 491.76L420.9 489.78L421.6 488.75L422.3 487.22L423 487.1L423.7 487.75L424.4 485.94L425.1 486.02L425.8 486.73L426.5 483.76L427.2 487.27L427.9 482.13L428.6 482.57L429.3 482.36L430 483.52L430.7 485.73L431.4 484.76L432.1 486.16L432.8 488.68L433.5 493.05L434.2 492.93L434.9 494.49L435.6 496.65L436.3 497.03L437 497.46L437.7 498.56L438.4 498.33L439.1 497.97L439.8 494.33L440.5 492.48L441.2 493.4L441.9 494.01L442.6 494.23L443.3 494.27L444 492.84L444.7 495L445.4 489.97L446.1 494.29L446.8 493.18L447.5 490.52L448.2 486.13L448.9 485.43L449.6 478.65L450.3 472.31L451 466.05L451.7 461.64L452.4 458.08L453.1 453.2L453.8 449.75L454.5 446.53L455.2 444.01L455.9 441.52L456.6 438.29L457.3 434.99L458 430.53L458.7 425.99L459.4 421.49L460.1 417.41L460.8 413.3L461.5 410.87L462.2 415.22L462.9 426.28L463.6 453.4L464.3 496.89L464.6 514"/>
<path clip-path="url(#p2)" style="stroke-width:1.25" d="M469.6 514L470.3 473.34L471 436.74L471.7 425.01L472.4 417.49L473.1 413.89L473.8 411.3L474.5 416.18L475.2 418.39L475.9 423.35L476.6 427L477.3 430.86L478 434.62L478.7 438.18L479.4 441.98L480.1 444.7L480.8 448.91L481.5 451.06L482.2 455.44L482.9 461.13L483.6 467L484.3 472.19L485 476.87L485.7 481.6L486.4 486.66L487.1 490.78L487.8 492.54L488.5 491.63L489.2 492.66L489.9 491.47L490.6 492.73L491.3 492.75L492 491.61L492.7 492.2L493.4 491.23L494.1 491.26L494.8 490.64L495.5 490.23L496.2 487.18L496.9 485.76L497.6 482.67L498.3 479.49L499 476.46L499.7 473.05L500.4 470.8L501.1 468.96L501.8 469.16L502.5 467.24L503.2 466.56L503.9 465.18L504.6 466.06L505.3 466.06L506 465.83L506.7 464.57L507.4 464.85L508.1 464.36L508.8 464.76L509.5 465.39L510.2 465.07L510.9 464.81L511.6 465.25L512.3 465.74L513 465.35L513.7 464.52L514.4 464.91L515.1 464.9L515.8 465.94L516.5 466.22L517.2 466.27L517.9 467.4L518.6 467.67L519.3 467.57L520 468.51L520.7 469.38L521.4 469.75L522.1 469.62L522.8 470.54L523.5 471.03L524.2 472.32L524.9 471.57L525.6 472.35L526.3 473L527 473.5L527.7 473.29L528.4 473.59L529.1 473.91L529.8 474.78L530.5 474.24L531.2 475.06L531.9 473.9L532.6 475.85L533.3 474.52L534 475.59L534.7 475.96L535.4 476.01L536.1 476.39L536.8 475.36L537.5 476.73L538.2 476.57L538.9 476.46L539.6 476.16L540.3 477.01L541 477.31L541.7 477.86L542.4 478.32L543.1 477.49L543.8 477.73L544.5 477.95L545.2 477.69L545.9 478.29L546.6 480.33L547.3 478.7L548 479.78L548.7 479.77L549.4 480.09L550.1 479.54L550.8 480.01L551.5 480.17L552.2 479.85L552.9 480.16L553.6 479.03L554.3 478.86L555 478.9L555.7 479.46L556.4 478.67L557.1 478.91L557.8 478.57L558.5 478.08L559.2 476.88L559.9 477.5L560.6 478.96L561.3 477.92L562 477.71L562.7 477.43L563.4 478.17L564.1 478.25L564.8 476.32L565.5 477.87L566.2 477.47L566.9 476.57L567.6 476.24L568.3 477.28L569 476.92L569.7 477.2L570.4 477.27L571.1 476.96L571.8 476.71L572.5 477.31L573.2 476.99L573.9 477.03L574.6 476.84L575.3 477.11L576 478.4L576.7 477.71L577.4 477.34L578.1 477.65L578.8 477.89L579.5 477.6L580.2 476.42L580.9 476.77L581.6 475.67L582.3 474.13L583 473.47L583.7 473.46L584.4 474.03L585.1 472.37L585.8 472.19L586.5 470.96L587.2 469.45L587.9 470.16L588.6 469.94L589.3 469.87L590 469.18L590.7 468.53L591.4 467.76L592.1 468.31L592.8 468.16L593.5 468.27L594.2 467.6L594.9 467.12L595.6 466.08L596.3 465.79L597 465.74L597.7 465.89L598.4 465.36L599.1 465.63L599.4 464.4"/>
<path clip-path="url(#p2)" style="stroke-width:1.25" d="M379 505L379.3 486L379.8 505"/>
<path clip-path="url(#p2)" style="stroke-width:1.25" d="M384.4 505L384.7 485L385.2 505"/>
<path d="M112.4 661.6L113.2 661.59L114 661.52L114.8 661.39L115.6 661.22L116.4 661L117.2 660.74L118 660.44L118.8 660.11L119.6 659.74L120.4 659.34L121.2 658.92L122 658.47L122.8 658L123.6 657.51L124.4 657.01L125.2 656.5L126 655.98L126.8 655.45L127.6 654.92L128.4 654.38L129.2 653.83L130 653.28L130.8 652.73L131.6 652.17L132.4 651.6L133.2 651.04L134 650.47L134.8 649.9L135.6 649.32L136.4 648.75L137.2 648.18L138 647.61L138.8 647.04L139.6 646.47L140.4 645.9L141.2 645.33L142 644.77L142.8 644.22L143.6 643.66L144.4 643.11L145.2 642.57L146 642.04L146.8 641.51L147.6 640.98L148.4 640.47L149.2 639.97L150 639.47L150.8 638.98L151.6 638.5L152.4 638.04L153.2 637.58L154 637.14L154.8 636.71L155.6 636.29L156.4 635.89L157.2 635.5L158 635.12L158.8 634.75L159.6 634.4L160.4 634.06L161.2 633.72L162 633.41L162.8 633.1L163.6 632.8L164.4 632.52L165.2 632.24L166 631.98L166.8 631.72L167.6 631.48L168.4 631.24L169.2 631.02L170 630.8L170.8 630.6L171.6 630.4L172.4 630.21L173.2 630.03L174 629.86L174.8 629.7L175.6 629.54L176.4 629.39L177.2 629.25L178 629.12L178.8 628.99L179.6 628.88L180.4 628.76L181.2 628.66L182 628.56L182.8 628.46L183.6 628.38L184.4 628.29L185.2 628.22L186 628.15L186.8 628.08L187.6 628.02L188.4 627.96L189.2 627.91L190 627.86L190.8 627.81L191.6 627.77L192.4 627.73L193.2 627.7L194 627.67L194.8 627.64L195.6 627.61L196.4 627.59L197.2 627.57L198 627.55L198.8 627.53L199.6 627.52L200.4 627.5L201.2 627.49L202 627.48L202.8 627.46L203.6 627.45L204.4 627.44L205.2 627.43L206 627.42L206.8 627.41L207.6 627.39L208.4 627.38L209.2 627.36L210 627.34L210.8 627.32L211.6 627.29L212.4 627.26L213.2 627.23L214 627.19L214.8 627.14L215.6 627.09L216.4 627.03L217.2 626.97L218 626.89L218.8 626.81L219.6 626.72L220.4 626.62L221.2 626.51L222 626.39L222.8 626.26L223.6 626.12L224.4 625.97L225.2 625.81L226 625.63L226.8 625.44L227.6 625.24L228.4 625.02L229.2 624.79L230 624.54L230.8 624.28L231.6 624L232.4 623.71L233.2 623.39L234 623.06L234.8 622.72L235.6 622.35L236.4 621.96L237.2 621.56L238 621.14L238.8 620.69L239.6 620.23L240.4 619.74L241.2 619.23L242 618.7L242.8 618.14L243.6 617.56L244.4 616.96L245.2 616.33L246 615.68L246.8 615.01L247.6 614.3L248.4 613.57L249.2 612.81L250 612.01L250.8 611.17L251.6 610.29L252.4 609.38L253.2 608.41L254 607.4L254.8 606.34L255.6 605.22L256.4 604.05L257.2 602.82L258 601.53L258.8 600.17L259.6 598.75L260.4 597.25L261.2 595.69L262 594.05L262.8 592.33L263.6 590.53L264.4 588.65L265.2 586.69L266 584.63L266.8 582.49L267.6 580.25L268.4 577.91L269.2 575.48L270 572.94L270.5 571.3L271.3 573.54L272.1 576.78L272.9 580.92L273.7 585.82L274.5 591.36L275.3 597.42L276.1 603.88L276.9 610.61L277.7 617.49L278.5 624.41L279.3 631.22L280.1 637.82L280.9 644.08L281.7 649.88L282.5 655.09L283.3 659.59L283.4 660.1L284.2 660.49L285 655.93L285.8 644.79L286.6 625.44L287.4 598.34L288.2 576.17L288.3 574.6L289.1 587.28L289.9 597.26L290.7 604.67L291.5 609.83L292.3 613.4L293.1 616.1L293.9 618.47L294.7 620.61L295.5 622.53L296.3 624.24L297.1 625.75L297.9 627.08L298.7 628.24L299.5 629.24L300.3 630.1L301.1 630.82L301.9 631.42L302.7 631.91L303.5 632.31L304.3 632.62L305.1 632.87L305.9 633.06L306.7 633.2L307.5 633.31L308.3 633.37L309.1 633.4L309.9 633.4L310.7 633.35L311.5 633.28L312.3 633.17L313.1 633.03L313.9 632.86L314.7 632.66L315.5 632.43L316.3 632.17L317.1 631.88L317.9 631.57L318.7 631.24L319.5 630.88L320.3 630.49L321.1 630.09L321.9 629.66L322.7 629.22L323.5 628.76L324.3 628.28L325.1 627.78L325.9 627.27L326.7 626.74L327.5 626.2L328.3 625.64L329.1 625.08L329.9 624.5L330.7 623.92L331.5 623.32L332.3 622.72L333.1 622.11L333.9 621.5L334.7 620.88L335.5 620.26L336.3 619.64L337.1 619.01L337.9 618.39L338.7 617.77L339.5 617.14L340.3 616.52L341.1 615.91L341.9 615.3L342.7 614.69L343.5 614.09L344.3 613.5L345.1 612.92L345.9 612.35L346.7 611.79L347.5 611.24L348.3 610.7L349.1 610.17L349.9 609.65L350.7 609.14L351.5 608.64L352.3 608.14L353.1 607.66L353.9 607.18L354.7 606.71L355.5 606.25L356.3 605.8L357.1 605.36L357.9 604.92L358.7 604.48L359.5 604.06L360.3 603.64L361.1 603.22L361.9 602.81L362.7 602.41L363.5 602.01L364.3 601.62L365.1 601.22L365.9 600.84L366.7 600.45L367.5 600.07L368.3 599.7L369.1 599.32L369.9 598.95L370.7 598.58L371.5 598.21L372.3 597.84L373.1 597.48L373.9 597.12L374.7 596.76L375.5 596.4L376.3 596.05L377.1 595.69L377.9 595.34L378.7 595L379.5 594.65L380.3 594.31L381.1 593.97L381.9 593.63L382.7 593.3L383.5 592.97L384.3 592.64L385.1 592.31L385.9 591.99L386.7 591.66L387.5 591.35L388.3 591.03L389.1 590.72L389.9 590.41L390.7 590.11L391.5 589.8L392.3 589.5L393.1 589.21L393.9 588.91L394.7 588.62L395.5 588.34L396.3 588.05L397.1 587.77L397.9 587.5L398.7 587.23L399.5 586.96L400.3 586.69L401.1 586.43L401.9 586.17L402.7 585.91L403.5 585.66L404.3 585.41L405.1 585.16L405.9 584.92L406.7 584.67L407.5 584.43L408.3 584.18L409.1 583.94L409.9 583.7L410.7 583.46L411.5 583.22L412.3 582.98L413.1 582.74L413.9 582.49L414.7 582.25L415.5 582L416.3 581.76L417.1 581.51L417.9 581.26L418.7 581L419.5 580.75L420.3 580.49L421.1 580.23L421.9 579.96L422.7 579.69L423.5 579.42L424.3 579.14L425.1 578.86L425.9 578.57L426.7 578.28L427.5 577.98L428.3 577.68L429.1 577.37L429.9 577.05L430.7 576.73L431.5 576.4L432.3 576.06L433.1 575.72L433.9 575.37L434.7 575.01L435.5 574.64L436.3 574.26L437.1 573.88L437.9 573.49L438.7 573.08L439.5 572.67L440.3 572.25L441.1 571.82L441.9 571.37L442.7 570.92L443.5 570.46L443.6 570.4L444.4 570.73L445.2 571.11L446 571.54L446.8 572.01L447.6 572.53L448.4 573.09L449.2 573.7L450 574.36L450.8 575.06L451.6 575.81L452.4 576.6L453.2 577.44L454 578.33L454.8 579.26L455.6 580.23L456.4 581.25L457.2 582.32L458 583.43L458.8 584.59L459.6 585.79L460.4 587.04L461 588L463 588L465 583L466.4 572.4L467.2 581.97L468 590.65L468.8 597.92L469.6 603.28L470.4 606.72L471.2 608.46L472 608.74L472.4 608.4L473.2 607.44L474 606.3L474.8 605.01L475.6 603.6L476.4 602.11L477.2 600.57L478 599.01L478.8 597.47L479.6 595.94L480.4 594.44L481.2 592.97L482 591.54L482.8 590.16L483.6 588.82L484.4 587.54L485.2 586.32L486 585.16L486.8 584.08L487.6 583.08L488.4 582.15L489.2 581.29L490 580.49L490.8 579.76L491.6 579.07L492.4 578.43L493.2 577.84L494 577.28L494.8 576.74L495.6 576.23L496.4 575.74L497.2 575.26L498 574.79L498.8 574.32L499.6 573.84L500.4 573.36L501.2 572.85L502 572.33L502.8 571.78L503.6 571.19L504.4 570.56L504.6 570.4L505.4 570.96L506.2 571.52L507 572.05L507.8 572.58L508.6 573.1L509.4 573.6L510.2 574.09L511 574.57L511.8 575.04L512.6 575.5L513.4 575.94L514.2 576.38L515 576.8L515.8 577.22L516.6 577.62L517.4 578.02L518.2 578.4L519 578.78L519.8 579.14L520.6 579.5L521.4 579.84L522.2 580.18L523 580.51L523.8 580.83L524.6 581.14L525.4 581.44L526.2 581.73L527 582.02L527.8 582.3L528.6 582.57L529.4 582.83L530.2 583.09L531 583.34L531.8 583.58L532.6 583.81L533.4 584.04L534.2 584.26L535 584.48L535.8 584.69L536.6 584.89L537.4 585.09L538.2 585.28L539 585.47L539.8 585.65L540.6 585.82L541.4 586L542.2 586.16L543 586.32L543.8 586.48L544.6 586.64L545.4 586.79L546.2 586.93L547 587.07L547.8 587.21L548.6 587.35L549.4 587.48L550.2 587.61L551 587.74L551.8 587.86L552.6 587.98L553.4 588.1L554.2 588.22L555 588.33L555.8 588.45L556.6 588.56L557.4 588.67L558.2 588.78L559 588.89L559.8 589L560.6 589.1L561.4 589.21L562.2 589.32L563 589.42L563.8 589.53L564.6 589.63L565.4 589.74L566.2 589.85L567 589.95L567.8 590.06L568.6 590.17L569.4 590.28L570.2 590.4L571 590.51L571.8 590.62L572.6 590.74L573.4 590.86L574.2 590.98L575 591.11L575.8 591.24L576.6 591.37L577.4 591.5L578.2 591.63L579 591.77L579.8 591.92L580.6 592.06L581.4 592.21L582.2 592.37L583 592.53L583.8 592.69L584.6 592.86L585.4 593.03L586.2 593.21L587 593.39L587.8 593.58L588.6 593.77L589.4 593.97L590.2 594.17L591 594.39L591.8 594.6L592.6 594.82L593.4 595.05L594.2 595.29L595 595.53L595.8 595.78L596.6 596.04L597.4 596.3L598.2 596.58L599 596.86L599.4 597"/>
<path d="M111.9 825.5L112.9 822.67L113.9 819.9L114.9 817.19L115.9 814.54L116.9 811.95L117.9 809.42L118.9 806.94L119.9 804.53L120.9 802.17L121.9 799.86L122.9 797.61L123.9 795.42L124.9 793.28L125.9 791.19L126.9 789.15L127.9 787.16L128.9 785.22L129.9 783.34L130.9 781.5L131.9 779.7L132.9 777.96L133.9 776.26L134.9 774.6L135.9 772.99L136.9 771.43L137.9 769.91L138.9 768.42L139.9 766.98L140.9 765.59L141.9 764.23L142.9 762.91L143.9 761.62L144.9 760.38L145.9 759.17L146.9 758L147.9 756.86L148.9 755.75L149.9 754.68L150.9 753.65L151.9 752.64L152.9 751.67L153.9 750.72L154.9 749.81L155.9 748.92L156.9 748.06L157.9 747.23L158.9 746.42L159.9 745.64L160.9 744.89L161.9 744.16L162.9 743.45L163.9 742.77L164.9 742.11L165.9 741.48L166.9 740.87L167.9 740.28L168.9 739.73L169.9 739.19L170.9 738.68L171.9 738.2L172.9 737.74L173.9 737.3L174.9 736.89L175.9 736.5L176.9 736.14L177.9 735.81L178.9 735.49L179.9 735.21L180.9 734.95L181.9 734.71L182.9 734.5L183.9 734.31L184.9 734.15L185.9 734.01L186.9 733.9L187.9 733.82L188.9 733.75L189.9 733.72L190.9 733.71L191.9 733.72L192.9 733.76L193.9 733.83L194.9 733.92L195.9 734.03L196.9 734.17L197.9 734.34L198.9 734.53L199.9 734.75L200.9 734.99L201.9 735.26L202.9 735.55L203.9 735.87L204.9 736.22L205.9 736.59L206.9 736.99L207.9 737.42L208.9 737.87L209.9 738.35L210.9 738.86L211.9 739.39L212.9 739.95L213.9 740.54L214.9 741.16L215.9 741.81L216.9 742.48L217.9 743.19L218.9 743.92L219.9 744.68L220.9 745.47L221.9 746.29L222.9 747.14L223.9 748.02L224.9 748.93L225.9 749.86L226.9 750.83L227.9 751.83L228.9 752.86L229.9 753.92L230.9 755.01L231.9 756.14L232.9 757.29L233.9 758.48L234.9 759.69L235.9 760.94L236.9 762.22L237.9 763.54L238.9 764.88L239.9 766.26L240.9 767.67L241.9 769.12L242.9 770.59L243.9 772.1L244.9 773.65L245.9 775.23L246.9 776.84L247.9 778.48L248.9 780.17L249.9 781.88L250.9 783.63L251.9 785.41L252.9 787.23L253.9 789.07L254.9 790.95L255.9 792.86L256.9 794.79L257.9 796.75L258.9 798.74L259.9 800.75L260.9 802.79L261.9 804.85L262.9 806.94L263.9 809.04L264.9 811.17L265.9 813.32L266.9 815.48L267.9 817.66L268.9 819.86L269.9 822.07L270.9 824.3L271.9 826.54L272.9 828.8L273.9 831.06L274.9 833.34L275.9 835.62L276.9 837.91L277.9 840.21L278.9 842.52L279.9 844.83L280.9 847.15L281.9 849.47L282.3 850.4L284.4 849.8L286.9 848.3L287.9 846.06L288.9 843.67L289.9 841.14L290.9 838.5L291.9 835.77L292.9 832.96L293.9 830.1L294.9 827.2L295.9 824.29L296.9 821.39L297.9 818.51L298.9 815.67L299.9 812.89L300.9 810.19L301.9 807.55L302.9 804.99L303.9 802.49L304.9 800.06L305.9 797.69L306.9 795.38L307.9 793.14L308.9 790.96L309.9 788.84L310.9 786.78L311.9 784.78L312.9 782.83L313.9 780.94L314.9 779.1L315.9 777.32L316.9 775.58L317.9 773.9L318.9 772.27L319.9 770.69L320.9 769.16L321.9 767.67L322.9 766.23L323.9 764.84L324.9 763.49L325.9 762.19L326.9 760.93L327.9 759.71L328.9 758.53L329.9 757.4L330.9 756.3L331.9 755.25L332.9 754.23L333.9 753.26L334.9 752.31L335.9 751.41L336.9 750.54L337.9 749.71L338.9 748.9L339.9 748.14L340.9 747.4L341.9 746.69L342.9 746.02L343.9 745.37L344.9 744.76L345.9 744.17L346.9 743.61L347.9 743.07L348.9 742.56L349.9 742.08L350.9 741.63L351.9 741.19L352.9 740.79L353.9 740.41L354.9 740.05L355.9 739.71L356.9 739.4L357.9 739.11L358.9 738.84L359.9 738.59L360.9 738.36L361.9 738.15L362.9 737.96L363.9 737.8L364.9 737.65L365.9 737.51L366.9 737.4L367.9 737.3L368.9 737.22L369.9 737.16L370.9 737.11L371.9 737.08L372.9 737.06L373.9 737.06L374.9 737.07L375.9 737.1L376.9 737.14L377.9 737.19L378.9 737.26L379.9 737.34L380.9 737.44L381.9 737.56L382.9 737.69L383.9 737.84L384.9 738.01L385.9 738.19L386.9 738.4L387.9 738.62L388.9 738.87L389.9 739.13L390.9 739.42L391.9 739.72L392.9 740.05L393.9 740.4L394.9 740.77L395.9 741.17L396.9 741.59L397.9 742.03L398.9 742.5L399.9 743L400.9 743.52L401.9 744.06L402.9 744.63L403.9 745.23L404.9 745.86L405.9 746.52L406.9 747.2L407.9 747.91L408.9 748.66L409.9 749.43L410.9 750.24L411.9 751.07L412.9 751.94L413.9 752.84L414.9 753.77L415.9 754.73L416.9 755.73L417.9 756.76L418.9 757.83L419.9 758.93L420.9 760.07L421.9 761.24L422.9 762.45L423.9 763.7L424.9 764.98L425.9 766.3L426.9 767.66L427.9 769.06L428.9 770.5L429.9 771.98L430.9 773.5L431.9 775.06L432.9 776.66L433.9 778.31L434.9 779.99L435.9 781.72L436.9 783.5L437.9 785.31L438.9 787.17L439.9 789.08L440.9 791.03L441.9 793.03L442.9 795.08L443.9 797.18L444.9 799.33L445.9 801.53L446.9 803.78L447.9 806.08L448.9 808.44L449.9 810.86L450.9 813.33L451.9 815.85L452.9 818.44L453.9 821.09L454.9 823.79L455.9 826.56L456.9 829.39L457.9 832.29L458.9 835.25L459.9 838.26L460.9 841.29L461.9 844.24L462.9 847.07L463.9 849.71L464.9 852.07L465.9 854.11L466.8 855.6L467.8 854.71L468.8 853.31L469.8 851.48L470.8 849.31L471.8 846.87L472.8 844.24L473.8 841.52L474.8 838.72L475.8 835.87L476.8 832.98L477.8 830.07L478.8 827.15L479.8 824.23L480.8 821.33L481.8 818.47L482.8 815.66L483.8 812.92L484.8 810.26L485.8 807.67L486.8 805.17L487.8 802.74L488.8 800.38L489.8 798.1L490.8 795.88L491.8 793.74L492.8 791.67L493.8 789.65L494.8 787.71L495.8 785.82L496.8 784L497.8 782.23L498.8 780.52L499.8 778.87L500.8 777.27L501.8 775.72L502.8 774.22L503.8 772.77L504.8 771.36L505.8 770L506.8 768.68L507.8 767.4L508.8 766.16L509.8 764.96L510.8 763.79L511.8 762.66L512.8 761.56L513.8 760.49L514.8 759.45L515.8 758.43L516.8 757.45L517.8 756.5L518.8 755.57L519.8 754.68L520.8 753.81L521.8 752.96L522.8 752.15L523.8 751.36L524.8 750.6L525.8 749.87L526.8 749.16L527.8 748.47L528.8 747.81L529.8 747.18L530.8 746.57L531.8 745.99L532.8 745.43L533.8 744.89L534.8 744.37L535.8 743.88L536.8 743.41L537.8 742.97L538.8 742.54L539.8 742.14L540.8 741.76L541.8 741.4L542.8 741.06L543.8 740.74L544.8 740.43L545.8 740.15L546.8 739.89L547.8 739.65L548.8 739.43L549.8 739.22L550.8 739.03L551.8 738.86L552.8 738.71L553.8 738.57L554.8 738.45L555.8 738.35L556.8 738.26L557.8 738.19L558.8 738.14L559.8 738.1L560.8 738.09L561.8 738.09L562.8 738.1L563.8 738.14L564.8 738.2L565.8 738.27L566.8 738.37L567.8 738.49L568.8 738.62L569.8 738.78L570.8 738.96L571.8 739.16L572.8 739.38L573.8 739.62L574.8 739.89L575.8 740.18L576.8 740.49L577.8 740.82L578.8 741.18L579.8 741.56L580.8 741.97L581.8 742.4L582.8 742.86L583.8 743.34L584.8 743.85L585.8 744.38L586.8 744.94L587.8 745.53L588.8 746.15L589.8 746.79L590.8 747.46L591.8 748.15L592.8 748.88L593.8 749.63L594.8 750.42L595.8 751.23L596.8 752.07L597.8 752.94L598.8 753.84L599.4 754.4"/>
</g>
<path class="k" d="M111 55.5H600M111 357.5H600M111.5 55V358M599.5 55V358M112.5 358V368M132.5 358V363M152.5 358V363M172.5 358V363M193.5 358V363M213.5 358V363M233.5 358V368M254.5 358V363M274.5 358V363M294.5 358V363M314.5 358V363M335.5 358V363M355.5 358V368M375.5 358V363M396.5 358V363M416.5 358V363M436.5 358V363M456.5 358V363M477.5 358V368M497.5 358V363M517.5 358V363M538.5 358V363M558.5 358V363M578.5 358V363M599.5 358V368M106 357.5H111M106 341.5H111M106 327.5H111M106 315.5H111M106 305.5H111M101 295.5H111M106 234.5H111M106 198.5H111M106 173.5H111M106 153.5H111M106 137.5H111M106 123.5H111M106 111.5H111M106 101.5H111M101 91.5H111M627.5 57V358M613 357.5H633M628 322.5H638M628 287.5H633M628 252.5H638M628 217.5H633M628 182.5H638M628 147.5H633M628 112.5H638M628 77.5H633M111 407.5H600M111 514.5H600M111.5 407V515M599.5 407V515M112.5 515V525M132.5 515V520M152.5 515V520M172.5 515V520M193.5 515V520M213.5 515V520M233.5 515V525M254.5 515V520M274.5 515V520M294.5 515V520M314.5 515V520M335.5 515V520M355.5 515V525M375.5 515V520M396.5 515V520M416.5 515V520M436.5 515V520M456.5 515V520M477.5 515V525M497.5 515V520M517.5 515V520M538.5 515V520M558.5 515V520M578.5 515V520M599.5 515V525M106 514.5H111M106 510.5H111M106 508.5H111M106 506.5H111M106 504.5H111M106 502.5H111M106 501.5H111M101 500.5H111M106 492.5H111M106 487.5H111M106 483.5H111M106 481.5H111M106 479.5H111M106 477.5H111M106 475.5H111M106 474.5H111M101 473.5H111M106 465.5H111M106 460.5H111M106 457.5H111M106 454.5H111M106 452.5H111M106 450.5H111M106 448.5H111M106 447.5H111M101 446.5H111M106 438.5H111M106 433.5H111M106 430.5H111M106 427.5H111M106 425.5H111M106 423.5H111M106 422.5H111M106 420.5H111M101 419.5H111M106 411.5H111M111 565.5H600M111 672.5H600M111.5 565V673M599.5 565V673M112.5 673V683M132.5 673V678M152.5 673V678M172.5 673V678M193.5 673V678M213.5 673V678M233.5 673V683M254.5 673V678M274.5 673V678M294.5 673V678M314.5 673V678M335.5 673V678M355.5 673V683M375.5 673V678M396.5 673V678M416.5 673V678M436.5 673V678M456.5 673V678M477.5 673V683M497.5 673V678M517.5 673V678M538.5 673V678M558.5 673V678M578.5 673V678M599.5 673V683M101 671.5H111M106 668.5H111M106 665.5H111M106 663.5H111M106 660.5H111M101 658.5H111M106 655.5H111M106 653.5H111M106 650.5H111M106 648.5H111M101 645.5H111M106 643.5H111M106 640.5H111M106 638.5H111M106 635.5H111M101 633.5H111M106 630.5H111M106 628.5H111M106 625.5H111M106 623.5H111M101 620.5H111M106 618.5H111M106 615.5H111M106 613.5H111M106 610.5H111M101 608.5H111M106 605.5H111M106 603.5H111M106 600.5H111M106 598.5H111M101 595.5H111M106 593.5H111M106 590.5H111M106 588.5H111M106 585.5H111M101 583.5H111M106 580.5H111M106 578.5H111M106 575.5H111M106 573.5H111M101 570.5H111M106 568.5H111M111 722.5H600M111 861.5H600M111.5 722V862M599.5 722V862M112.5 862V872M132.5 862V867M152.5 862V867M172.5 862V867M193.5 862V867M213.5 862V867M233.5 862V872M254.5 862V867M274.5 862V867M294.5 862V867M314.5 862V867M335.5 862V867M355.5 862V872M375.5 862V867M396.5 862V867M416.5 862V867M436.5 862V867M456.5 862V867M477.5 862V872M497.5 862V867M517.5 862V867M538.5 862V867M558.5 862V867M578.5 862V867M599.5 862V872M106 860.5H111M106 858.5H111M101 855.5H111M106 853.5H111M106 850.5H111M106 848.5H111M106 845.5H111M106 843.5H111M106 841.5H111M106 838.5H111M106 836.5H111M106 833.5H111M101 831.5H111M106 828.5H111M106 826.5H111M106 824.5H111M106 821.5H111M106 819.5H111M106 816.5H111M106 814.5H111M106 811.5H111M106 809.5H111M101 807.5H111M106 804.5H111M106 802.5H111M106 799.5H111M106 797.5H111M106 795.5H111M106 792.5H111M106 790.5H111M106 787.5H111M106 785.5H111M101 782.5H111M106 780.5H111M106 778.5H111M106 775.5H111M106 773.5H111M106 770.5H111M106 768.5H111M106 765.5H111M106 763.5H111M106 761.5H111M101 758.5H111M106 756.5H111M106 753.5H111M106 751.5H111M106 748.5H111M106 746.5H111M106 744.5H111M106 741.5H111M106 739.5H111M106 736.5H111M101 734.5H111M106 731.5H111M106 729.5H111M106 727.5H111M106 724.5H111"/>
<g>
<text x="115.2" y="45.4" textLength="43.4" lengthAdjust="spacing">RPS-B</text>
<text x="166.4" y="45.4" textLength="429.2" lengthAdjust="spacing">Unidirectional, differential flux vs energy (Isotropic assumption)</text>
<text x="355.5" y="397.4" text-anchor="middle" textLength="255" lengthAdjust="spacing">RPS  Dose rate in Dosimeter 1 (front)</text>
<text x="355.5" y="555.3" text-anchor="middle" textLength="458" lengthAdjust="spacing">Equatorial pitch angle of particle with 90 degree pitch angle in OPQ</text>
<text x="354.7" y="712.4" text-anchor="middle" textLength="300.3" lengthAdjust="spacing">McIlwain L of locally mirroring particle in OPQ</text>
<text x="96.3" y="91.8" text-anchor="end" textLength="8.86" lengthAdjust="spacing">3</text>
<text x="87.44" y="99" text-anchor="end" textLength="17.72" lengthAdjust="spacing">10</text>
<text x="96.3" y="295.8" text-anchor="end" textLength="8.86" lengthAdjust="spacing">2</text>
<text x="87.44" y="303" text-anchor="end" textLength="17.72" lengthAdjust="spacing">10</text>
<text x="642.1" y="119.8" textLength="17.72" lengthAdjust="spacing">10</text>
<text x="660.22" y="113">2</text>
<text x="642.1" y="189.8" textLength="17.72" lengthAdjust="spacing">10</text>
<text x="660.22" y="183">0</text>
<text x="642.1" y="259.8" textLength="17.72" lengthAdjust="spacing">10</text>
<text x="660.22" y="253" textLength="13.89" lengthAdjust="spacing">-2</text>
<text x="642.1" y="329.8" textLength="17.72" lengthAdjust="spacing">10</text>
<text x="660.22" y="323" textLength="13.89" lengthAdjust="spacing">-4</text>
<text x="96.3" y="419.8" text-anchor="end" textLength="13.89" lengthAdjust="spacing">-3</text>
<text x="82.41" y="427" text-anchor="end" textLength="17.72" lengthAdjust="spacing">10</text>
<text x="96.3" y="446.7" text-anchor="end" textLength="13.89" lengthAdjust="spacing">-4</text>
<text x="82.41" y="453.9" text-anchor="end" textLength="17.72" lengthAdjust="spacing">10</text>
<text x="96.3" y="473.6" text-anchor="end" textLength="13.89" lengthAdjust="spacing">-5</text>
<text x="82.41" y="480.8" text-anchor="end" textLength="17.72" lengthAdjust="spacing">10</text>
<text x="96.3" y="500.5" text-anchor="end" textLength="13.89" lengthAdjust="spacing">-6</text>
<text x="82.41" y="507.7" text-anchor="end" textLength="17.72" lengthAdjust="spacing">10</text>
<text x="96.4" y="675.5" text-anchor="end" textLength="22.15" lengthAdjust="spacing">50.</text>
<text x="96.4" y="662.95" text-anchor="end" textLength="22.15" lengthAdjust="spacing">55.</text>
<text x="96.4" y="650.4" text-anchor="end" textLength="22.15" lengthAdjust="spacing">60.</text>
<text x="96.4" y="637.85" text-anchor="end" textLength="22.15" lengthAdjust="spacing">65.</text>
<text x="96.4" y="625.3" text-anchor="end" textLength="22.15" lengthAdjust="spacing">70.</text>
<text x="96.4" y="612.75" text-anchor="end" textLength="22.15" lengthAdjust="spacing">75.</text>
<text x="96.4" y="600.2" text-anchor="end" textLength="22.15" lengthAdjust="spacing">80.</text>
<text x="96.4" y="587.65" text-anchor="end" textLength="22.15" lengthAdjust="spacing">85.</text>
<text x="96.4" y="575.1" text-anchor="end" textLength="22.15" lengthAdjust="spacing">90.</text>
<text x="96.4" y="860.1" text-anchor="end" textLength="13.29" lengthAdjust="spacing">1.</text>
<text x="96.4" y="835.86" text-anchor="end" textLength="13.29" lengthAdjust="spacing">2.</text>
<text x="96.4" y="811.62" text-anchor="end" textLength="13.29" lengthAdjust="spacing">3.</text>
<text x="96.4" y="787.38" text-anchor="end" textLength="13.29" lengthAdjust="spacing">4.</text>
<text x="96.4" y="763.14" text-anchor="end" textLength="13.29" lengthAdjust="spacing">5.</text>
<text x="96.4" y="738.9" text-anchor="end" textLength="13.29" lengthAdjust="spacing">6.</text>
<text transform="translate(55.2 261) rotate(-90)" textLength="108.5" lengthAdjust="spacing" xml:space="preserve">FPDI<tspan dy="3.9" font-size="9.33px" stroke="#000" stroke-width="0.2">Energy</tspan><tspan dy="-3.9"> (MeV)</tspan></text>
<text textLength="69.5" lengthAdjust="spacing" transform="translate(53.6 496.2) rotate(-90)">(rads/sec)</text>
<text transform="translate(56.2 653.6) rotate(-90)" textLength="68" lengthAdjust="spacing" xml:space="preserve">α<tspan dy="6.9">Eq</tspan><tspan dy="-6.9"> (deg)</tspan></text>
<text transform="translate(64.9 813.3) rotate(-90)" textLength="40.6" lengthAdjust="spacing" xml:space="preserve">L (R<tspan dy="7.1">E</tspan><tspan dy="-7.1">)</tspan></text>
<text textLength="170.4" lengthAdjust="spacing" transform="translate(684.8 120.7) rotate(90)">FPDI (#/cm^2/s/sr/MeV)</text>
<text x="132.9" y="891" text-anchor="end" textLength="40.14" lengthAdjust="spacing">00:00</text>
<text x="132.9" y="908" text-anchor="end" textLength="39.88" lengthAdjust="spacing">2.112</text>
<text x="132.9" y="924.7" text-anchor="end" textLength="53.77" lengthAdjust="spacing">-16.900</text>
<text x="132.9" y="941.5" text-anchor="end" textLength="39.88" lengthAdjust="spacing">9.352</text>
<text x="132.9" y="958.4" text-anchor="end" textLength="39.88" lengthAdjust="spacing">2.306</text>
<text x="253.9" y="891" text-anchor="end" textLength="40.14" lengthAdjust="spacing">06:00</text>
<text x="253.9" y="908" text-anchor="end" textLength="39.88" lengthAdjust="spacing">4.936</text>
<text x="253.9" y="924.7" text-anchor="end" textLength="44.9" lengthAdjust="spacing">-9.214</text>
<text x="253.9" y="941.5" text-anchor="end" textLength="48.74" lengthAdjust="spacing">15.920</text>
<text x="253.9" y="958.4" text-anchor="end" textLength="39.88" lengthAdjust="spacing">5.066</text>
<text x="375.9" y="891" text-anchor="end" textLength="40.14" lengthAdjust="spacing">12:00</text>
<text x="375.9" y="908" text-anchor="end" textLength="39.88" lengthAdjust="spacing">5.617</text>
<text x="375.9" y="924.7" text-anchor="end" textLength="44.9" lengthAdjust="spacing">-8.625</text>
<text x="375.9" y="941.5" text-anchor="end" textLength="48.74" lengthAdjust="spacing">13.330</text>
<text x="375.9" y="958.4" text-anchor="end" textLength="39.88" lengthAdjust="spacing">5.746</text>
<text x="497.8" y="891" text-anchor="end" textLength="40.14" lengthAdjust="spacing">18:00</text>
<text x="497.8" y="908" text-anchor="end" textLength="39.88" lengthAdjust="spacing">1.880</text>
<text x="497.8" y="924.7" text-anchor="end" textLength="44.9" lengthAdjust="spacing">-4.496</text>
<text x="497.8" y="941.5" text-anchor="end" textLength="39.88" lengthAdjust="spacing">8.568</text>
<text x="497.8" y="958.4" text-anchor="end" textLength="39.88" lengthAdjust="spacing">1.891</text>
<text x="619.4" y="891" text-anchor="end" textLength="40.14" lengthAdjust="spacing">00:00</text>
<text x="619.4" y="908" text-anchor="end" textLength="39.88" lengthAdjust="spacing">5.026</text>
<text x="619.4" y="924.7" text-anchor="end" textLength="39.88" lengthAdjust="spacing">3.901</text>
<text x="619.4" y="941.5" text-anchor="end" textLength="48.74" lengthAdjust="spacing">16.020</text>
<text x="619.4" y="958.4" text-anchor="end" textLength="39.88" lengthAdjust="spacing">5.050</text>
<text x="71.9" y="906" text-anchor="end" textLength="16.6" lengthAdjust="spacing">R<tspan dy="3.6" font-size="9.33px" stroke="#000" stroke-width="0.2">E</tspan></text>
<text x="73" y="922.7" text-anchor="end" textLength="33" lengthAdjust="spacing">MLat</text>
<text x="72.6" y="939.5" text-anchor="end" textLength="28.2" lengthAdjust="spacing">MLT</text>
<text x="72.6" y="957" text-anchor="end">L</text>
<text x="355.8" y="979" text-anchor="middle" textLength="123.2" lengthAdjust="spacing">2017-07-16 (197)</text>
</g>
</svg>
</body></html>
